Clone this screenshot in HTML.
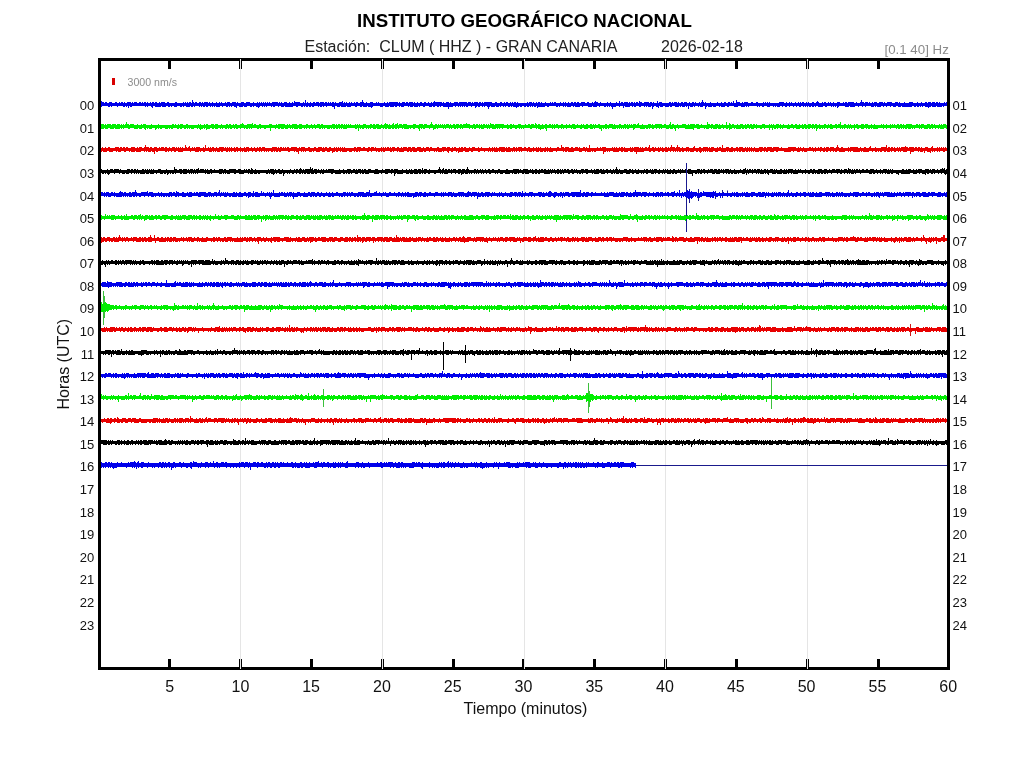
<!DOCTYPE html>
<html><head><meta charset="utf-8"><title>Helicorder</title><style>html,body{margin:0;padding:0;background:#fff;width:1024px;height:768px;overflow:hidden}svg{display:block}</style></head><body>
<svg width="1024" height="768" viewBox="0 0 1024 768">
<rect width="1024" height="768" fill="#fff"/>
<rect x="240" y="61" width="1" height="606" fill="#e5e5e5"/>
<rect x="382" y="61" width="1" height="606" fill="#e5e5e5"/>
<rect x="524" y="61" width="1" height="606" fill="#e5e5e5"/>
<rect x="665" y="61" width="1" height="606" fill="#e5e5e5"/>
<rect x="807" y="61" width="1" height="606" fill="#e5e5e5"/>
<path d="M100.5 102.0V106.0m1 -5v6m1 -5v4m1 -4v4m1 -3v3m1 -4v4m1 -4v4m1 -3v3m1 -3v4m1 -5v5m1 -5v4m1 -4v5m1 -4v3m1 -3v3m1 -3v3m1 -4v4m1 -4v4m1 -3v4m1 -4v3m1 -4v4m1 -3v3m1 -4v4m1 -4v4m1 -3v4m1 -5v5m1 -4v3m1 -3v4m1 -5v4m1 -4v6m1 -6v4m1 -4v5m1 -4v4m1 -5v4m1 -3v3m1 -4v4m1 -4v4m1 -4v4m1 -3v3m1 -3v3m1 -4v4m1 -4v4m1 -3v3m1 -4v4m1 -3v3m1 -4v4m1 -4v5m1 -4v3m1 -4v5m1 -4v3m1 -3v3m1 -4v4m1 -3v4m1 -5v6m1 -6v4m1 -3v3m1 -4v5m1 -5v5m1 -4v4m1 -4v4m1 -5v5m1 -4v4m1 -5v4m1 -4v5m1 -5v5m1 -5v5m1 -4v4m1 -4v3m1 -4v4m1 -4v5m1 -4v4m1 -4v3m1 -3v4m1 -4v3m1 -3v3m1 -3v4m1 -5v5m1 -5v5m1 -4v3m1 -3v3m1 -3v3m1 -3v4m1 -4v4m1 -4v3m1 -4v5m1 -4v3m1 -4v4m1 -3v4m1 -5v5m1 -4v4m1 -5v5m1 -5v4m1 -3v4m1 -7v7m1 -5v4m1 -3v4m1 -5v4m1 -4v4m1 -3v3m1 -3v3m1 -4v5m1 -5v4m1 -3v4m1 -5v4m1 -3v4m1 -5v5m1 -5v4m1 -4v5m1 -5v5m1 -4v3m1 -4v4m1 -3v4m1 -4v3m1 -4v5m1 -4v3m1 -3v4m1 -4v3m1 -4v5m1 -4v4m1 -4v4m1 -5v5m1 -4v3m1 -4v4m1 -3v4m1 -4v3m1 -3v3m1 -4v4m1 -3v4m1 -5v5m1 -5v4m1 -4v5m1 -4v3m1 -3v4m1 -5v4m1 -4v4m1 -4v5m1 -5v5m1 -4v5m1 -6v4m1 -3v3m1 -3v4m1 -4v4m1 -5v5m1 -5v5m1 -5v4m1 -3v4m1 -4v4m1 -5v5m1 -5v4m1 -4v4m1 -4v4m1 -3v4m1 -4v4m1 -4v3m1 -4v5m1 -4v3m1 -3v3m1 -3v4m1 -5v5m1 -4v5m1 -6v5m1 -4v3m1 -4v4m1 -3v4m1 -5v4m1 -3v4m1 -5v4m1 -3v4m1 -5v4m1 -3v3m1 -4v4m1 -3v3m1 -3v4m1 -5v4m1 -4v5m1 -5v5m1 -5v4m1 -4v4m1 -4v4m1 -3v4m1 -5v4m1 -3v3m1 -4v5m1 -4v4m1 -4v4m1 -5v4m1 -4v5m1 -5v5m1 -4v4m1 -4v4m1 -5v5m1 -4v4m1 -4v4m1 -5v5m1 -4v3m1 -5v5m1 -4v4m1 -4v5m1 -5v5m1 -5v4m1 -4v4m1 -3v3m1 -3v4m1 -4v4m1 -5v4m1 -3v4m1 -7v6m1 -3v4m1 -5v5m1 -4v3m1 -3v4m1 -5v5m1 -4v3m1 -3v4m1 -5v5m1 -5v4m1 -3v3m1 -4v4m1 -4v4m1 -4v5m1 -4v3m1 -4v5m1 -5v5m1 -5v4m1 -4v5m1 -4v3m1 -4v4m1 -4v5m1 -4v3m1 -4v4m1 -3v3m1 -4v4m1 -3v3m1 -4v5m1 -5v5m1 -4v6m1 -7v4m1 -3v3m1 -3v4m1 -4v4m1 -5v5m1 -5v4m1 -4v5m1 -6v6m1 -4v4m1 -5v5m1 -4v4m1 -5v4m1 -3v4m1 -4v4m1 -5v5m1 -4v4m1 -5v4m1 -3v3m1 -3v3m1 -4v4m1 -3v4m1 -5v5m1 -5v4m1 -3v3m1 -3v3m1 -4v5m1 -5v5m1 -7v6m1 -4v5m1 -4v4m1 -4v4m1 -5v5m1 -4v3m1 -3v4m1 -4v4m1 -5v5m1 -5v6m1 -6v5m1 -4v3m1 -3v3m1 -3v3m1 -4v4m1 -3v3m1 -4v4m1 -3v3m1 -3v4m1 -4v4m1 -4v4m1 -4v3m1 -4v4m1 -3v4m1 -4v4m1 -5v5m1 -4v4m1 -5v4m1 -4v5m1 -5v5m1 -5v5m1 -5v5m1 -5v4m1 -4v5m1 -5v5m1 -5v4m1 -3v3m1 -4v5m1 -4v3m1 -3v4m1 -5v5m1 -5v5m1 -5v4m1 -3v3m1 -4v4m1 -4v4m1 -3v4m1 -5v4m1 -4v5m1 -5v5m1 -5v5m1 -4v3m1 -4v5m1 -4v4m1 -4v4m1 -5v5m1 -4v3m1 -3v4m1 -5v4m1 -4v4m1 -3v3m1 -3v4m1 -5v5m1 -5v4m1 -3v3m1 -3v3m1 -4v4m1 -3v4m1 -4v4m1 -5v5m1 -4v3m1 -4v5m1 -6v6m1 -5v4m1 -4v4m1 -4v5m1 -5v5m1 -5v4m1 -4v5m1 -5v4m1 -3v3m1 -4v5m1 -4v4m1 -4v4m1 -5v5m1 -5v5m1 -5v7m1 -6v4m1 -5v5m1 -4v4m1 -4v4m1 -4v3m1 -4v4m1 -4v5m1 -5v4m1 -4v4m1 -3v4m1 -5v4m1 -4v5m1 -5v4m1 -4v5m1 -5v4m1 -4v5m1 -5v4m1 -4v5m1 -4v4m1 -5v4m1 -4v4m1 -4v4m1 -3v4m1 -5v4m1 -3v3m1 -4v4m1 -4v6m1 -6v5m1 -5v4m1 -3v4m1 -5v5m1 -5v4m1 -3v3m1 -4v5m1 -4v3m1 -4v5m1 -5v4m1 -4v4m1 -4v5m1 -5v7m1 -7v5m1 -5v4m1 -4v5m1 -4v4m1 -4v4m1 -4v4m1 -5v4m1 -4v5m1 -4v4m1 -4v4m1 -4v3m1 -4v5m1 -5v4m1 -3v3m1 -3v4m1 -5v4m1 -3v4m1 -5v4m1 -4v4m1 -3v4m1 -4v4m1 -5v4m1 -3v4m1 -5v4m1 -3v4m1 -5v5m1 -5v5m1 -4v5m1 -6v5m1 -4v4m1 -4v3m1 -3v4m1 -4v4m1 -4v3m1 -3v3m1 -3v4m1 -4v4m1 -4v3m1 -4v5m1 -4v4m1 -5v4m1 -4v5m1 -5v4m1 -3v4m1 -5v4m1 -3v4m1 -4v4m1 -5v4m1 -3v5m1 -6v5m1 -5v5m1 -4v4m1 -5v5m1 -4v4m1 -4v4m1 -4v4m1 -5v4m1 -3v3m1 -3v4m1 -4v4m1 -4v3m1 -4v4m1 -3v3m1 -4v4m1 -3v3m1 -4v4m1 -4v4m1 -3v4m1 -4v4m1 -4v3m1 -3v4m1 -5v4m1 -3v3m1 -3v3m1 -4v5m1 -4v3m1 -4v5m1 -4v3m1 -3v4m1 -5v5m1 -4v4m1 -4v4m1 -5v4m1 -4v4m1 -3v4m1 -5v4m1 -4v5m1 -4v4m1 -5v5m1 -5v5m1 -4v4m1 -4v3m1 -4v4m1 -4v5m1 -5v4m1 -4v4m1 -3v3m1 -3v3m1 -4v4m1 -4v5m1 -4v4m1 -4v4m1 -4v4m1 -5v4m1 -3v4m1 -5v5m1 -6v6m1 -5v5m1 -5v4m1 -3v3m1 -3v4m1 -5v4m1 -3v3m1 -3v3m1 -3v3m1 -3v4m1 -4v4m1 -4v3m1 -4v5m1 -4v3m1 -3v4m1 -5v4m1 -3v4m1 -4v6m1 -6v4m1 -4v4m1 -4v4m1 -5v4m1 -3v3m1 -3v3m1 -5v6m1 -4v3m1 -4v4m1 -4v4m1 -3v5m1 -6v4m1 -4v5m1 -5v5m1 -5v5m1 -4v4m1 -5v5m1 -4v3m1 -4v4m1 -4v5m1 -4v3m1 -4v5m1 -4v4m1 -5v4m1 -4v4m1 -3v3m1 -5v6m1 -5v5m1 -5v4m1 -3v3m1 -3v3m1 -4v5m1 -5v4m1 -4v5m1 -5v4m1 -4v5m1 -4v4m1 -5v5m1 -5v4m1 -3v6m1 -7v5m1 -4v3m1 -3v3m1 -3v4m1 -6v6m1 -4v5m1 -6v4m1 -4v5m1 -5v5m1 -4v4m1 -4v3m1 -3v3m1 -3v4m1 -4v4m1 -4v4m1 -4v4m1 -5v4m1 -4v5m1 -4v4m1 -5v4m1 -3v3m1 -4v4m1 -4v5m1 -5v5m1 -4v4m1 -5v5m1 -4v3m1 -3v4m1 -5v4m1 -4v5m1 -4v4m1 -5v5m1 -5v4m1 -4v5m1 -4v3m1 -3v6m1 -7v4m1 -3v4m1 -4v4m1 -5v5m1 -5v4m1 -3v4m1 -5v4m1 -3v3m1 -3v3m1 -3v4m1 -5v4m1 -3v4m1 -5v5m1 -7v7m1 -5v4m1 -3v3m1 -4v7m1 -6v4m1 -4v3m1 -3v4m1 -4v4m1 -5v5m1 -4v4m1 -4v3m1 -3v4m1 -4v4m1 -4v4m1 -4v3m1 -4v4m1 -3v3m1 -3v4m1 -4v3m1 -4v5m1 -4v4m1 -4v4m1 -5v5m1 -5v4m1 -3v3m1 -3v4m1 -5v5m1 -5v4m1 -3v3m1 -4v4m1 -3v3m1 -5v5m1 -3v4m1 -4v4m1 -7v7m1 -5v5m1 -5v4m1 -4v4m1 -3v3m1 -3v4m1 -5v5m1 -4v4m1 -5v5m1 -5v4m1 -4v5m1 -5v4m1 -3v4m1 -4v3m1 -3v3m1 -4v4m1 -4v4m1 -3v3m1 -3v3m1 -3v3m1 -4v4m1 -4v5m1 -4v3m1 -3v4m1 -4v3m1 -3v3m1 -3v4m1 -5v5m1 -4v3m1 -4v4m1 -3v3m1 -4v5m1 -4v4m1 -5v5m1 -4v3m1 -3v3m1 -3v3m1 -3v4m1 -4v3m1 -3v4m1 -4v3m1 -3v4m1 -4v4m1 -5v5m1 -5v4m1 -4v4m1 -4v5m1 -5v4m1 -3v3m1 -3v4m1 -5v5m1 -4v3m1 -3v3m1 -4v5m1 -4v3m1 -4v4m1 -3v3m1 -3v4m1 -4v3m1 -4v4m1 -3v4m1 -4v3m1 -4v4m1 -3v4m1 -5v5m1 -4v3m1 -4v4m1 -4v5m1 -4v3m1 -3v4m1 -5v4m1 -3v4m1 -5v4m1 -3v4m1 -4v4m1 -4v3m1 -4v5m1 -5v5m1 -4v3m1 -3v4m1 -5v4m1 -5v5m1 -4v5m1 -4v4m1 -4v4m1 -4v4m1 -5v5m1 -4v3m1 -4v4m1 -4v5m1 -4v4m1 -4v3m1 -4v4m1 -3v3m1 -4v4m1 -3v4m1 -4v3m1 -4v5m1 -4v3m1 -3v4m1 -4v3m1 -4v6m1 -6v5m1 -5v4m1 -3v3m1 -3v3m1 -3v3m1 -4v4m1 -3v3m1 -4v5m1 -5v5m1 -4v4m1 -5v5m1 -5v4m1 -4v5m1 -5v5m1 -5v5m1 -5v5m1 -4v4m1 -4v3m1 -4v4m1 -3v3m1 -3v4m1 -4v3m1 -4v4m1 -6v6m1 -4v5m1 -5v4m1 -3v3m1 -4v5m1 -5v4m1 -4v4m1 -3v3m1 -4v4m1 -3v3m1 -3v4m1 -5v5m1 -4v4m1 -5v4m1 -4v5m1 -5v4m1 -3v4m1 -4v4m1 -5v5m1 -5v5m1 -5v4m1 -4v4m1 -3v4m1 -5v4m1 -3v3m1 -3v4m1 -5v4m1 -4v4m1 -4v4m1 -4v5m1 -5v4m1 -3v3m1 -3v4m1 -4v4m1 -5v5m1 -5v4m1 -4v4m1 -3v4m1 -5v5m1 -4v4m1 -4v3m1 -3v4m1 -4v4m1 -5v5m1 -4v4m1 -4v4m1 -4v4m1 -4v4m1 -5v5m1 -5v5m1 -5v5m1 -5v4m1 -3v3m1 -3v4m1 -4v4m1 -4v3m1 -4v5m1 -4v4m1 -4v3m1 -3v4m1 -5v4m1 -3v4m1 -4v3m1 -3v3m1 -4v5m1 -5v5m1 -4v4m1 -5v6m1 -6v5m1 -5v5m1 -4v3m1 -4v5m1 -5v5m1 -5v5m1 -4v4m1 -5v4m1 -4v5m1 -4v4m1 -5v5m1 -4v4m1 -4v4m1 -4v3m1 -3v4m1 -5v4m1 -3v3m1 -4v4m1 -3v4" stroke="#0000ea" stroke-width="1" fill="none"/>
<path d="M100.5 125.0V128.0m1 -4v5m1 -5v5m1 -5v5m1 -4v3m1 -4v5m1 -4v4m1 -5v5m1 -5v4m1 -4v4m1 -4v5m1 -4v4m1 -5v5m1 -5v5m1 -5v4m1 -4v5m1 -4v4m1 -5v5m1 -5v5m1 -5v5m1 -4v3m1 -4v5m1 -4v3m1 -4v5m1 -4v3m1 -4v4m1 -6v6m1 -4v4m1 -4v5m1 -4v4m1 -5v4m1 -4v4m1 -4v4m1 -4v4m1 -3v4m1 -4v4m1 -4v4m1 -5v5m1 -4v3m1 -3v4m1 -4v4m1 -5v5m1 -4v3m1 -4v4m1 -4v5m1 -5v6m1 -5v3m1 -3v4m1 -4v3m1 -3v4m1 -4v4m1 -5v5m1 -4v3m1 -3v3m1 -3v3m1 -3v5m1 -5v4m1 -4v3m1 -4v5m1 -4v3m1 -3v4m1 -4v4m1 -4v3m1 -3v3m1 -3v3m1 -3v4m1 -4v4m1 -4v4m1 -4v3m1 -3v4m1 -4v3m1 -3v4m1 -5v5m1 -5v4m1 -3v3m1 -4v4m1 -3v3m1 -3v4m1 -5v5m1 -4v3m1 -4v5m1 -5v5m1 -5v4m1 -3v3m1 -3v4m1 -4v4m1 -5v4m1 -4v5m1 -4v3m1 -3v4m1 -4v3m1 -3v4m1 -4v4m1 -4v4m1 -4v3m1 -3v3m1 -3v3m1 -3v4m1 -5v4m1 -3v4m1 -5v6m1 -5v4m1 -4v4m1 -4v3m1 -4v5m1 -4v3m1 -4v6m1 -6v5m1 -4v4m1 -4v4m1 -4v3m1 -4v4m1 -4v5m1 -5v5m1 -4v3m1 -4v5m1 -5v5m1 -5v5m1 -4v3m1 -3v3m1 -3v4m1 -5v4m1 -3v4m1 -4v3m1 -3v3m1 -3v4m1 -5v5m1 -5v4m1 -3v4m1 -5v4m1 -4v5m1 -4v4m1 -4v3m1 -4v4m1 -3v4m1 -5v4m1 -4v5m1 -4v4m1 -4v3m1 -3v3m1 -4v5m1 -5v4m1 -5v5m1 -4v4m1 -3v4m1 -4v3m1 -3v4m1 -5v5m1 -5v4m1 -4v5m1 -5v4m1 -4v5m1 -6v5m1 -3v3m1 -4v4m1 -4v4m1 -3v3m1 -3v4m1 -4v4m1 -5v4m1 -4v5m1 -4v3m1 -3v3m1 -3v3m1 -3v4m1 -4v4m1 -4v3m1 -3v3m1 -3v3m1 -4v4m1 -4v7m1 -7v4m1 -3v3m1 -3v3m1 -3v3m1 -3v4m1 -5v4m1 -3v3m1 -4v5m1 -5v5m1 -5v4m1 -4v5m1 -5v5m1 -5v5m1 -5v4m1 -3v4m1 -4v4m1 -5v5m1 -4v3m1 -4v4m1 -3v4m1 -4v3m1 -4v5m1 -5v4m1 -4v5m1 -5v5m1 -5v5m1 -4v4m1 -4v3m1 -4v5m1 -5v5m1 -5v5m1 -4v3m1 -3v3m1 -3v4m1 -4v3m1 -4v5m1 -5v4m1 -3v3m1 -3v4m1 -4v3m1 -4v4m1 -3v4m1 -4v3m1 -4v4m1 -3v4m1 -4v3m1 -4v4m1 -4v4m1 -4v5m1 -4v4m1 -5v4m1 -4v5m1 -4v3m1 -3v4m1 -4v3m1 -3v3m1 -3v4m1 -4v4m1 -4v4m1 -4v3m1 -3v4m1 -5v4m1 -4v5m1 -5v5m1 -4v3m1 -4v5m1 -4v4m1 -5v4m1 -4v5m1 -4v3m1 -4v5m1 -5v4m1 -3v4m1 -5v5m1 -4v4m1 -5v5m1 -4v3m1 -4v4m1 -3v3m1 -4v4m1 -3v3m1 -3v3m1 -3v3m1 -3v3m1 -4v5m1 -4v4m1 -5v4m1 -3v6m1 -7v4m1 -3v4m1 -4v3m1 -3v4m1 -5v5m1 -5v4m1 -4v4m1 -3v4m1 -4v3m1 -3v4m1 -4v3m1 -4v5m1 -5v4m1 -3v3m1 -4v5m1 -5v5m1 -4v4m1 -5v4m1 -4v5m1 -5v5m1 -4v4m1 -4v4m1 -5v4m1 -3v3m1 -3v4m1 -5v4m1 -5v6m1 -5v5m1 -5v4m1 -3v4m1 -5v5m1 -4v4m1 -4v3m1 -4v5m1 -6v6m1 -4v3m1 -4v5m1 -5v5m1 -6v5m1 -3v4m1 -5v4m1 -4v4m1 -4v4m1 -3v4m1 -5v4m1 -4v5m1 -5v5m1 -5v5m1 -4v4m1 -4v4m1 -4v3m1 -3v4m1 -4v3m1 -3v3m1 -4v5m1 -5v5m1 -5v4m1 -3v3m1 -3v3m1 -3v4m1 -5v7m1 -7v4m1 -4v5m1 -5v4m1 -3v4m1 -5v5m1 -5v4m1 -4v4m1 -3v3m1 -3v3m1 -3v4m1 -5v4m1 -6v6m1 -4v4m1 -3v5m1 -5v4m1 -5v5m1 -5v4m1 -3v4m1 -5v4m1 -3v3m1 -4v4m1 -3v3m1 -4v4m1 -3v4m1 -5v4m1 -3v4m1 -5v4m1 -4v4m1 -4v4m1 -3v4m1 -5v4m1 -3v4m1 -4v3m1 -4v4m1 -4v5m1 -4v4m1 -5v4m1 -4v5m1 -5v4m1 -3v3m1 -4v5m1 -5v4m1 -3v4m1 -5v4m1 -4v4m1 -4v4m1 -5v5m1 -4v4m1 -4v4m1 -4v5m1 -4v3m1 -3v3m1 -3v4m1 -5v4m1 -4v5m1 -4v4m1 -5v4m1 -4v4m1 -3v3m1 -4v5m1 -4v3m1 -4v5m1 -4v4m1 -5v5m1 -5v4m1 -3v3m1 -4v4m1 -3v4m1 -5v4m1 -3v4m1 -6v5m1 -4v4m1 -4v5m1 -5v5m1 -4v4m1 -5v5m1 -5v4m1 -4v5m1 -5v4m1 -4v5m1 -5v4m1 -4v4m1 -4v5m1 -5v4m1 -3v3m1 -3v3m1 -3v3m1 -4v5m1 -4v4m1 -4v3m1 -4v5m1 -5v5m1 -4v3m1 -4v4m1 -3v3m1 -3v4m1 -4v4m1 -4v3m1 -4v4m1 -4v5m1 -5v4m1 -3v4m1 -4v3m1 -3v4m1 -4v3m1 -4v4m1 -3v3m1 -3v3m1 -4v4m1 -4v4m1 -3v4m1 -5v5m1 -5v4m1 -4v4m1 -3v3m1 -5v5m1 -4v5m1 -4v3m1 -4v5m1 -5v5m1 -4v5m1 -5v4m1 -5v5m1 -4v4m1 -4v3m1 -4v5m1 -5v7m1 -6v3m1 -3v3m1 -4v4m1 -4v4m1 -3v3m1 -4v5m1 -4v3m1 -4v5m1 -4v3m1 -4v4m1 -4v4m1 -3v4m1 -4v3m1 -3v3m1 -4v5m1 -5v4m1 -3v4m1 -4v3m1 -3v3m1 -4v5m1 -4v3m1 -3v3m1 -4v4m1 -3v3m1 -3v4m1 -5v4m1 -4v5m1 -5v5m1 -4v4m1 -4v3m1 -4v4m1 -3v3m1 -3v3m1 -3v4m1 -5v5m1 -4v3m1 -4v4m1 -3v4m1 -4v4m1 -5v5m1 -5v5m1 -4v3m1 -3v3m1 -4v5m1 -5v5m1 -4v4m1 -5v4m1 -3v4m1 -5v4m1 -3v3m1 -3v3m1 -4v4m1 -4v5m1 -4v4m1 -4v6m1 -6v3m1 -3v4m1 -4v3m1 -4v5m1 -5v5m1 -4v3m1 -3v4m1 -5v4m1 -4v4m1 -4v4m1 -4v5m1 -4v4m1 -5v5m1 -4v4m1 -4v3m1 -3v4m1 -4v3m1 -4v5m1 -5v4m1 -3v4m1 -4v3m1 -3v4m1 -5v4m1 -4v5m1 -4v3m1 -4v5m1 -4v4m1 -5v4m1 -3v3m1 -4v4m1 -3v3m1 -4v6m1 -6v5m1 -5v4m1 -3v3m1 -4v4m1 -5v5m1 -3v3m1 -3v4m1 -4v4m1 -5v5m1 -4v4m1 -4v4m1 -4v3m1 -3v4m1 -4v4m1 -5v4m1 -4v5m1 -5v4m1 -3v3m1 -4v5m1 -4v4m1 -4v3m1 -4v4m1 -4v5m1 -5v4m1 -4v4m1 -4v5m1 -5v4m1 -4v5m1 -4v3m1 -3v3m1 -4v4m1 -4v4m1 -3v4m1 -4v4m1 -4v4m1 -5v4m1 -6v7m1 -4v4m1 -5v5m1 -5v4m1 -3v4m1 -4v6m1 -6v3m1 -4v4m1 -3v4m1 -4v3m1 -3v3m1 -3v3m1 -4v4m1 -4v4m1 -4v4m1 -4v5m1 -4v4m1 -4v4m1 -5v5m1 -4v4m1 -5v5m1 -5v5m1 -5v5m1 -5v6m1 -6v4m1 -3v3m1 -4v4m1 -4v5m1 -5v5m1 -4v4m1 -4v3m1 -4v4m1 -3v3m1 -3v3m1 -3v4m1 -4v3m1 -3v4m1 -7v7m1 -5v5m1 -5v4m1 -3v3m1 -4v5m1 -5v4m1 -3v4m1 -4v4m1 -5v5m1 -5v5m1 -5v4m1 -3v4m1 -5v5m1 -4v4m1 -4v3m1 -4v4m1 -3v4m1 -4v3m1 -3v3m1 -6v7m1 -4v4m1 -4v3m1 -5v7m1 -6v5m1 -4v4m1 -5v4m1 -4v4m1 -3v4m1 -4v3m1 -3v4m1 -5v5m1 -4v4m1 -4v4m1 -5v5m1 -5v4m1 -4v5m1 -4v4m1 -4v3m1 -4v5m1 -4v4m1 -5v4m1 -4v4m1 -3v4m1 -5v4m1 -4v5m1 -4v4m1 -5v5m1 -5v4m1 -3v3m1 -4v5m1 -4v3m1 -3v3m1 -3v3m1 -3v4m1 -4v4m1 -5v4m1 -4v4m1 -4v5m1 -4v3m1 -3v3m1 -3v3m1 -3v3m1 -4v6m1 -5v3m1 -4v4m1 -3v5m1 -6v4m1 -3v4m1 -4v4m1 -5v4m1 -4v5m1 -5v4m1 -3v3m1 -4v5m1 -4v3m1 -3v4m1 -5v4m1 -3v3m1 -3v3m1 -3v3m1 -3v4m1 -5v5m1 -4v4m1 -4v3m1 -4v4m1 -4v4m1 -3v4m1 -4v3m1 -4v4m1 -4v5m1 -4v4m1 -4v4m1 -5v5m1 -4v3m1 -3v3m1 -4v5m1 -4v4m1 -5v4m1 -4v5m1 -4v4m1 -4v3m1 -4v5m1 -5v5m1 -5v4m1 -3v3m1 -4v5m1 -5v4m1 -3v4m1 -5v4m1 -4v7m1 -6v4m1 -4v3m1 -4v5m1 -4v4m1 -4v3m1 -3v4m1 -4v3m1 -4v5m1 -5v4m1 -3v3m1 -3v4m1 -5v4m1 -3v3m1 -4v5m1 -5v5m1 -4v4m1 -4v3m1 -3v3m1 -4v4m1 -4v5m1 -4v3m1 -4v4m1 -4v4m1 -6v7m1 -4v3m1 -3v4m1 -4v3m1 -4v5m1 -5v4m1 -3v3m1 -3v4m1 -5v4m1 -3v4m1 -5v4m1 -3v4m1 -4v3m1 -3v3m1 -4v6m1 -5v3m1 -4v4m1 -4v5m1 -4v4m1 -4v3m1 -3v3m1 -4v5m1 -5v5m1 -5v5m1 -4v3m1 -4v4m1 -4v5m1 -5v4m1 -3v4m1 -4v4m1 -4v3m1 -4v5m1 -4v3m1 -3v4m1 -5v5m1 -4v4m1 -4v4m1 -4v4m1 -4v3m1 -3v3m1 -3v3m1 -4v4m1 -3v3m1 -4v5m1 -4v3m1 -3v3m1 -4v5m1 -4v3m1 -3v3m1 -3v3m1 -4v5m1 -4v3m1 -4v4m1 -3v3m1 -4v4m1 -3v3m1 -3v4m1 -5v4m1 -4v5m1 -4v4m1 -5v4m1 -4v5m1 -4v3m1 -4v5m1 -4v3m1 -3v4m1 -5v5m1 -5v4m1 -4v5m1 -5v5m1 -5v5m1 -5v4m1 -3v4m1 -4v3m1 -3v4m1 -4v3m1 -4v4m1 -4v4m1 -3v3m1 -4v5m1 -4v3m1 -4v5m1 -5v4m1 -4v4m1 -3v4m1 -4v4m1 -4v4m1 -5v5m1 -5v4m1 -4v5m1 -4v4m1 -5v4m1 -4v5m1 -4v3m1 -4v4m1 -3v4m1 -4v3m1 -3v3m1 -3v4m1 -5v4m1 -3v4m1 -5v5m1 -4v4m1 -5v5m1 -5v4m1 -4v4m1 -3v4m1 -4v4" stroke="#00ee00" stroke-width="1" fill="none"/>
<path d="M100.5 147.0V151.0m1 -3v4m1 -5v4m1 -3v4m1 -4v4m1 -5v5m1 -4v4m1 -4v3m1 -4v4m1 -4v5m1 -4v4m1 -4v4m1 -4v4m1 -4v3m1 -3v3m1 -4v4m1 -4v5m1 -5v4m1 -4v5m1 -4v4m1 -5v5m1 -5v4m1 -3v3m1 -4v4m1 -4v5m1 -4v4m1 -5v4m1 -4v4m1 -3v3m1 -3v4m1 -4v3m1 -4v5m1 -5v5m1 -5v5m1 -5v5m1 -4v3m1 -3v4m1 -5v5m1 -4v4m1 -5v5m1 -5v5m1 -5v4m1 -3v3m1 -3v3m1 -4v5m1 -7v6m1 -4v5m1 -5v4m1 -4v5m1 -4v4m1 -5v5m1 -5v4m1 -3v4m1 -4v4m1 -5v7m1 -7v4m1 -4v5m1 -4v4m1 -4v3m1 -4v4m1 -3v3m1 -4v4m1 -4v4m1 -4v4m1 -3v3m1 -4v5m1 -5v5m1 -4v3m1 -3v4m1 -5v4m1 -3v3m1 -3v4m1 -5v4m1 -4v4m1 -4v5m1 -4v4m1 -5v4m1 -3v3m1 -4v5m1 -4v4m1 -5v5m1 -4v4m1 -5v5m1 -4v3m1 -3v3m1 -6v6m1 -4v4m1 -3v3m1 -4v4m1 -5v5m1 -3v4m1 -4v3m1 -4v4m1 -3v3m1 -4v4m1 -3v4m1 -5v5m1 -5v5m1 -5v5m1 -5v4m1 -3v4m1 -4v3m1 -3v3m1 -4v5m1 -4v4m1 -7v6m1 -3v3m1 -3v3m1 -4v4m1 -3v4m1 -5v5m1 -4v4m1 -5v4m1 -4v5m1 -4v3m1 -3v4m1 -5v4m1 -3v4m1 -4v4m1 -5v5m1 -5v4m1 -4v5m1 -5v5m1 -5v4m1 -3v3m1 -4v4m1 -3v4m1 -5v5m1 -4v3m1 -4v5m1 -4v3m1 -4v5m1 -4v3m1 -3v3m1 -4v5m1 -4v4m1 -5v4m1 -4v5m1 -4v3m1 -3v3m1 -4v5m1 -4v3m1 -3v4m1 -4v3m1 -4v5m1 -4v4m1 -5v5m1 -5v4m1 -4v5m1 -4v3m1 -3v3m1 -4v4m1 -3v4m1 -4v3m1 -4v4m1 -3v4m1 -4v4m1 -5v4m1 -3v3m1 -4v5m1 -5v4m1 -3v4m1 -5v4m1 -4v4m1 -4v5m1 -4v3m1 -3v4m1 -4v3m1 -3v4m1 -4v3m1 -3v3m1 -3v4m1 -5v5m1 -5v4m1 -4v5m1 -5v4m1 -4v5m1 -4v4m1 -5v4m1 -3v4m1 -5v5m1 -5v4m1 -3v3m1 -4v4m1 -3v3m1 -4v4m1 -3v3m1 -4v4m1 -4v5m1 -4v4m1 -4v3m1 -4v4m1 -4v4m1 -4v4m1 -4v5m1 -5v4m1 -4v5m1 -4v4m1 -4v6m1 -7v4m1 -3v3m1 -4v5m1 -5v4m1 -4v5m1 -5v4m1 -3v4m1 -4v3m1 -3v3m1 -4v4m1 -4v5m1 -4v4m1 -4v4m1 -4v3m1 -3v4m1 -5v4m1 -4v4m1 -3v4m1 -4v4m1 -5v5m1 -5v5m1 -5v4m1 -4v4m1 -3v4m1 -5v5m1 -4v4m1 -5v4m1 -4v4m1 -3v4m1 -4v4m1 -5v5m1 -5v4m1 -3v3m1 -3v5m1 -5v4m1 -5v5m1 -4v3m1 -4v5m1 -4v4m1 -5v4m1 -3v3m1 -4v5m1 -4v3m1 -4v5m1 -4v4m1 -5v5m1 -4v4m1 -4v4m1 -4v3m1 -3v3m1 -3v4m1 -4v4m1 -4v4m1 -4v3m1 -3v3m1 -4v5m1 -5v4m1 -3v4m1 -5v5m1 -5v4m1 -4v5m1 -5v4m1 -3v3m1 -3v3m1 -4v4m1 -4v4m1 -3v3m1 -3v3m1 -3v4m1 -5v5m1 -5v4m1 -3v3m1 -4v5m1 -5v4m1 -4v4m1 -3v3m1 -4v4m1 -3v4m1 -4v3m1 -3v4m1 -4v4m1 -4v3m1 -4v5m1 -4v3m1 -4v5m1 -4v4m1 -5v4m1 -3v3m1 -4v4m1 -4v4m1 -3v3m1 -4v5m1 -4v4m1 -5v4m1 -4v5m1 -5v4m1 -3v3m1 -3v3m1 -4v5m1 -5v4m1 -3v4m1 -4v4m1 -5v5m1 -4v4m1 -5v5m1 -5v4m1 -4v4m1 -4v4m1 -3v4m1 -5v5m1 -5v4m1 -4v5m1 -4v4m1 -5v4m1 -4v5m1 -5v5m1 -4v4m1 -4v4m1 -5v4m1 -4v4m1 -4v5m1 -5v5m1 -4v4m1 -4v4m1 -5v4m1 -3v4m1 -4v4m1 -5v4m1 -4v4m1 -4v4m1 -3v4m1 -5v4m1 -4v4m1 -3v3m1 -3v3m1 -3v4m1 -4v3m1 -3v4m1 -5v4m1 -4v5m1 -4v4m1 -4v4m1 -4v4m1 -5v4m1 -4v5m1 -5v4m1 -4v4m1 -3v3m1 -4v5m1 -5v6m1 -6v4m1 -3v3m1 -3v4m1 -5v5m1 -4v3m1 -4v4m1 -4v4m1 -3v4m1 -4v3m1 -3v5m1 -6v5m1 -4v4m1 -5v5m1 -5v5m1 -4v3m1 -4v4m1 -4v5m1 -4v4m1 -4v4m1 -4v4m1 -5v4m1 -3v3m1 -3v4m1 -5v5m1 -5v4m1 -4v4m1 -3v3m1 -3v3m1 -3v3m1 -4v5m1 -4v4m1 -4v3m1 -4v4m1 -3v3m1 -3v3m1 -3v4m1 -4v3m1 -3v3m1 -3v3m1 -3v4m1 -5v4m1 -3v4m1 -4v3m1 -4v5m1 -4v3m1 -4v5m1 -4v4m1 -5v5m1 -4v4m1 -4v3m1 -4v5m1 -5v4m1 -4v5m1 -5v5m1 -5v5m1 -5v5m1 -4v3m1 -4v5m1 -4v4m1 -5v5m1 -5v5m1 -4v4m1 -4v3m1 -3v4m1 -5v4m1 -4v5m1 -4v3m1 -4v5m1 -4v3m1 -4v4m1 -4v5m1 -5v4m1 -4v5m1 -4v3m1 -3v3m1 -4v4m1 -4v4m1 -3v3m1 -3v4m1 -5v4m1 -4v5m1 -4v4m1 -4v4m1 -4v3m1 -4v5m1 -4v3m1 -3v3m1 -4v5m1 -4v4m1 -5v5m1 -4v3m1 -4v5m1 -4v4m1 -4v4m1 -4v3m1 -3v4m1 -5v5m1 -4v3m1 -4v5m1 -4v3m1 -3v4m1 -5v5m1 -4v4m1 -4v4m1 -4v3m1 -3v3m1 -3v3m1 -3v4m1 -5v4m1 -4v4m1 -3v3m1 -3v3m1 -6v6m1 -4v4m1 -4v5m1 -4v3m1 -4v5m1 -5v5m1 -5v4m1 -4v5m1 -4v4m1 -4v4m1 -5v5m1 -5v5m1 -4v4m1 -4v3m1 -4v4m1 -4v4m1 -4v4m1 -3v3m1 -4v5m1 -4v4m1 -4v4m1 -4v3m1 -4v4m1 -4v4m1 -3v4m1 -5v4m1 -3v4m1 -4v4m1 -7v7m1 -4v4m1 -4v3m1 -3v4m1 -4v3m1 -3v4m1 -4v4m1 -4v3m1 -4v4m1 -3v3m1 -3v3m1 -4v4m1 -3v3m1 -4v4m1 -4v7m1 -7v5m1 -5v5m1 -4v3m1 -3v4m1 -4v3m1 -3v4m1 -4v3m1 -3v3m1 -4v4m1 -3v4m1 -5v5m1 -4v4m1 -5v5m1 -4v4m1 -4v4m1 -5v4m1 -3v3m1 -4v5m1 -5v5m1 -4v3m1 -4v5m1 -4v4m1 -4v4m1 -4v4m1 -4v3m1 -3v3m1 -4v5m1 -4v4m1 -5v5m1 -4v3m1 -4v5m1 -5v5m1 -5v7m1 -7v5m1 -5v5m1 -4v4m1 -5v5m1 -4v4m1 -5v5m1 -4v4m1 -4v3m1 -4v4m1 -4v4m1 -3v3m1 -4v4m1 -6v7m1 -4v4m1 -4v3m1 -4v4m1 -4v5m1 -4v4m1 -5v4m1 -3v3m1 -3v3m1 -4v5m1 -4v4m1 -5v4m1 -3v3m1 -4v5m1 -4v4m1 -4v3m1 -4v5m1 -5v5m1 -4v4m1 -5v4m1 -3v3m1 -4v5m1 -7v6m1 -4v4m1 -4v5m1 -5v4m1 -3v4m1 -5v4m1 -6v7m1 -5v4m1 -4v5m1 -4v4m1 -4v3m1 -4v5m1 -4v4m1 -4v3m1 -3v3m1 -4v5m1 -5v4m1 -4v5m1 -4v3m1 -3v4m1 -4v4m1 -4v4m1 -5v5m1 -6v5m1 -3v3m1 -3v4m1 -4v4m1 -4v3m1 -4v5m1 -5v6m1 -5v4m1 -4v3m1 -4v5m1 -5v4m1 -4v5m1 -5v4m1 -4v5m1 -4v3m1 -4v5m1 -4v4m1 -5v5m1 -5v5m1 -5v4m1 -3v3m1 -3v4m1 -4v4m1 -5v5m1 -4v3m1 -4v4m1 -4v4m1 -3v4m1 -7v7m1 -4v4m1 -4v4m1 -4v4m1 -5v4m1 -4v5m1 -5v4m1 -3v4m1 -4v4m1 -5v5m1 -5v5m1 -4v3m1 -3v4m1 -4v3m1 -4v4m1 -4v5m1 -4v3m1 -4v5m1 -5v5m1 -5v4m1 -4v5m1 -4v4m1 -4v4m1 -5v4m1 -3v4m1 -5v5m1 -4v3m1 -4v5m1 -4v3m1 -4v5m1 -4v3m1 -3v4m1 -5v4m1 -3v4m1 -4v4m1 -4v4m1 -4v4m1 -5v4m1 -4v5m1 -5v5m1 -5v4m1 -3v3m1 -4v5m1 -5v4m1 -3v4m1 -5v5m1 -5v4m1 -4v4m1 -4v5m1 -5v5m1 -4v4m1 -5v5m1 -5v4m1 -4v4m1 -4v5m1 -5v5m1 -5v4m1 -3v3m1 -3v3m1 -4v4m1 -3v3m1 -3v3m1 -3v4m1 -4v4m1 -4v4m1 -4v4m1 -5v5m1 -5v5m1 -5v5m1 -5v4m1 -4v4m1 -4v5m1 -5v4m1 -4v4m1 -3v3m1 -3v4m1 -5v5m1 -4v4m1 -5v4m1 -3v3m1 -3v4m1 -5v4m1 -3v4m1 -4v4m1 -4v4m1 -4v3m1 -3v3m1 -4v4m1 -4v4m1 -3v3m1 -4v4m1 -3v4m1 -4v3m1 -4v5m1 -4v3m1 -3v3m1 -4v4m1 -3v3m1 -4v5m1 -5v4m1 -3v3m1 -3v4m1 -5v5m1 -4v3m1 -4v5m1 -5v5m1 -5v4m1 -3v3m1 -4v5m1 -5v4m1 -4v4m1 -4v5m1 -4v3m1 -3v4m1 -5v5m1 -7v6m1 -4v4m1 -3v4m1 -4v4m1 -5v5m1 -5v5m1 -4v4m1 -4v4m1 -4v3m1 -3v3m1 -3v3m1 -4v5m1 -4v3m1 -4v5m1 -5v4m1 -4v4m1 -4v5m1 -5v5m1 -5v5m1 -5v5m1 -5v5m1 -4v4m1 -4v4m1 -5v4m1 -3v4m1 -4v3m1 -3v4m1 -5v5m1 -5v5m1 -4v4m1 -4v4m1 -4v4m1 -5v4m1 -5v5m1 -3v3m1 -3v4m1 -4v3m1 -3v3m1 -4v5m1 -4v4m1 -4v3m1 -3v4m1 -4v3m1 -3v4m1 -5v5m1 -5v4m1 -4v4m1 -4v5m1 -5v5m1 -7v6m1 -3v4m1 -5v5m1 -5v5m1 -4v3m1 -4v5m1 -5v4m1 -3v3m1 -4v5m1 -4v4m1 -4v3m1 -4v4m1 -3v4m1 -5v4m1 -3v4m1 -5v4m1 -4v4m1 -4v5m1 -5v5m1 -6v6m1 -5v5m1 -5v4m1 -3v3m1 -4v4m1 -4v7m1 -7v5m1 -5v5m1 -5v5m1 -4v3m1 -4v4m1 -4v4m1 -3v3m1 -4v5m1 -5v4m1 -3v4m1 -5v5m1 -4v4m1 -4v3m1 -3v5m1 -6v4m1 -4v4m1 -4v5m1 -4v4m1 -4v4m1 -4v5m1 -6v4m1 -5v6m1 -4v3m1 -3v4m1 -4v3m1 -3v3m1 -4v5m1 -4v3m1 -4v5m1 -4v3m1 -4v4m1 -3v3m1 -4v5m1 -4v4m1 -5v4m1 -3v3m1 -4v4" stroke="#e80000" stroke-width="1" fill="none"/>
<path d="M100.5 169.0V173.0m1 -4v4m1 -3v4m1 -4v4m1 -4v3m1 -3v4m1 -4v3m1 -4v5m1 -4v5m1 -5v4m1 -5v4m1 -4v4m1 -4v4m1 -3v3m1 -4v5m1 -5v4m1 -4v4m1 -4v4m1 -4v4m1 -3v4m1 -5v4m1 -3v3m1 -3v4m1 -4v4m1 -4v4m1 -4v3m1 -3v4m1 -5v5m1 -5v5m1 -5v4m1 -3v3m1 -4v5m1 -5v4m1 -3v3m1 -4v5m1 -5v4m1 -3v4m1 -5v4m1 -3v4m1 -4v3m1 -3v4m1 -4v4m1 -5v5m1 -5v5m1 -4v4m1 -5v4m1 -3v4m1 -5v5m1 -4v4m1 -5v4m1 -3v4m1 -5v5m1 -4v4m1 -5v5m1 -4v3m1 -3v3m1 -3v4m1 -4v3m1 -4v4m1 -4v4m1 -4v5m1 -4v4m1 -4v4m1 -4v3m1 -3v4m1 -4v4m1 -5v4m1 -3v5m1 -5v4m1 -4v3m1 -3v4m1 -4v3m1 -3v4m1 -4v4m1 -7v6m1 -4v5m1 -5v4m1 -3v3m1 -3v3m1 -4v4m1 -4v5m1 -5v5m1 -4v3m1 -4v5m1 -5v5m1 -5v5m1 -5v5m1 -4v3m1 -4v4m1 -3v4m1 -5v4m1 -4v5m1 -5v4m1 -3v4m1 -5v4m1 -3v4m1 -5v4m1 -4v5m1 -6v5m1 -3v3m1 -4v4m1 -4v4m1 -4v4m1 -4v4m1 -3v3m1 -4v5m1 -4v3m1 -4v5m1 -4v4m1 -4v4m1 -5v4m1 -4v5m1 -4v3m1 -3v3m1 -4v4m1 -3v3m1 -3v3m1 -3v3m1 -3v3m1 -4v5m1 -5v5m1 -5v5m1 -5v4m1 -3v4m1 -5v4m1 -4v5m1 -4v3m1 -3v4m1 -4v4m1 -5v5m1 -5v4m1 -4v4m1 -4v4m1 -4v4m1 -4v5m1 -5v5m1 -4v3m1 -3v3m1 -4v4m1 -4v5m1 -5v5m1 -4v4m1 -4v4m1 -4v4m1 -5v4m1 -3v3m1 -4v4m1 -3v3m1 -4v5m1 -5v4m1 -3v4m1 -6v6m1 -5v5m1 -4v3m1 -3v4m1 -5v5m1 -4v4m1 -4v3m1 -3v4m1 -4v4m1 -4v3m1 -3v3m1 -3v3m1 -3v3m1 -3v3m1 -3v3m1 -3v4m1 -4v4m1 -5v4m1 -3v4m1 -5v4m1 -4v5m1 -5v5m1 -5v6m1 -5v4m1 -5v4m1 -3v4m1 -4v3m1 -4v4m1 -4v5m1 -4v4m1 -4v4m1 -5v4m1 -3v6m1 -6v4m1 -4v3m1 -3v3m1 -3v4m1 -4v3m1 -3v4m1 -5v4m1 -3v3m1 -3v4m1 -4v4m1 -5v4m1 -3v3m1 -4v5m1 -5v4m1 -3v3m1 -4v5m1 -6v6m1 -5v4m1 -3v4m1 -5v4m1 -3v4m1 -5v5m1 -5v4m1 -4v5m1 -5v5m1 -5v5m1 -7v6m1 -4v5m1 -6v6m1 -4v4m1 -5v4m1 -4v5m1 -5v5m1 -4v3m1 -4v4m1 -3v3m1 -3v4m1 -5v4m1 -3v4m1 -5v5m1 -4v3m1 -3v3m1 -4v4m1 -3v3m1 -4v4m1 -4v4m1 -4v4m1 -4v5m1 -5v5m1 -5v4m1 -3v3m1 -3v4m1 -4v4m1 -4v4m1 -4v4m1 -5v5m1 -4v4m1 -4v3m1 -3v3m1 -4v5m1 -4v4m1 -4v3m1 -3v4m1 -5v4m1 -4v5m1 -5v5m1 -5v4m1 -3v4m1 -4v3m1 -4v4m1 -4v4m1 -3v4m1 -5v5m1 -4v4m1 -5v4m1 -4v4m1 -4v5m1 -4v3m1 -4v5m1 -4v4m1 -5v4m1 -4v5m1 -4v4m1 -4v4m1 -5v5m1 -5v4m1 -4v4m1 -3v3m1 -3v3m1 -3v3m1 -3v4m1 -5v5m1 -5v5m1 -5v5m1 -4v4m1 -4v3m1 -3v3m1 -3v4m1 -5v4m1 -3v3m1 -3v3m1 -4v5m1 -5v5m1 -5v5m1 -5v4m1 -4v4m1 -3v3m1 -4v5m1 -5v4m1 -3v3m1 -4v7m1 -7v5m1 -5v4m1 -4v5m1 -4v4m1 -4v4m1 -4v4m1 -4v4m1 -5v5m1 -4v3m1 -3v3m1 -3v3m1 -4v5m1 -4v4m1 -4v4m1 -5v4m1 -3v4m1 -5v5m1 -4v4m1 -4v3m1 -4v5m1 -5v5m1 -5v5m1 -4v4m1 -5v4m1 -4v5m1 -5v5m1 -4v3m1 -5v6m1 -4v3m1 -4v5m1 -5v5m1 -5v4m1 -3v3m1 -3v4m1 -5v5m1 -4v3m1 -3v3m1 -3v3m1 -3v3m1 -3v4m1 -4v4m1 -4v3m1 -3v3m1 -4v4m1 -6v6m1 -4v5m1 -4v3m1 -4v5m1 -6v5m1 -3v4m1 -5v5m1 -5v5m1 -4v4m1 -5v4m1 -4v4m1 -3v3m1 -4v5m1 -4v3m1 -4v4m1 -4v4m1 -4v5m1 -4v3m1 -3v3m1 -4v5m1 -5v5m1 -5v4m1 -3v5m1 -6v5m1 -5v5m1 -5v4m1 -3v4m1 -5v5m1 -7v7m1 -5v4m1 -3v4m1 -4v3m1 -3v4m1 -4v3m1 -3v3m1 -4v5m1 -5v4m1 -3v4m1 -5v4m1 -3v4m1 -4v3m1 -4v4m1 -3v4m1 -5v4m1 -3v4m1 -4v3m1 -4v4m1 -3v4m1 -4v3m1 -4v4m1 -4v5m1 -4v4m1 -4v3m1 -4v4m1 -4v4m1 -3v3m1 -3v4m1 -4v3m1 -3v4m1 -5v4m1 -4v4m1 -3v4m1 -4v4m1 -4v4m1 -4v3m1 -3v3m1 -3v4m1 -5v5m1 -5v5m1 -4v4m1 -4v4m1 -4v3m1 -3v3m1 -3v4m1 -5v4m1 -4v5m1 -5v5m1 -5v5m1 -5v4m1 -4v5m1 -4v3m1 -4v4m1 -3v3m1 -3v4m1 -5v5m1 -5v4m1 -4v5m1 -5v5m1 -5v5m1 -4v4m1 -4v3m1 -4v4m1 -3v3m1 -4v5m1 -4v4m1 -4v3m1 -4v5m1 -5v5m1 -4v3m1 -3v4m1 -5v5m1 -4v3m1 -4v4m1 -4v4m1 -3v3m1 -4v5m1 -5v5m1 -4v4m1 -4v4m1 -5v5m1 -4v4m1 -5v4m1 -3v4m1 -5v4m1 -3v3m1 -4v4m1 -3v4m1 -4v3m1 -4v5m1 -5v5m1 -4v3m1 -4v5m1 -4v4m1 -5v4m1 -3v4m1 -5v4m1 -4v4m1 -3v3m1 -4v4m1 -4v5m1 -4v4m1 -4v3m1 -4v4m1 -4v5m1 -4v4m1 -5v4m1 -3v3m1 -4v4m1 -3v4m1 -4v3m1 -3v4m1 -4v4m1 -5v4m1 -4v5m1 -5v4m1 -3v3m1 -4v4m1 -4v5m1 -5v5m1 -4v3m1 -3v3m1 -3v3m1 -4v4m1 -3v4m1 -4v3m1 -4v5m1 -4v4m1 -5v5m1 -5v5m1 -5v5m1 -4v3m1 -4v4m1 -4v5m1 -4v4m1 -5v5m1 -4v4m1 -4v3m1 -4v4m1 -4v5m1 -4v3m1 -3v3m1 -4v4m1 -3v4m1 -4v4m1 -5v4m1 -3v4m1 -5v4m1 -6v7m1 -5v5m1 -4v4m1 -5v4m1 -3v4m1 -4v4m1 -4v4m1 -4v3m1 -4v4m1 -4v4m1 -4v5m1 -4v4m1 -4v4m1 -5v5m1 -5v4m1 -3v3m1 -4v5m1 -4v4m1 -4v3m1 -4v4m1 -3v4m1 -4v4m1 -5v5m1 -4v3m1 -3v3m1 -3v4m1 -4v3m1 -3v4m1 -5v4m1 -3v3m1 -4v5m1 -5v5m1 -4v3m1 -3v3m1 -4v4m1 -3v4m1 -5v5m1 -4v4m1 -5v4m1 -4v5m1 -5v4m1 -3v3m1 -3v4m1 -5v5m1 -4v3m1 -3v3m1 -3v4m1 -5v4m1 -3v4m1 -5v4m1 -3v3m1 -4v5m1 -4v4m1 -4v4m1 -5v5m1 -4v3m1 -3v4m1 -5v5m1 -5v4m1 -3v4m1 -4v4m1 -4v3m1 -4v4m1 -3v3m1 -4v5m1 -4v3m1 -4v4m1 -3v3m1 -3v3m1 -4v4m1 -3v3m1 -3v3m1 -4v5m1 -5v5m1 -5v5m1 -4v4m1 -4v6m1 -6v3m1 -3v3m1 -3v4m1 -4v4m1 -5v4m1 -4v5m1 -5v4m1 -3v4m1 -5v5m1 -4v3m1 -4v4m1 -4v5m1 -4v3m1 -3v3m1 -3v4m1 -5v4m1 -3v3m1 -4v4m1 -4v4m1 -4v5m1 -4v4m1 -5v5m1 -5v4m1 -4v5m1 -4v4m1 -5v5m1 -5v5m1 -4v3m1 -4v4m1 -3v3m1 -4v5m1 -4v3m1 -4v4m1 -4v5m1 -5v4m1 -4v5m1 -4v4m1 -5v4m1 -3v4m1 -4v4m1 -4v3m1 -4v5m1 -4v4m1 -4v4m1 -4v3m1 -3v4m1 -4v3m1 -4v4m1 -3v3m1 -3v4m1 -5v5m1 -5v5m1 -6v5m1 -3v5m1 -6v4m1 -3v4m1 -5v4m1 -4v4m1 -3v3m1 -4v5m1 -4v3m1 -4v4m1 -4v4m1 -3v4m1 -5v4m1 -4v5m1 -5v4m1 -3v4m1 -5v5m1 -4v4m1 -4v4m1 -5v4m1 -4v5m1 -4v3m1 -4v5m1 -4v5m1 -5v3m1 -4v4m1 -4v4m1 -4v5m1 -4v4m1 -5v5m1 -4v4m1 -5v4m1 -3v4m1 -4v4m1 -4v4m1 -5v5m1 -5v5m1 -4v3m1 -3v4m1 -5v5m1 -4v4m1 -5v5m1 -4v3m1 -4v5m1 -5v4m1 -4v4m1 -4v5m1 -5v4m1 -3v4m1 -4v4m1 -5v5m1 -4v4m1 -4v4m1 -5v4m1 -3v3m1 -4v4m1 -3v3m1 -3v4m1 -4v3m1 -3v3m1 -4v5m1 -4v3m1 -3v3m1 -3v4m1 -4v4m1 -5v4m1 -4v4m1 -3v4m1 -5v5m1 -5v4m1 -3v4m1 -4v3m1 -3v4m1 -5v5m1 -5v5m1 -5v4m1 -4v5m1 -4v4m1 -4v3m1 -4v5m1 -5v5m1 -5v4m1 -3v4m1 -4v3m1 -4v4m1 -3v3m1 -3v4m1 -5v4m1 -4v4m1 -4v4m1 -3v3m1 -4v4m1 -4v5m1 -5v4m1 -4v4m1 -3v4m1 -5v5m1 -4v3m1 -3v3m1 -4v5m1 -5v4m1 -4v4m1 -3v4m1 -6v5m1 -4v5m1 -5v4m1 -3v4m1 -5v5m1 -4v4m1 -5v4m1 -3v4m1 -5v4m1 -4v4m1 -3v3m1 -4v4m1 -3v4m1 -4v3m1 -4v4m1 -4v4m1 -3v3m1 -3v3m1 -4v4m1 -4v4m1 -3v3m1 -3v4m1 -5v5m1 -5v5m1 -5v4m1 -4v5m1 -4v4m1 -4v3m1 -4v4m1 -3v4m1 -4v3m1 -3v3m1 -4v5m1 -4v3m1 -3v4m1 -5v4m1 -4v4m1 -4v5m1 -5v4m1 -3v4m1 -5v5m1 -4v4m1 -5v4m1 -3v4m1 -5v5m1 -4v3m1 -3v3m1 -3v3m1 -3v4m1 -4v4m1 -4v5m1 -5v3m1 -3v3m1 -3v4m1 -5v5m1 -5v5m1 -4v4m1 -4v4m1 -5v5m1 -4v4m1 -5v5m1 -5v5m1 -5v4m1 -3v3m1 -3v3m1 -4v5m1 -4v4m1 -4v4m1 -5v5m1 -4v3m1 -4v4m1 -4v5m1 -5v4m1 -4v4m1 -3v4m1 -4v4m1 -4v4m1 -5v6m1 -6v4m1 -4v5m1 -5v5m1 -4v3m1 -4v4m1 -3v4m1 -5v5m1 -5v4m1 -4v5m1 -4v3m1 -3v3m1 -4v4m1 -3v4m1 -4v3m1 -4v4m1 -4v5m1 -6v5m1 -4v4m1 -5v6m1 -4v5m1 -6v5m1 -4v3" stroke="#000000" stroke-width="1" fill="none"/>
<rect x="686" y="163.0" width="1" height="69.0" fill="#1a1a90"/>
<rect x="689" y="189.0" width="1" height="14.0" fill="#1a1a90"/>
<rect x="691" y="191.0" width="1" height="8.0" fill="#1a1a90"/>
<rect x="698" y="189.0" width="1" height="12.0" fill="#1a1a90"/>
<rect x="715" y="191.0" width="1" height="8.0" fill="#1a1a90"/>
<rect x="722" y="190.0" width="1" height="8.0" fill="#1a1a90"/>
<rect x="727" y="190.5" width="1" height="6.5" fill="#1a1a90"/>
<path d="M100.5 193.0V197.0m1 -5v4m1 -4v4m1 -3v3m1 -4v5m1 -4v3m1 -4v5m1 -5v4m1 -4v5m1 -4v4m1 -4v4m1 -5v4m1 -4v4m1 -3v3m1 -4v5m1 -4v3m1 -3v4m1 -4v4m1 -4v4m1 -5v5m1 -6v6m1 -5v5m1 -5v4m1 -3v4m1 -5v4m1 -4v5m1 -4v3m1 -3v4m1 -4v3m1 -4v5m1 -5v5m1 -4v4m1 -5v4m1 -4v5m1 -5v5m1 -7v6m1 -4v5m1 -4v3m1 -3v3m1 -3v4m1 -4v4m1 -5v4m1 -4v4m1 -4v4m1 -4v5m1 -5v4m1 -4v4m1 -5v5m1 -3v4m1 -5v4m1 -4v4m1 -4v5m1 -5v5m1 -4v4m1 -4v3m1 -3v4m1 -4v3m1 -3v3m1 -4v4m1 -3v4m1 -4v3m1 -4v5m1 -4v3m1 -3v4m1 -4v4m1 -4v3m1 -3v4m1 -4v3m1 -3v4m1 -5v5m1 -5v4m1 -4v5m1 -4v3m1 -4v4m1 -4v4m1 -3v4m1 -6v6m1 -5v4m1 -4v5m1 -4v3m1 -3v3m1 -3v3m1 -4v5m1 -5v5m1 -4v4m1 -4v4m1 -4v3m1 -4v4m1 -3v4m1 -5v5m1 -5v5m1 -5v5m1 -4v3m1 -3v3m1 -4v4m1 -3v3m1 -4v4m1 -4v4m1 -3v4m1 -5v5m1 -5v5m1 -5v4m1 -4v4m1 -4v4m1 -4v5m1 -5v5m1 -4v4m1 -4v4m1 -5v4m1 -4v5m1 -5v4m1 -3v4m1 -4v3m1 -3v4m1 -5v4m1 -4v4m1 -4v5m1 -4v3m1 -4v4m1 -6v6m1 -3v4m1 -5v4m1 -3v3m1 -4v4m1 -3v4m1 -5v5m1 -4v4m1 -5v4m1 -3v3m1 -3v4m1 -4v4m1 -4v3m1 -3v4m1 -5v5m1 -5v5m1 -4v4m1 -5v5m1 -4v3m1 -3v4m1 -5v5m1 -5v5m1 -4v4m1 -4v4m1 -4v3m1 -4v4m1 -4v4m1 -3v4m1 -4v3m1 -4v6m1 -6v5m1 -5v5m1 -4v3m1 -3v4m1 -6v6m1 -4v3m1 -4v5m1 -5v5m1 -5v5m1 -4v4m1 -4v4m1 -4v3m1 -5v5m1 -3v3m1 -4v4m1 -3v3m1 -3v4m1 -4v3m1 -4v4m1 -3v3m1 -4v5m1 -4v6m1 -7v5m1 -4v3m1 -6v6m1 -3v4m1 -4v4m1 -4v4m1 -4v4m1 -4v4m1 -5v5m1 -4v3m1 -4v4m1 -4v4m1 -3v3m1 -4v5m1 -4v4m1 -4v4m1 -5v4m1 -3v4m1 -5v4m1 -4v5m1 -5v4m1 -3v4m1 -5v7m1 -6v4m1 -4v4m1 -4v4m1 -5v5m1 -5v4m1 -4v4m1 -3v4m1 -4v3m1 -3v3m1 -3v4m1 -5v5m1 -4v4m1 -4v4m1 -4v4m1 -5v4m1 -4v4m1 -3v4m1 -5v5m1 -5v4m1 -4v5m1 -5v4m1 -3v4m1 -4v4m1 -5v4m1 -4v4m1 -3v4m1 -4v4m1 -5v4m1 -3v3m1 -3v4m1 -4v4m1 -4v3m1 -4v4m1 -3v3m1 -3v4m1 -5v5m1 -4v4m1 -4v3m1 -4v5m1 -4v4m1 -4v3m1 -3v3m1 -4v4m1 -4v4m1 -3v3m1 -3v4m1 -4v3m1 -3v4m1 -4v4m1 -5v4m1 -4v5m1 -5v4m1 -3v3m1 -4v5m1 -4v3m1 -4v4m1 -3v4m1 -5v4m1 -4v4m1 -3v3m1 -3v4m1 -4v4m1 -4v3m1 -3v4m1 -5v5m1 -5v4m1 -4v5m1 -5v4m1 -4v5m1 -5v5m1 -4v4m1 -4v4m1 -5v5m1 -5v4m1 -4v5m1 -7v6m1 -3v4m1 -4v4m1 -4v3m1 -3v3m1 -4v4m1 -4v4m1 -5v5m1 -3v3m1 -3v3m1 -4v4m1 -3v3m1 -3v4m1 -4v3m1 -4v4m1 -3v3m1 -4v4m1 -3v4m1 -4v4m1 -4v4m1 -5v4m1 -4v4m1 -3v3m1 -3v3m1 -3v3m1 -4v4m1 -3v3m1 -3v4m1 -4v3m1 -4v5m1 -5v4m1 -3v3m1 -3v4m1 -5v4m1 -3v4m1 -4v3m1 -4v5m1 -4v3m1 -4v5m1 -5v5m1 -4v4m1 -4v4m1 -4v4m1 -4v3m1 -3v5m1 -5v4m1 -5v5m1 -5v5m1 -5v4m1 -3v4m1 -5v4m1 -4v5m1 -5v4m1 -3v3m1 -3v4m1 -5v5m1 -5v5m1 -4v3m1 -3v4m1 -4v3m1 -4v4m1 -4v4m1 -3v3m1 -3v3m1 -3v3m1 -3v4m1 -5v4m1 -4v4m1 -4v4m1 -3v3m1 -3v3m1 -3v3m1 -4v5m1 -4v3m1 -4v5m1 -4v3m1 -4v4m1 -3v3m1 -3v3m1 -4v5m1 -5v4m1 -4v4m1 -4v5m1 -4v4m1 -5v4m1 -3v4m1 -4v4m1 -4v4m1 -4v3m1 -4v4m1 -4v5m1 -5v4m1 -4v5m1 -5v4m1 -4v5m1 -4v3m1 -3v4m1 -4v4m1 -5v5m1 -6v6m1 -5v4m1 -4v4m1 -3v4m1 -5v4m1 -4v4m1 -4v5m1 -5v4m1 -4v4m1 -3v6m1 -7v5m1 -4v4m1 -4v4m1 -5v4m1 -4v5m1 -4v4m1 -4v3m1 -4v5m1 -5v4m1 -4v5m1 -5v5m1 -5v4m1 -3v3m1 -3v4m1 -5v4m1 -3v3m1 -4v4m1 -3v3m1 -3v3m1 -3v4m1 -4v3m1 -4v5m1 -4v3m1 -4v4m1 -3v4m1 -4v4m1 -4v3m1 -4v4m1 -3v3m1 -3v4m1 -4v3m1 -3v4m1 -5v5m1 -5v5m1 -5v4m1 -3v3m1 -4v4m1 -4v5m1 -5v4m1 -3v4m1 -5v4m1 -4v5m1 -5v4m1 -3v4m1 -6v6m1 -4v3m1 -3v4m1 -5v4m1 -3v3m1 -3v3m1 -3v4m1 -5v4m1 -4v4m1 -4v5m1 -5v4m1 -3v3m1 -3v4m1 -4v3m1 -3v3m1 -3v3m1 -4v4m1 -4v5m1 -5v5m1 -5v4m1 -3v4m1 -5v5m1 -4v4m1 -4v3m1 -4v4m1 -3v3m1 -4v5m1 -6v6m1 -6v6m1 -5v4m1 -3v3m1 -3v4m1 -5v6m1 -6v5m1 -5v4m1 -3v3m1 -3v4m1 -4v3m1 -4v5m1 -5v4m1 -3v5m1 -6v4m1 -3v4m1 -5v4m1 -4v4m1 -4v4m1 -4v5m1 -4v4m1 -4v3m1 -4v4m1 -4v5m1 -5v5m1 -5v5m1 -5v4m1 -4v5m1 -5v5m1 -5v5m1 -5v5m1 -7v7m1 -4v3m1 -3v4m1 -5v5m1 -5v4m1 -3v4m1 -5v5m1 -5v5m1 -5v4m1 -3v3m1 -3v3m1 -4v5m1 -5v4m1 -3v3m1 -3v3m1 -4v4m1 -3v3m1 -3v3m1 -3v3m1 -3v3m1 -3v3m1 -4v4m1 -3v3m1 -3v3m1 -4v5m1 -4v4m1 -4v4m1 -5v5m1 -4v4m1 -5v4m1 -4v4m1 -4v4m1 -4v4m1 -4v5m1 -4v4m1 -4v4m1 -5v5m1 -4v4m1 -4v4m1 -5v4m1 -3v4m1 -5v5m1 -5v5m1 -5v5m1 -5v4m1 -3v3m1 -4v5m1 -5v4m1 -3v4m1 -4v4m1 -5v5m1 -4v4m1 -4v3m1 -4v5m1 -5v5m1 -7v6m1 -4v5m1 -5v5m1 -5v4m1 -4v4m1 -4v4m1 -3v4m1 -5v4m1 -4v4m1 -4v5m1 -5v5m1 -5v4m1 -3v3m1 -3v4m1 -5v4m1 -3v3m1 -3v3m1 -3v3m1 -4v5m1 -4v3m1 -3v4m1 -5v5m1 -5v4m1 -4v5m1 -4v3m1 -4v5m1 -5v4m1 -4v5m1 -4v3m1 -3v3m1 -4v4m1 -3v3m1 -4v4m1 -4v5m1 -4v3m1 -3v3m1 -4v4m1 -4v5m1 -5v5m1 -6v5m1 -3v3m1 -3v4m1 -5v4m1 -3v3m1 -6v7m1 -4v3m1 -3v5m1 -6v4m1 -3v4m1 -5v4m1 -4v5m1 -5v5m1 -7v8m1 -7v8m1 -9v8m1 -6v6m1 -7v8m1 -7v6m1 -6v5m1 -5v4m1 -4v5m1 -5v4m1 -3v5m1 -5v4m1 -4v5m1 -6v5m1 -5v5m1 -4v3m1 -5v5m1 -4v4m1 -4v4m1 -4v5m1 -5v5m1 -5v5m1 -5v5m1 -5v6m1 -6v5m1 -5v6m1 -7v7m1 -6v4m1 -4v4m1 -3v4m1 -4v4m1 -4v3m1 -4v4m1 -3v5m1 -5v3m1 -3v4m1 -5v4m1 -3v3m1 -3v3m1 -3v3m1 -3v4m1 -4v3m1 -3v3m1 -3v4m1 -4v4m1 -5v4m1 -3v3m1 -4v5m1 -4v3m1 -4v5m1 -5v5m1 -4v4m1 -4v3m1 -3v4m1 -4v3m1 -4v5m1 -4v3m1 -4v4m1 -3v4m1 -5v5m1 -5v5m1 -4v4m1 -4v4m1 -4v3m1 -4v5m1 -5v5m1 -5v4m1 -4v4m1 -3v3m1 -3v4m1 -4v4m1 -5v4m1 -4v5m1 -5v5m1 -4v4m1 -5v5m1 -5v5m1 -5v4m1 -3v5m1 -6v4m1 -3v3m1 -4v5m1 -4v3m1 -3v3m1 -3v4m1 -5v5m1 -4v4m1 -5v4m1 -3v3m1 -4v5m1 -4v3m1 -4v5m1 -5v4m1 -4v5m1 -4v3m1 -3v4m1 -5v4m1 -3v4m1 -4v3m1 -3v4m1 -5v5m1 -7v6m1 -3v4m1 -4v3m1 -4v4m1 -3v4m1 -4v4m1 -4v3m1 -3v4m1 -5v5m1 -5v4m1 -3v3m1 -3v3m1 -4v5m1 -4v3m1 -3v3m1 -4v4m1 -4v5m1 -5v5m1 -4v3m1 -3v3m1 -4v4m1 -3v4m1 -5v5m1 -4v4m1 -5v5m1 -5v5m1 -4v3m1 -3v4m1 -5v5m1 -4v4m1 -4v4m1 -5v5m1 -5v5m1 -5v5m1 -4v3m1 -3v3m1 -3v3m1 -4v4m1 -4v5m1 -5v4m1 -4v5m1 -5v4m1 -3v4m1 -4v3m1 -4v5m1 -4v4m1 -4v4m1 -4v3m1 -4v5m1 -5v4m1 -3v4m1 -5v4m1 -3v4m1 -5v4m1 -4v5m1 -4v3m1 -3v4m1 -4v4m1 -4v4m1 -4v3m1 -3v4m1 -4v4m1 -5v4m1 -3v3m1 -3v3m1 -4v5m1 -5v4m1 -4v5m1 -5v5m1 -5v5m1 -5v4m1 -3v3m1 -3v4m1 -4v3m1 -4v4m1 -4v4m1 -3v3m1 -3v3m1 -4v5m1 -4v3m1 -4v4m1 -4v4m1 -3v3m1 -3v4m1 -4v4m1 -4v3m1 -4v5m1 -4v3m1 -4v5m1 -5v4m1 -4v5m1 -4v5m1 -6v4m1 -3v3m1 -4v4m1 -3v4m1 -5v4m1 -4v4m1 -4v4m1 -4v5m1 -5v5m1 -5v5m1 -4v4m1 -5v5m1 -4v4m1 -4v4m1 -5v5m1 -4v3m1 -3v4m1 -5v4m1 -3v3m1 -4v4m1 -4v4m1 -3v4m1 -4v3m1 -4v4m1 -3v4m1 -5v4m1 -4v4m1 -4v4m1 -4v5m1 -5v4m1 -4v4m1 -3v3m1 -4v6m1 -6v4m1 -3v4m1 -4v3m1 -4v5m1 -5v4m1 -4v4m1 -4v5m1 -4v4m1 -4v3m1 -4v4m1 -4v5m1 -5v5m1 -5v5m1 -4v4m1 -4v4m1 -5v5m1 -5v4m1 -3v3m1 -4v4m1 -4v5m1 -5v4m1 -4v4m1 -3v3m1 -3v3m1 -3v4m1 -5v5m1 -5v5m1 -5v5m1 -4v3m1 -3v4m1 -4v3m1 -4v4m1 -3v4m1 -5v5m1 -5v4" stroke="#0000ea" stroke-width="1" fill="none"/>
<path d="M100.5 216.0V219.0m1 -4v5m1 -4v3m1 -3v3m1 -3v4m1 -6v5m1 -3v3m1 -4v4m1 -3v3m1 -4v4m1 -3v3m1 -4v5m1 -5v5m1 -5v5m1 -5v4m1 -3v4m1 -4v3m1 -3v3m1 -4v4m1 -3v3m1 -3v3m1 -4v5m1 -4v4m1 -4v3m1 -4v5m1 -4v4m1 -6v6m1 -4v4m1 -4v4m1 -4v3m1 -3v3m1 -4v4m1 -4v4m1 -3v4m1 -5v5m1 -5v4m1 -4v4m1 -3v4m1 -5v4m1 -4v5m1 -6v5m1 -3v4m1 -5v4m1 -3v3m1 -3v5m1 -6v5m1 -5v5m1 -5v4m1 -3v3m1 -4v5m1 -4v4m1 -5v5m1 -5v5m1 -4v4m1 -4v3m1 -4v4m1 -4v5m1 -4v3m1 -4v4m1 -4v4m1 -3v4m1 -4v4m1 -5v4m1 -4v4m1 -4v5m1 -5v5m1 -5v4m1 -4v4m1 -3v3m1 -3v3m1 -3v4m1 -5v5m1 -5v5m1 -4v3m1 -3v3m1 -3v4m1 -5v4m1 -3v4m1 -5v5m1 -4v4m1 -5v5m1 -4v4m1 -5v4m1 -4v4m1 -4v5m1 -5v4m1 -3v4m1 -4v4m1 -5v5m1 -5v5m1 -5v4m1 -4v4m1 -3v4m1 -5v4m1 -4v5m1 -4v3m1 -4v5m1 -4v3m1 -3v3m1 -4v5m1 -5v5m1 -4v3m1 -3v4m1 -5v4m1 -3v4m1 -5v4m1 -3v4m1 -5v5m1 -4v3m1 -3v4m1 -5v6m1 -5v3m1 -3v3m1 -3v4m1 -4v3m1 -5v5m1 -3v3m1 -3v3m1 -4v5m1 -4v4m1 -4v4m1 -5v4m1 -3v3m1 -3v3m1 -4v4m1 -4v5m1 -5v5m1 -5v4m1 -3v3m1 -3v3m1 -3v3m1 -4v4m1 -4v4m1 -4v4m1 -3v4m1 -4v4m1 -4v4m1 -5v5m1 -5v4m1 -3v4m1 -5v4m1 -3v3m1 -3v3m1 -3v3m1 -3v3m1 -4v5m1 -5v5m1 -4v4m1 -5v5m1 -5v5m1 -4v4m1 -5v5m1 -4v4m1 -5v4m1 -4v5m1 -5v5m1 -4v4m1 -5v4m1 -4v5m1 -5v4m1 -3v3m1 -3v6m1 -6v3m1 -4v5m1 -4v3m1 -4v6m1 -6v5m1 -5v4m1 -3v4m1 -5v4m1 -3v4m1 -4v4m1 -4v4m1 -5v5m1 -5v4m1 -3v4m1 -5v4m1 -3v4m1 -5v4m1 -4v5m1 -5v4m1 -4v4m1 -4v5m1 -5v4m1 -3v3m1 -4v5m1 -5v4m1 -3v4m1 -5v5m1 -4v3m1 -3v4m1 -5v5m1 -5v4m1 -4v4m1 -3v3m1 -3v3m1 -4v5m1 -5v5m1 -4v3m1 -3v4m1 -5v5m1 -4v4m1 -5v4m1 -4v4m1 -3v4m1 -4v4m1 -5v5m1 -5v4m1 -4v5m1 -5v5m1 -4v4m1 -5v4m1 -3v3m1 -4v5m1 -4v4m1 -5v5m1 -4v3m1 -4v5m1 -4v4m1 -5v5m1 -5v5m1 -5v4m1 -3v4m1 -4v3m1 -4v4m1 -3v4m1 -5v5m1 -4v4m1 -5v4m1 -4v5m1 -5v4m1 -3v4m1 -5v5m1 -4v4m1 -4v3m1 -4v4m1 -3v3m1 -4v4m1 -4v4m1 -3v3m1 -4v4m1 -3v4m1 -5v5m1 -5v4m1 -3v4m1 -5v4m1 -3v4m1 -5v5m1 -5v5m1 -4v3m1 -4v4m1 -3v3m1 -4v5m1 -5v5m1 -4v3m1 -4v5m1 -4v4m1 -4v3m1 -3v3m1 -3v3m1 -3v4m1 -4v3m1 -4v5m1 -5v5m1 -7v7m1 -5v4m1 -3v4m1 -5v5m1 -5v5m1 -5v4m1 -3v3m1 -3v3m1 -4v7m1 -7v4m1 -3v4m1 -5v5m1 -5v5m1 -5v5m1 -5v4m1 -3v4m1 -5v4m1 -4v5m1 -5v4m1 -4v4m1 -4v5m1 -4v3m1 -4v5m1 -5v5m1 -4v3m1 -3v3m1 -4v5m1 -4v4m1 -4v3m1 -3v4m1 -4v3m1 -3v4m1 -4v3m1 -4v4m1 -3v4m1 -5v4m1 -3v3m1 -4v5m1 -4v4m1 -5v4m1 -4v4m1 -4v4m1 -3v3m1 -4v7m1 -7v5m1 -5v4m1 -3v3m1 -3v3m1 -4v4m1 -4v4m1 -4v5m1 -4v5m1 -6v4m1 -4v5m1 -4v4m1 -4v3m1 -3v3m1 -3v3m1 -4v4m1 -3v4m1 -4v4m1 -4v4m1 -4v3m1 -4v5m1 -5v5m1 -4v4m1 -4v4m1 -4v3m1 -3v4m1 -5v5m1 -5v4m1 -3v4m1 -5v5m1 -4v4m1 -5v4m1 -3v4m1 -4v4m1 -5v5m1 -4v4m1 -4v4m1 -5v5m1 -5v4m1 -4v5m1 -4v4m1 -5v4m1 -4v5m1 -4v3m1 -4v5m1 -5v4m1 -4v4m1 -3v3m1 -3v4m1 -4v4m1 -5v4m1 -3v4m1 -4v3m1 -3v4m1 -5v4m1 -3v4m1 -4v3m1 -4v5m1 -5v5m1 -4v4m1 -4v4m1 -4v4m1 -5v5m1 -5v5m1 -5v5m1 -5v5m1 -4v4m1 -4v3m1 -3v4m1 -5v4m1 -4v4m1 -3v4m1 -4v4m1 -4v3m1 -4v4m1 -4v5m1 -5v4m1 -4v4m1 -3v4m1 -5v5m1 -5v5m1 -5v5m1 -4v3m1 -3v3m1 -3v4m1 -4v3m1 -3v4m1 -5v5m1 -4v4m1 -5v4m1 -4v5m1 -5v4m1 -3v3m1 -4v5m1 -5v4m1 -3v3m1 -4v4m1 -4v4m1 -4v4m1 -3v3m1 -4v4m1 -4v4m1 -3v3m1 -5v6m1 -4v3m1 -4v5m1 -5v5m1 -4v4m1 -5v5m1 -5v5m1 -5v4m1 -3v4m1 -4v4m1 -5v5m1 -4v3m1 -3v4m1 -5v4m1 -4v5m1 -4v3m1 -3v3m1 -4v4m1 -4v5m1 -4v3m1 -3v5m1 -5v3m1 -4v5m1 -5v5m1 -4v4m1 -4v4m1 -5v4m1 -4v4m1 -3v4m1 -5v4m1 -3v4m1 -4v4m1 -5v5m1 -4v3m1 -3v3m1 -4v5m1 -4v4m1 -5v4m1 -3v3m1 -4v4m1 -3v4m1 -5v4m1 -3v3m1 -3v4m1 -5v5m1 -5v5m1 -5v7m1 -7v5m1 -5v5m1 -4v4m1 -5v5m1 -4v3m1 -3v4m1 -5v4m1 -4v5m1 -5v4m1 -4v5m1 -5v5m1 -5v4m1 -4v5m1 -5v5m1 -5v4m1 -3v4m1 -6v5m1 -3v3m1 -4v4m1 -4v4m1 -4v5m1 -5v5m1 -4v3m1 -3v3m1 -3v4m1 -5v5m1 -5v4m1 -3v4m1 -4v4m1 -5v4m1 -4v5m1 -5v5m1 -5v4m1 -4v5m1 -4v3m1 -3v4m1 -5v4m1 -4v5m1 -4v3m1 -4v5m1 -5v4m1 -3v4m1 -4v3m1 -3v4m1 -4v3m1 -4v4m1 -4v4m1 -3v4m1 -4v3m1 -4v5m1 -4v4m1 -4v4m1 -5v4m1 -4v4m1 -4v4m1 -3v4m1 -5v4m1 -3v4m1 -4v4m1 -4v4m1 -4v3m1 -3v4m1 -4v4m1 -6v6m1 -5v4m1 -4v5m1 -5v5m1 -5v4m1 -4v4m1 -4v4m1 -4v4m1 -3v4m1 -4v4m1 -6v5m1 -3v3m1 -3v4m1 -4v4m1 -5v4m1 -4v4m1 -5v6m1 -5v7m1 -6v3m1 -3v4m1 -4v4m1 -4v4m1 -5v5m1 -4v3m1 -3v4m1 -5v5m1 -5v4m1 -3v3m1 -4v4m1 -4v5m1 -4v3m1 -4v4m1 -3v3m1 -3v4m1 -5v4m1 -4v5m1 -4v4m1 -5v4m1 -3v3m1 -4v5m1 -4v3m1 -3v3m1 -4v4m1 -3v3m1 -4v4m1 -3v3m1 -3v3m1 -4v5m1 -4v3m1 -3v3m1 -3v4m1 -5v5m1 -5v4m1 -3v3m1 -3v3m1 -4v4m1 -4v5m1 -4v3m1 -4v5m1 -4v4m1 -5v5m1 -4v4m1 -4v4m1 -4v4m1 -5v5m1 -5v6m1 -5v3m1 -4v4m1 -3v3m1 -4v5m1 -5v5m1 -4v3m1 -4v4m1 -4v4m1 -3v3m1 -3v4m1 -7v6m1 -4v5m1 -5v5m1 -4v4m1 -4v4m1 -5v4m1 -3v4m1 -5v4m1 -4v5m1 -4v3m1 -3v3m1 -4v5m1 -4v4m1 -4v3m1 -4v4m1 -4v5m1 -5v4m1 -4v5m1 -5v4m1 -3v3m1 -4v4m1 -4v4m1 -4v4m1 -3v4m1 -4v3m1 -3v3m1 -4v5m1 -4v4m1 -4v4m1 -4v4m1 -4v4m1 -4v4m1 -4v4m1 -5v5m1 -5v4m1 -3v4m1 -5v4m1 -4v4m1 -4v4m1 -3v3m1 -4v5m1 -5v4m1 -3v4m1 -5v4m1 -3v4m1 -5v4m1 -4v4m1 -3v3m1 -3v3m1 -4v4m1 -3v4m1 -5v4m1 -3v3m1 -3v4m1 -5v4m1 -4v5m1 -5v4m1 -3v4m1 -5v5m1 -5v5m1 -5v4m1 -3v4m1 -4v3m1 -4v5m1 -5v4m1 -3v4m1 -4v4m1 -5v4m1 -4v4m1 -3v4m1 -4v4m1 -4v4m1 -5v4m1 -3v3m1 -4v5m1 -5v5m1 -4v4m1 -4v4m1 -6v5m1 -4v5m1 -4v4m1 -5v5m1 -5v4m1 -3v3m1 -3v4m1 -4v3m1 -4v5m1 -4v4m1 -5v4m1 -4v5m1 -5v4m1 -4v4m1 -3v3m1 -4v4m1 -3v4m1 -4v4m1 -5v4m1 -4v5m1 -5v5m1 -4v3m1 -4v5m1 -4v4m1 -4v3m1 -3v3m1 -4v4m1 -3v4m1 -5v4m1 -3v4m1 -4v3m1 -4v5m1 -5v4m1 -3v3m1 -3v3m1 -3v3m1 -4v4m1 -3v3m1 -3v3m1 -4v5m1 -4v3m1 -4v6m1 -5v3m1 -3v3m1 -4v4m1 -4v5m1 -4v4m1 -4v3m1 -4v4m1 -3v3m1 -4v4m1 -4v5m1 -4v3m1 -3v4m1 -4v4m1 -4v4m1 -4v3m1 -3v4m1 -5v5m1 -4v4m1 -4v3m1 -3v4m1 -4v4m1 -4v3m1 -3v3m1 -3v3m1 -3v3m1 -3v4m1 -5v5m1 -5v4m1 -4v5m1 -5v5m1 -5v5m1 -4v3m1 -3v3m1 -4v5m1 -4v3m1 -4v4m1 -3v4m1 -5v4m1 -3v3m1 -3v4m1 -4v3m1 -3v3m1 -3v4m1 -4v3m1 -3v4m1 -4v3m1 -4v4m1 -3v3m1 -3v4m1 -5v4m1 -4v5m1 -4v3m1 -3v4m1 -7v6m1 -4v5m1 -5v5m1 -4v4m1 -5v4m1 -3v3m1 -3v3m1 -4v5m1 -5v5m1 -5v5m1 -5v4m1 -3v4m1 -5v5m1 -4v3m1 -3v4m1 -4v3m1 -3v3m1 -4v4m1 -4v5m1 -4v3m1 -4v4m1 -3v3m1 -3v3m1 -4v6m1 -5v4m1 -5v5m1 -4v3m1 -3v3m1 -4v6m1 -6v4m1 -3v3m1 -4v4m1 -3v3m1 -4v5m1 -4v4m1 -4v3m1 -3v4m1 -4v3m1 -4v4m1 -4v6m1 -6v5m1 -5v5m1 -5v4m1 -4v4m1 -3v4m1 -4v3m1 -3v3m1 -4v5m1 -4v4m1 -4v3m1 -4v4m1 -4v5m1 -4v4m1 -4v4m1 -4v3m1 -3v4m1 -4v5m1 -5v4m1 -6v5m1 -4v5m1 -4v3m1 -4v4m1 -3v4m1 -5v4m1 -3v4m1 -5v5m1 -4v3m1 -3v3m1 -4v5m1 -5v5m1 -5v5m1 -5v5m1 -5v4m1 -3v3m1 -3v4m1 -5v5m1 -4v4m1 -5v5m1 -5v4" stroke="#00ee00" stroke-width="1" fill="none"/>
<path d="M100.5 238.0V242.0m1 -5v6m1 -5v4m1 -5v5m1 -5v4m1 -3v4m1 -4v4m1 -5v4m1 -4v4m1 -4v5m1 -4v3m1 -3v4m1 -4v4m1 -5v4m1 -4v5m1 -4v4m1 -5v5m1 -4v4m1 -5v5m1 -7v6m1 -4v4m1 -3v3m1 -4v5m1 -4v3m1 -4v4m1 -3v4m1 -5v4m1 -4v4m1 -3v4m1 -4v3m1 -3v3m1 -4v4m1 -3v3m1 -4v5m1 -5v4m1 -4v4m1 -4v5m1 -4v4m1 -4v4m1 -5v5m1 -5v5m1 -4v3m1 -4v5m1 -4v4m1 -5v4m1 -4v5m1 -4v4m1 -4v3m1 -4v5m1 -5v5m1 -7v7m1 -5v5m1 -4v3m1 -3v3m1 -6v6m1 -3v5m1 -5v3m1 -4v4m1 -4v4m1 -3v4m1 -4v4m1 -5v5m1 -5v5m1 -4v4m1 -4v4m1 -5v5m1 -4v3m1 -4v5m1 -5v4m1 -3v4m1 -5v5m1 -5v5m1 -4v3m1 -4v5m1 -5v4m1 -4v5m1 -4v4m1 -4v4m1 -4v3m1 -3v4m1 -4v3m1 -4v4m1 -3v3m1 -4v5m1 -4v3m1 -3v3m1 -4v4m1 -3v4m1 -5v4m1 -4v5m1 -5v4m1 -4v5m1 -4v4m1 -4v4m1 -5v4m1 -3v3m1 -3v3m1 -4v5m1 -5v4m1 -3v4m1 -4v3m1 -3v4m1 -5v5m1 -4v4m1 -4v4m1 -4v4m1 -5v5m1 -5v4m1 -3v3m1 -3v3m1 -3v3m1 -3v4m1 -4v3m1 -4v5m1 -5v5m1 -4v3m1 -4v4m1 -3v4m1 -5v4m1 -4v4m1 -3v4m1 -4v3m1 -3v4m1 -4v4m1 -5v4m1 -4v5m1 -4v4m1 -5v5m1 -5v4m1 -4v4m1 -4v5m1 -5v4m1 -3v4m1 -4v3m1 -3v4m1 -4v4m1 -4v4m1 -5v5m1 -4v4m1 -4v4m1 -5v5m1 -4v4m1 -5v5m1 -4v3m1 -4v4m1 -4v4m1 -3v4m1 -5v5m1 -4v3m1 -4v5m1 -5v4m1 -4v4m1 -3v4m1 -4v3m1 -4v4m1 -3v4m1 -4v3m1 -4v5m1 -5v7m1 -7v4m1 -4v4m1 -3v4m1 -4v3m1 -4v4m1 -3v4m1 -4v4m1 -5v4m1 -3v3m1 -3v4m1 -4v3m1 -3v4m1 -5v6m1 -5v3m1 -4v4m1 -4v5m1 -5v5m1 -5v4m1 -4v5m1 -5v5m1 -5v5m1 -4v3m1 -3v3m1 -3v4m1 -4v3m1 -4v4m1 -4v4m1 -4v5m1 -5v5m1 -5v5m1 -4v4m1 -5v5m1 -4v3m1 -3v4m1 -4v3m1 -3v3m1 -3v4m1 -5v4m1 -3v4m1 -5v5m1 -5v5m1 -4v4m1 -4v4m1 -5v4m1 -4v4m1 -4v5m1 -4v4m1 -4v4m1 -5v4m1 -3v4m1 -5v4m1 -4v6m1 -6v5m1 -5v5m1 -5v4m1 -3v3m1 -4v5m1 -4v4m1 -4v3m1 -4v4m1 -4v4m1 -3v3m1 -4v4m1 -4v5m1 -5v5m1 -5v5m1 -5v5m1 -4v3m1 -3v4m1 -4v4m1 -5v4m1 -4v5m1 -5v4m1 -4v5m1 -4v4m1 -5v5m1 -5v4m1 -4v4m1 -3v3m1 -3v4m1 -4v4m1 -5v5m1 -5v4m1 -4v4m1 -3v3m1 -3v4m1 -5v5m1 -5v5m1 -5v5m1 -4v3m1 -4v5m1 -5v4m1 -3v4m1 -5v5m1 -4v3m1 -4v4m1 -4v5m1 -4v3m1 -6v7m1 -5v5m1 -5v4m1 -4v5m1 -4v3m1 -4v6m1 -6v5m1 -5v4m1 -3v4m1 -5v5m1 -5v4m1 -4v4m1 -4v5m1 -5v4m1 -3v3m1 -4v4m1 -4v6m1 -6v4m1 -3v4m1 -4v3m1 -4v4m1 -4v5m1 -5v4m1 -4v4m1 -4v5m1 -5v4m1 -3v4m1 -5v5m1 -5v4m1 -4v5m1 -5v5m1 -4v4m1 -5v5m1 -5v4m1 -4v4m1 -3v4m1 -4v4m1 -5v5m1 -4v4m1 -7v7m1 -5v5m1 -5v5m1 -4v4m1 -5v4m1 -3v4m1 -5v4m1 -4v5m1 -5v5m1 -4v4m1 -5v5m1 -4v4m1 -4v4m1 -5v5m1 -5v5m1 -4v3m1 -4v4m1 -3v4m1 -4v4m1 -4v4m1 -5v5m1 -4v3m1 -4v5m1 -5v4m1 -4v4m1 -3v4m1 -5v4m1 -3v3m1 -3v4m1 -4v3m1 -3v4m1 -5v5m1 -4v4m1 -5v4m1 -4v4m1 -3v3m1 -3v3m1 -4v5m1 -5v5m1 -4v4m1 -5v5m1 -5v4m1 -3v4m1 -4v3m1 -4v4m1 -3v4m1 -5v5m1 -4v4m1 -4v3m1 -4v5m1 -4v4m1 -4v4m1 -4v4m1 -5v5m1 -4v3m1 -3v4m1 -4v3m1 -4v4m1 -4v4m1 -3v4m1 -5v4m1 -3v3m1 -3v4m1 -5v4m1 -4v5m1 -4v4m1 -5v5m1 -6v6m1 -5v6m1 -5v4m1 -4v4m1 -5v5m1 -5v5m1 -5v4m1 -4v4m1 -3v3m1 -3v3m1 -3v4m1 -5v4m1 -3v4m1 -5v5m1 -5v4m1 -4v4m1 -4v4m1 -4v5m1 -5v4m1 -4v5m1 -5v4m1 -3v4m1 -4v4m1 -5v5m1 -4v5m1 -5v3m1 -4v4m1 -3v3m1 -3v4m1 -4v3m1 -4v4m1 -3v3m1 -4v4m1 -3v3m1 -3v4m1 -5v4m1 -3v4m1 -5v4m1 -4v4m1 -4v4m1 -3v4m1 -4v3m1 -4v5m1 -5v5m1 -5v4m1 -3v3m1 -4v4m1 -4v5m1 -5v4m1 -4v4m1 -4v5m1 -5v5m1 -4v4m1 -4v4m1 -5v4m1 -3v3m1 -4v4m1 -3v5m1 -5v3m1 -3v4m1 -5v5m1 -5v4m1 -4v4m1 -4v4m1 -3v3m1 -4v5m1 -5v5m1 -5v5m1 -4v3m1 -3v3m1 -4v5m1 -5v4m1 -5v5m1 -3v4m1 -4v3m1 -4v5m1 -4v4m1 -5v5m1 -5v5m1 -5v5m1 -5v5m1 -4v3m1 -4v4m1 -4v4m1 -3v3m1 -3v4m1 -4v4m1 -5v4m1 -4v4m1 -3v4m1 -4v4m1 -4v3m1 -4v4m1 -3v4m1 -4v3m1 -4v4m1 -3v3m1 -4v4m1 -4v5m1 -5v4m1 -3v3m1 -4v4m1 -3v3m1 -3v4m1 -5v4m1 -4v5m1 -4v4m1 -4v4m1 -4v3m1 -4v5m1 -5v4m1 -3v4m1 -5v4m1 -3v3m1 -4v5m1 -4v4m1 -4v3m1 -3v3m1 -4v4m1 -4v5m1 -5v5m1 -5v4m1 -3v4m1 -5v5m1 -4v4m1 -5v5m1 -5v4m1 -4v4m1 -4v4m1 -3v4m1 -4v3m1 -3v3m1 -4v5m1 -4v4m1 -4v4m1 -5v5m1 -5v4m1 -4v4m1 -3v4m1 -5v4m1 -4v5m1 -4v3m1 -3v3m1 -4v4m1 -4v5m1 -4v3m1 -4v4m1 -4v4m1 -4v5m1 -4v3m1 -4v4m1 -3v3m1 -3v4m1 -4v4m1 -4v4m1 -4v3m1 -3v4m1 -4v4m1 -4v3m1 -3v4m1 -5v4m1 -4v4m1 -4v4m1 -4v5m1 -5v4m1 -3v4m1 -4v4m1 -4v3m1 -4v5m1 -4v3m1 -3v3m1 -3v4m1 -4v4m1 -4v3m1 -3v3m1 -4v4m1 -3v3m1 -3v3m1 -4v4m1 -3v3m1 -4v4m1 -4v5m1 -5v4m1 -4v5m1 -4v3m1 -3v4m1 -5v4m1 -4v5m1 -4v4m1 -4v4m1 -4v3m1 -4v4m1 -3v3m1 -4v5m1 -5v5m1 -5v5m1 -5v4m1 -4v4m1 -4v5m1 -4v4m1 -5v4m1 -3v3m1 -4v4m1 -3v3m1 -4v4m1 -4v4m1 -4v4m1 -3v3m1 -3v3m1 -5v6m1 -5v5m1 -4v3m1 -4v5m1 -5v4m1 -3v4m1 -4v3m1 -4v4m1 -4v4m1 -4v4m1 -4v4m1 -4v5m1 -4v4m1 -4v4m1 -5v4m1 -3v3m1 -3v4m1 -4v4m1 -5v5m1 -5v5m1 -4v4m1 -4v4m1 -5v5m1 -5v4m1 -4v4m1 -4v7m1 -7v4m1 -4v5m1 -4v3m1 -4v5m1 -5v4m1 -3v4m1 -4v4m1 -5v4m1 -3v4m1 -5v5m1 -4v4m1 -4v4m1 -4v4m1 -4v3m1 -4v5m1 -4v3m1 -4v4m1 -4v5m1 -4v3m1 -4v5m1 -4v3m1 -4v4m1 -4v4m1 -3v4m1 -5v4m1 -3v3m1 -3v3m1 -4v5m1 -5v5m1 -4v3m1 -3v4m1 -4v4m1 -5v5m1 -4v4m1 -5v5m1 -4v4m1 -5v5m1 -5v4m1 -4v5m1 -4v4m1 -5v5m1 -5v5m1 -5v4m1 -4v6m1 -5v3m1 -4v4m1 -3v3m1 -3v3m1 -4v4m1 -4v4m1 -3v3m1 -3v4m1 -5v5m1 -4v4m1 -5v4m1 -3v3m1 -4v4m1 -3v4m1 -5v5m1 -4v4m1 -5v4m1 -4v5m1 -4v4m1 -4v3m1 -4v5m1 -4v4m1 -4v3m1 -3v4m1 -5v4m1 -3v3m1 -3v4m1 -5v5m1 -5v5m1 -5v4m1 -3v3m1 -3v4m1 -4v3m1 -4v5m1 -5v4m1 -4v5m1 -5v4m1 -3v3m1 -3v3m1 -3v4m1 -5v5m1 -4v4m1 -5v4m1 -3v4m1 -4v4m1 -5v4m1 -4v7m1 -6v3m1 -4v4m1 -3v4m1 -4v3m1 -4v5m1 -5v5m1 -5v5m1 -4v3m1 -4v4m1 -4v4m1 -3v3m1 -3v4m1 -4v3m1 -4v4m1 -3v3m1 -3v3m1 -4v5m1 -5v4m1 -3v3m1 -4v5m1 -4v4m1 -4v3m1 -3v4m1 -5v4m1 -4v4m1 -3v4m1 -4v3m1 -3v4m1 -4v3m1 -3v4m1 -5v4m1 -4v4m1 -3v4m1 -5v4m1 -4v5m1 -5v5m1 -4v3m1 -3v3m1 -3v3m1 -4v4m1 -3v3m1 -3v3m1 -3v3m1 -4v4m1 -3v4m1 -4v3m1 -3v4m1 -4v4m1 -4v3m1 -4v5m1 -5v4m1 -4v4m1 -4v4m1 -4v4m1 -3v4m1 -5v4m1 -3v3m1 -4v5m1 -5v5m1 -4v3m1 -3v3m1 -4v4m1 -4v4m1 -4v4m1 -5v5m1 -4v4m1 -4v5m1 -4v4m1 -5v5m1 -5v4m1 -3v3m1 -4v4m1 -4v4m1 -3v3m1 -3v3m1 -3v4m1 -5v5m1 -4v4m1 -5v5m1 -4v3m1 -4v4m1 -4v4m1 -3v3m1 -4v4m1 -4v5m1 -5v4m1 -4v4m1 -3v4m1 -5v4m1 -3v3m1 -4v5m1 -4v4m1 -5v5m1 -4v3m1 -3v3m1 -4v5m1 -4v4m1 -4v4m1 -4v4m1 -4v3m1 -3v3m1 -3v3m1 -4v5m1 -4v3m1 -3v4m1 -4v5m1 -6v5m1 -5v4m1 -3v4m1 -4v3m1 -4v6m1 -5v3m1 -4v5m1 -4v3m1 -3v4m1 -5v4m1 -4v4m1 -4v5m1 -4v4m1 -5v5m1 -5v5m1 -5v5m1 -4v3m1 -3v4m1 -5v4m1 -3v4m1 -4v3m1 -4v4m1 -4v4m1 -3v3m1 -3v3m1 -3v3m1 -4v5m1 -4v3m1 -6v6m1 -4v4m1 -3v4m1 -4v6m1 -6v3m1 -3v4m1 -5v5m1 -4v5m1 -6v5m1 -4v3m1 -4v5m1 -4v3m1 -4v4m1 -4v7m1 -6v3m1 -3v4m1 -4v4m1 -4v4m1 -5v4m1 -4v4m1 -6v7m1 -7v7m1 -4v3m1 -3v3m1 -3v4" stroke="#e80000" stroke-width="1" fill="none"/>
<path d="M100.5 260.0V264.0m1 -3v4m1 -5v5m1 -4v3m1 -3v4m1 -4v6m1 -7v4m1 -3v4m1 -5v4m1 -3v4m1 -4v3m1 -4v4m1 -4v4m1 -3v3m1 -3v3m1 -4v5m1 -5v5m1 -4v3m1 -4v5m1 -4v3m1 -4v4m1 -3v4m1 -5v4m1 -4v4m1 -3v4m1 -5v4m1 -4v5m1 -5v4m1 -4v4m1 -4v4m1 -4v5m1 -5v4m1 -3v4m1 -5v4m1 -3v4m1 -5v4m1 -3v4m1 -4v3m1 -3v3m1 -3v4m1 -5v5m1 -4v3m1 -4v4m1 -4v5m1 -4v4m1 -4v3m1 -3v3m1 -3v3m1 -3v3m1 -3v4m1 -4v3m1 -4v4m1 -4v5m1 -4v3m1 -4v5m1 -4v3m1 -4v5m1 -5v5m1 -5v5m1 -4v4m1 -4v4m1 -5v5m1 -5v5m1 -4v4m1 -5v4m1 -4v5m1 -5v5m1 -5v4m1 -3v3m1 -4v5m1 -5v4m1 -4v4m1 -4v5m1 -4v3m1 -4v4m1 -3v3m1 -3v4m1 -5v5m1 -4v3m1 -4v4m1 -3v3m1 -4v4m1 -3v5m1 -6v5m1 -4v3m1 -4v4m1 -3v3m1 -4v4m1 -3v4m1 -4v4m1 -4v3m1 -4v7m1 -7v4m1 -4v5m1 -5v4m1 -4v5m1 -5v4m1 -3v3m1 -4v4m1 -4v5m1 -5v4m1 -4v4m1 -4v5m1 -5v5m1 -4v4m1 -5v5m1 -5v5m1 -5v5m1 -5v5m1 -5v5m1 -4v4m1 -4v3m1 -5v5m1 -3v4m1 -5v4m1 -3v4m1 -4v4m1 -4v4m1 -4v3m1 -3v3m1 -3v4m1 -5v5m1 -4v3m1 -4v4m1 -3v4m1 -7v6m1 -4v4m1 -4v4m1 -3v4m1 -4v3m1 -3v3m1 -4v5m1 -5v4m1 -4v5m1 -4v3m1 -3v4m1 -5v5m1 -5v4m1 -4v5m1 -4v4m1 -5v5m1 -4v3m1 -3v4m1 -5v5m1 -4v3m1 -4v4m1 -3v4m1 -5v5m1 -4v4m1 -4v3m1 -3v3m1 -4v5m1 -5v5m1 -5v4m1 -3v3m1 -4v4m1 -3v3m1 -4v5m1 -4v4m1 -4v4m1 -5v4m1 -3v3m1 -4v5m1 -4v3m1 -4v4m1 -4v4m1 -3v4m1 -5v4m1 -3v3m1 -3v3m1 -3v4m1 -5v4m1 -3v3m1 -3v4m1 -5v4m1 -3v3m1 -4v5m1 -4v4m1 -4v3m1 -4v5m1 -4v4m1 -5v5m1 -5v4m1 -4v4m1 -3v6m1 -6v3m1 -3v4m1 -5v5m1 -5v4m1 -3v3m1 -4v4m1 -3v3m1 -3v4m1 -5v4m1 -4v4m1 -4v4m1 -4v4m1 -3v3m1 -4v4m1 -4v5m1 -4v3m1 -4v5m1 -4v4m1 -4v4m1 -4v3m1 -3v3m1 -4v4m1 -3v3m1 -4v4m1 -4v4m1 -4v4m1 -4v4m1 -5v6m1 -4v3m1 -4v5m1 -4v3m1 -3v3m1 -3v3m1 -4v5m1 -5v4m1 -3v4m1 -5v4m1 -4v4m1 -3v3m1 -4v4m1 -3v3m1 -3v4m1 -5v4m1 -4v5m1 -4v3m1 -3v3m1 -3v3m1 -3v4m1 -4v4m1 -5v5m1 -5v5m1 -4v3m1 -4v4m1 -4v4m1 -3v4m1 -4v3m1 -4v5m1 -5v4m1 -3v3m1 -3v4m1 -4v3m1 -3v4m1 -4v3m1 -4v4m1 -3v4m1 -4v4m1 -5v5m1 -4v4m1 -4v4m1 -5v5m1 -4v3m1 -4v5m1 -4v4m1 -6v7m1 -6v4m1 -4v4m1 -3v3m1 -4v4m1 -3v3m1 -3v4m1 -4v3m1 -4v5m1 -4v3m1 -4v4m1 -4v4m1 -4v5m1 -5v5m1 -5v4m1 -3v3m1 -3v3m1 -3v4m1 -7v6m1 -3v4m1 -5v5m1 -4v3m1 -4v4m1 -3v4m1 -5v4m1 -4v4m1 -4v5m1 -4v4m1 -5v5m1 -4v4m1 -5v4m1 -3v4m1 -4v4m1 -4v3m1 -4v5m1 -5v4m1 -4v5m1 -5v5m1 -5v4m1 -3v4m1 -5v4m1 -4v4m1 -3v4m1 -5v5m1 -5v5m1 -5v5m1 -4v4m1 -4v3m1 -3v3m1 -3v3m1 -4v5m1 -4v4m1 -4v3m1 -4v5m1 -4v4m1 -4v4m1 -4v3m1 -3v3m1 -3v4m1 -5v4m1 -3v4m1 -4v3m1 -3v3m1 -3v3m1 -3v4m1 -4v4m1 -5v4m1 -3v3m1 -3v4m1 -5v5m1 -4v3m1 -4v5m1 -4v3m1 -3v3m1 -4v4m1 -3v4m1 -4v3m1 -3v4m1 -5v6m1 -6v5m1 -4v3m1 -4v6m1 -6v4m1 -4v4m1 -4v5m1 -4v3m1 -3v4m1 -5v4m1 -4v5m1 -4v3m1 -3v3m1 -4v5m1 -4v4m1 -4v3m1 -3v3m1 -4v5m1 -4v3m1 -4v4m1 -4v4m1 -4v4m1 -3v4m1 -4v4m1 -5v4m1 -3v3m1 -3v3m1 -3v4m1 -5v5m1 -4v3m1 -4v5m1 -5v4m1 -4v5m1 -5v5m1 -5v5m1 -5v4m1 -3v4m1 -5v5m1 -4v4m1 -4v3m1 -3v4m1 -5v4m1 -4v4m1 -4v4m1 -4v4m1 -3v5m1 -5v4m1 -4v3m1 -5v6m1 -4v3m1 -3v3m1 -4v5m1 -4v3m1 -3v4m1 -5v5m1 -4v3m1 -4v5m1 -4v4m1 -4v4m1 -5v5m1 -4v3m1 -3v5m1 -6v4m1 -3v4m1 -5v4m1 -3v3m1 -3v4m1 -4v3m1 -3v4m1 -5v4m1 -4v4m1 -3v6m1 -6v3m1 -3v3m1 -4v5m1 -7v6m1 -4v4m1 -3v4m1 -4v4m1 -4v3m1 -4v4m1 -4v4m1 -3v3m1 -3v4m1 -5v5m1 -4v4m1 -5v5m1 -4v3m1 -3v3m1 -3v3m1 -3v3m1 -4v5m1 -4v4m1 -5v4m1 -3v3m1 -3v4m1 -4v4m1 -4v3m1 -3v3m1 -4v5m1 -5v5m1 -4v3m1 -3v3m1 -4v5m1 -5v4m1 -4v5m1 -5v5m1 -5v4m1 -4v5m1 -5v5m1 -4v4m1 -4v4m1 -4v3m1 -4v4m1 -4v4m1 -4v4m1 -4v5m1 -5v4m1 -4v4m1 -3v4m1 -5v5m1 -4v3m1 -3v3m1 -3v4m1 -5v4m1 -4v5m1 -5v4m1 -3v4m1 -4v4m1 -4v4m1 -4v3m1 -3v3m1 -4v4m1 -4v5m1 -4v3m1 -3v3m1 -3v3m1 -4v5m1 -5v5m1 -4v3m1 -3v4m1 -5v5m1 -4v3m1 -3v3m1 -3v3m1 -3v3m1 -3v3m1 -4v6m1 -6v5m1 -4v3m1 -3v3m1 -4v5m1 -4v3m1 -4v5m1 -4v4m1 -5v5m1 -5v5m1 -5v5m1 -5v4m1 -3v4m1 -4v4m1 -4v4m1 -4v4m1 -5v5m1 -5v4m1 -3v4m1 -5v4m1 -4v4m1 -4v4m1 -4v5m1 -5v4m1 -4v4m1 -3v4m1 -4v4m1 -5v5m1 -5v5m1 -4v3m1 -4v4m1 -4v4m1 -3v3m1 -4v4m1 -4v4m1 -4v4m1 -3v4m1 -5v4m1 -4v6m1 -6v4m1 -3v4m1 -4v3m1 -4v5m1 -4v4m1 -4v3m1 -4v5m1 -4v3m1 -3v3m1 -4v4m1 -3v3m1 -4v5m1 -5v5m1 -5v4m1 -3v3m1 -4v4m1 -3v3m1 -3v4m1 -4v4m1 -5v4m1 -3v3m1 -3v3m1 -4v4m1 -4v4m1 -4v5m1 -4v4m1 -4v4m1 -4v4m1 -5v5m1 -4v4m1 -5v5m1 -4v4m1 -5v4m1 -4v5m1 -4v4m1 -5v7m1 -6v4m1 -5v5m1 -4v4m1 -6v6m1 -4v4m1 -5v5m1 -4v4m1 -4v3m1 -3v4m1 -5v5m1 -4v3m1 -3v4m1 -4v4m1 -4v4m1 -4v4m1 -5v5m1 -5v5m1 -4v4m1 -4v4m1 -5v5m1 -4v4m1 -5v5m1 -5v4m1 -4v4m1 -3v4m1 -4v4m1 -4v4m1 -4v3m1 -3v4m1 -5v4m1 -3v3m1 -3v4m1 -5v5m1 -4v4m1 -5v4m1 -4v5m1 -5v5m1 -5v5m1 -5v4m1 -3v3m1 -3v3m1 -3v3m1 -4v5m1 -4v4m1 -5v5m1 -5v5m1 -5v6m1 -5v3m1 -4v4m1 -3v3m1 -3v4m1 -4v4m1 -4v4m1 -4v4m1 -5v4m1 -3v3m1 -4v5m1 -5v4m1 -3v4m1 -5v4m1 -5v5m1 -3v4m1 -5v4m1 -3v3m1 -4v4m1 -3v4m1 -5v4m1 -4v5m1 -4v3m1 -4v5m1 -5v4m1 -4v5m1 -4v3m1 -3v3m1 -3v4m1 -5v5m1 -4v3m1 -4v5m1 -5v5m1 -4v4m1 -4v5m1 -6v5m1 -4v4m1 -5v5m1 -4v3m1 -4v4m1 -4v4m1 -3v3m1 -3v3m1 -3v4m1 -4v4m1 -4v3m1 -4v5m1 -5v4m1 -3v3m1 -4v5m1 -4v3m1 -3v3m1 -3v4m1 -4v3m1 -4v4m1 -4v4m1 -4v5m1 -4v4m1 -5v5m1 -4v3m1 -3v4m1 -4v4m1 -5v5m1 -5v4m1 -4v5m1 -4v4m1 -4v4m1 -5v5m1 -4v3m1 -3v3m1 -3v3m1 -4v5m1 -5v5m1 -5v4m1 -4v4m1 -3v3m1 -4v5m1 -4v3m1 -3v3m1 -3v4m1 -5v5m1 -4v3m1 -4v5m1 -5v4m1 -4v4m1 -4v5m1 -5v4m1 -3v4m1 -4v4m1 -4v4m1 -5v5m1 -4v3m1 -3v4m1 -4v4m1 -4v4m1 -5v5m1 -4v3m1 -3v3m1 -3v3m1 -4v4m1 -3v4m1 -4v4m1 -4v4m1 -5v5m1 -5v5m1 -5v5m1 -4v3m1 -3v4m1 -4v4m1 -5v5m1 -4v3m1 -4v4m1 -3v3m1 -3v3m1 -4v5m1 -5v5m1 -5v4m1 -3v3m1 -6v6m1 -4v4m1 -3v3m1 -3v3m1 -4v4m1 -4v5m1 -5v4m1 -3v4m1 -5v7m1 -7v4m1 -4v4m1 -4v4m1 -4v5m1 -5v4m1 -3v4m1 -4v3m1 -4v4m1 -4v5m1 -4v3m1 -4v4m1 -4v5m1 -5v4m1 -3v4m1 -5v5m1 -5v4m1 -5v6m1 -5v5m1 -4v4m1 -5v4m1 -3v4m1 -5v4m1 -4v5m1 -4v3m1 -3v4m1 -5v4m1 -4v5m1 -6v6m1 -5v5m1 -5v5m1 -4v4m1 -5v5m1 -5v5m1 -5v5m1 -4v4m1 -5v5m1 -5v5m1 -5v4m1 -3v4m1 -4v3m1 -3v4m1 -4v3m1 -3v3m1 -3v3m1 -3v4m1 -4v3m1 -4v5m1 -4v4m1 -5v4m1 -3v3m1 -4v5m1 -5v4m1 -3v3m1 -4v4m1 -3v4m1 -6v5m1 -3v3m1 -4v4m1 -4v4m1 -4v4m1 -3v3m1 -4v5m1 -5v5m1 -5v4m1 -4v4m1 -3v3m1 -4v4m1 -3v4m1 -4v3m1 -4v5m1 -5v4m1 -3v3m1 -3v4m1 -4v4m1 -5v4m1 -4v5m1 -4v3m1 -3v4m1 -5v7m1 -7v4m1 -4v5m1 -5v5m1 -5v4m1 -3v3m1 -3v4m1 -5v4m1 -3v4m1 -4v5m1 -7v6m1 -5v5m1 -5v4m1 -3v4m1 -4v4m1 -4v3m1 -3v4m1 -4v4m1 -5v4m1 -4v4m1 -4v4m1 -4v4m1 -4v5m1 -5v5m1 -4v4m1 -4v3m1 -3v3m1 -3v4m1 -4v3m1 -4v5m1 -4v3m1 -3v3m1 -3v4m1 -4v4m1 -4v5m1 -5v3m1 -4v5m1 -4v3m1 -3v3" stroke="#000000" stroke-width="1" fill="none"/>
<path d="M100.5 282.0V286.0m1 -3v3m1 -4v5m1 -5v5m1 -5v5m1 -5v5m1 -4v4m1 -6v6m1 -5v6m1 -6v5m1 -5v5m1 -5v5m1 -4v3m1 -3v4m1 -4v3m1 -3v4m1 -5v4m1 -4v5m1 -5v4m1 -4v5m1 -5v5m1 -5v5m1 -4v4m1 -4v3m1 -3v4m1 -5v5m1 -5v4m1 -3v3m1 -4v5m1 -5v5m1 -4v4m1 -5v5m1 -4v4m1 -5v5m1 -5v4m1 -3v4m1 -5v4m1 -4v5m1 -4v3m1 -3v3m1 -3v3m1 -4v5m1 -4v4m1 -5v4m1 -3v3m1 -4v4m1 -4v5m1 -4v3m1 -4v4m1 -4v4m1 -3v3m1 -3v4m1 -5v4m1 -4v4m1 -4v4m1 -3v3m1 -3v4m1 -5v4m1 -3v3m1 -3v3m1 -3v4m1 -5v5m1 -4v3m1 -3v3m1 -3v3m1 -3v4m1 -7v7m1 -4v4m1 -4v4m1 -4v4m1 -4v3m1 -3v4m1 -4v4m1 -4v4m1 -5v5m1 -6v6m1 -4v3m1 -4v4m1 -3v3m1 -4v4m1 -4v4m1 -3v4m1 -4v4m1 -5v5m1 -4v4m1 -5v5m1 -5v5m1 -5v5m1 -4v3m1 -4v5m1 -4v4m1 -5v5m1 -4v3m1 -4v5m1 -4v3m1 -3v3m1 -3v3m1 -3v4m1 -4v4m1 -5v5m1 -4v4m1 -4v4m1 -5v5m1 -4v3m1 -3v4m1 -5v4m1 -4v4m1 -3v4m1 -5v4m1 -3v3m1 -4v5m1 -5v4m1 -3v4m1 -5v5m1 -5v5m1 -4v3m1 -4v5m1 -5v5m1 -5v5m1 -4v4m1 -5v4m1 -3v4m1 -5v6m1 -5v3m1 -4v4m1 -4v5m1 -4v3m1 -4v4m1 -3v3m1 -3v4m1 -5v5m1 -5v5m1 -4v3m1 -3v4m1 -4v3m1 -3v3m1 -4v4m1 -3v4m1 -5v4m1 -3v4m1 -4v3m1 -3v4m1 -5v4m1 -4v4m1 -4v5m1 -4v4m1 -5v5m1 -4v4m1 -4v3m1 -3v4m1 -4v4m1 -4v3m1 -4v5m1 -5v5m1 -5v5m1 -5v5m1 -4v3m1 -3v4m1 -5v4m1 -4v4m1 -3v4m1 -5v5m1 -5v4m1 -3v3m1 -4v5m1 -5v5m1 -5v5m1 -4v3m1 -3v4m1 -5v5m1 -4v4m1 -4v4m1 -5v4m1 -3v3m1 -4v4m1 -3v3m1 -4v4m1 -3v4m1 -5v4m1 -3v4m1 -5v4m1 -4v5m1 -4v4m1 -5v5m1 -4v4m1 -5v5m1 -5v5m1 -4v3m1 -4v5m1 -4v4m1 -5v4m1 -4v4m1 -3v3m1 -3v4m1 -5v4m1 -4v5m1 -4v3m1 -3v4m1 -4v3m1 -4v5m1 -5v4m1 -3v4m1 -5v5m1 -5v5m1 -5v5m1 -5v5m1 -4v3m1 -4v5m1 -4v4m1 -5v4m1 -5v6m1 -5v4m1 -3v3m1 -3v3m1 -3v4m1 -5v4m1 -4v4m1 -3v4m1 -4v3m1 -4v4m1 -4v4m1 -4v4m1 -4v5m1 -4v4m1 -5v5m1 -5v5m1 -4v3m1 -3v3m1 -3v4m1 -4v3m1 -4v5m1 -4v3m1 -4v5m1 -7v6m1 -3v3m1 -3v4m1 -4v4m1 -4v4m1 -4v3m1 -4v4m1 -3v3m1 -3v4m1 -4v3m1 -3v3m1 -3v3m1 -3v4m1 -5v4m1 -4v4m1 -4v5m1 -5v4m1 -4v5m1 -4v3m1 -3v3m1 -3v4m1 -4v3m1 -3v3m1 -4v4m1 -3v4m1 -5v4m1 -3v3m1 -4v4m1 -3v3m1 -4v4m1 -4v6m1 -6v5m1 -5v4m1 -4v4m1 -3v4m1 -5v5m1 -5v5m1 -4v3m1 -3v3m1 -3v3m1 -3v4m1 -5v4m1 -3v3m1 -3v3m1 -4v4m1 -3v3m1 -4v4m1 -3v3m1 -4v5m1 -5v5m1 -4v4m1 -4v3m1 -4v4m1 -4v4m1 -4v7m1 -7v5m1 -5v5m1 -5v4m1 -4v4m1 -4v5m1 -5v4m1 -3v4m1 -4v3m1 -3v4m1 -4v4m1 -4v3m1 -3v3m1 -3v4m1 -4v4m1 -5v4m1 -3v4m1 -5v5m1 -5v4m1 -4v4m1 -3v4m1 -5v5m1 -4v4m1 -4v3m1 -3v4m1 -4v4m1 -5v4m1 -4v4m1 -4v4m1 -3v3m1 -4v5m1 -4v3m1 -3v3m1 -4v5m1 -4v3m1 -3v3m1 -3v4m1 -5v5m1 -5v4m1 -4v5m1 -4v4m1 -4v4m1 -4v3m1 -3v3m1 -4v5m1 -4v3m1 -4v4m1 -3v3m1 -3v4m1 -4v3m1 -3v4m1 -5v5m1 -5v4m1 -3v4m1 -5v5m1 -5v5m1 -5v5m1 -5v5m1 -5v4m1 -4v4m1 -3v3m1 -4v6m1 -5v5m1 -6v7m1 -6v4m1 -4v3m1 -4v5m1 -5v4m1 -3v4m1 -4v3m1 -3v4m1 -5v5m1 -4v3m1 -4v4m1 -3v4m1 -4v4m1 -4v3m1 -4v5m1 -5v5m1 -5v5m1 -5v4m1 -3v4m1 -5v5m1 -4v3m1 -4v4m1 -4v4m1 -4v5m1 -5v4m1 -4v4m1 -4v5m1 -5v4m1 -4v5m1 -5v4m1 -4v5m1 -5v4m1 -4v4m1 -3v4m1 -4v4m1 -4v3m1 -5v6m1 -4v3m1 -4v5m1 -4v3m1 -4v5m1 -4v3m1 -3v3m1 -4v4m1 -3v3m1 -3v4m1 -5v5m1 -4v3m1 -4v4m1 -4v5m1 -4v3m1 -3v3m1 -3v4m1 -4v3m1 -3v4m1 -4v4m1 -5v4m1 -3v3m1 -4v4m1 -4v4m1 -3v4m1 -4v5m1 -5v3m1 -3v4m1 -5v4m1 -4v5m1 -4v3m1 -4v4m1 -4v5m1 -5v5m1 -5v5m1 -5v4m1 -4v4m1 -3v3m1 -4v5m1 -4v4m1 -4v4m1 -5v5m1 -4v4m1 -4v3m1 -4v5m1 -4v4m1 -4v3m1 -4v5m1 -4v4m1 -5v5m1 -4v3m1 -4v5m1 -4v5m1 -5v4m1 -7v7m1 -5v5m1 -5v4m1 -4v4m1 -3v4m1 -5v4m1 -4v5m1 -4v3m1 -4v4m1 -4v5m1 -4v3m1 -4v5m1 -5v5m1 -5v4m1 -3v4m1 -5v4m1 -3v3m1 -4v4m1 -3v4m1 -4v4m1 -5v5m1 -4v4m1 -5v5m1 -5v4m1 -3v4m1 -4v3m1 -4v5m1 -4v3m1 -3v3m1 -4v5m1 -4v4m1 -4v4m1 -4v3m1 -3v3m1 -4v5m1 -4v4m1 -5v4m1 -3v4m1 -6v5m1 -4v5m1 -5v5m1 -4v4m1 -4v3m1 -3v3m1 -3v4m1 -5v4m1 -3v3m1 -3v3m1 -4v4m1 -4v5m1 -4v4m1 -4v3m1 -4v5m1 -5v4m1 -4v4m1 -4v4m1 -4v4m1 -3v3m1 -3v3m1 -3v4m1 -5v4m1 -3v4m1 -5v4m1 -3v3m1 -4v5m1 -4v3m1 -4v5m1 -4v3m1 -3v4m1 -7v6m1 -4v4m1 -3v4m1 -4v4m1 -5v5m1 -4v3m1 -4v4m1 -3v6m1 -6v4m1 -5v4m1 -4v5m1 -5v5m1 -5v5m1 -5v5m1 -4v4m1 -7v6m1 -3v3m1 -3v3m1 -4v4m1 -3v3m1 -3v3m1 -3v4m1 -4v3m1 -4v5m1 -4v4m1 -4v3m1 -4v4m1 -3v4m1 -5v4m1 -3v3m1 -3v3m1 -4v5m1 -5v4m1 -4v4m1 -3v3m1 -4v5m1 -5v4m1 -4v4m1 -3v3m1 -3v3m1 -4v4m1 -4v4m1 -3v3m1 -4v5m1 -5v4m1 -4v5m1 -4v4m1 -4v6m1 -6v4m1 -5v4m1 -3v4m1 -5v5m1 -5v5m1 -4v4m1 -4v3m1 -4v4m1 -3v4m1 -4v3m1 -3v4m1 -5v7m1 -6v4m1 -4v3m1 -4v5m1 -4v3m1 -3v3m1 -3v3m1 -3v3m1 -4v4m1 -4v5m1 -5v5m1 -5v4m1 -4v4m1 -4v4m1 -4v4m1 -3v3m1 -3v4m1 -4v3m1 -4v5m1 -5v5m1 -4v4m1 -4v3m1 -4v5m1 -4v4m1 -4v4m1 -5v4m1 -3v4m1 -4v3m1 -4v4m1 -4v4m1 -4v4m1 -3v3m1 -4v5m1 -5v4m1 -4v5m1 -5v4m1 -3v3m1 -3v3m1 -3v4m1 -4v4m1 -5v5m1 -4v3m1 -3v4m1 -4v4m1 -5v4m1 -4v4m1 -4v5m1 -5v5m1 -7v7m1 -5v4m1 -3v4m1 -4v4m1 -5v4m1 -3v4m1 -5v5m1 -4v4m1 -4v4m1 -5v5m1 -5v5m1 -4v3m1 -3v3m1 -3v3m1 -3v3m1 -4v5m1 -4v3m1 -4v5m1 -5v5m1 -4v3m1 -3v3m1 -3v3m1 -4v4m1 -3v4m1 -4v4m1 -5v4m1 -4v4m1 -3v4m1 -4v4m1 -5v4m1 -3v4m1 -5v4m1 -3v3m1 -4v4m1 -3v4m1 -5v5m1 -5v5m1 -5v4m1 -3v3m1 -4v4m1 -3v3m1 -3v4m1 -5v5m1 -5v5m1 -4v4m1 -4v3m1 -4v5m1 -5v4m1 -4v5m1 -4v4m1 -5v4m1 -4v5m1 -5v7m1 -7v4m1 -4v4m1 -4v5m1 -5v4m1 -4v4m1 -4v5m1 -5v4m1 -4v4m1 -3v4m1 -4v3m1 -4v5m1 -5v4m1 -4v5m1 -5v5m1 -5v4m1 -3v3m1 -4v4m1 -4v5m1 -5v5m1 -5v4m1 -4v4m1 -4v4m1 -4v5m1 -4v4m1 -5v5m1 -6v5m1 -4v4m1 -3v4m1 -5v5m1 -5v5m1 -4v3m1 -3v3m1 -3v4m1 -5v5m1 -4v3m1 -3v3m1 -3v3m1 -4v4m1 -3v3m1 -4v4m1 -3v4m1 -4v4m1 -5v5m1 -4v4m1 -5v5m1 -4v4m1 -4v4m1 -4v4m1 -4v4m1 -4v3m1 -4v4m1 -3v5m1 -6v5m1 -4v4m1 -7v7m1 -4v3m1 -4v4m1 -4v5m1 -5v4m1 -4v5m1 -5v4m1 -4v4m1 -4v4m1 -4v5m1 -5v4m1 -3v4m1 -4v3m1 -4v5m1 -4v3m1 -4v5m1 -5v4m1 -4v4m1 -4v5m1 -4v3m1 -3v4m1 -5v5m1 -5v4m1 -4v6m1 -5v4m1 -4v3m1 -4v5m1 -5v4m1 -3v3m1 -4v5m1 -4v4m1 -4v4m1 -5v4m1 -3v3m1 -3v3m1 -3v3m1 -3v4m1 -5v5m1 -5v4m1 -3v3m1 -3v5m1 -5v4m1 -5v5m1 -5v5m1 -5v5m1 -4v5m1 -5v4m1 -5v5m1 -4v3m1 -3v4m1 -5v4m1 -3v4m1 -4v3m1 -4v4m1 -4v5m1 -5v4m1 -4v5m1 -4v4m1 -4v3m1 -4v5m1 -5v5m1 -5v4m1 -4v5m1 -5v4m1 -3v4m1 -5v4m1 -4v4m1 -4v5m1 -5v4m1 -4v4m1 -3v3m1 -4v4m1 -4v4m1 -4v5m1 -5v5m1 -4v4m1 -4v3m1 -4v4m1 -4v4m1 -4v5m1 -4v4m1 -4v4m1 -5v5m1 -5v4m1 -3v4m1 -4v3m1 -4v4m1 -3v4m1 -5v5m1 -5v4m1 -4v5m1 -5v5m1 -4v4m1 -5v4m1 -3v4m1 -5v4m1 -4v4m1 -6v6m1 -3v3m1 -4v5m1 -4v3m1 -5v5m1 -3v4m1 -4v4m1 -5v5m1 -4v3m1 -4v5m1 -4v3m1 -3v4m1 -4v3m1 -3v3m1 -3v3m1 -4v5m1 -4v3m1 -4v4m1 -4v4m1 -4v5m1 -4v3m1 -4v4m1 -4v4m1 -3v3m1 -3v4m1 -4v4m1 -5v4m1 -4v5" stroke="#0000ea" stroke-width="1" fill="none"/>
<rect x="103" y="291.0" width="1" height="34.0" fill="#3cc03c"/>
<rect x="104" y="296.0" width="1" height="22.0" fill="#3cc03c"/>
<path d="M100.5 303.0V312.0m1 -10v10m1 -8v8m1 -9v9m1 -9v8m1 -9v10m1 -9v8m1 -7v8m1 -8v7m1 -7v6m1 -5v5m1 -5v5m1 -5v4m1 -4v5m1 -4v3m1 -4v4m1 -4v5m1 -4v3m1 -3v3m1 -4v4m1 -3v3m1 -3v4m1 -4v3m1 -3v4m1 -4v3m1 -4v5m1 -5v4m1 -3v3m1 -3v3m1 -3v4m1 -4v3m1 -3v4m1 -5v4m1 -3v3m1 -4v4m1 -4v5m1 -5v4m1 -3v3m1 -3v3m1 -3v4m1 -5v5m1 -5v4m1 -4v4m1 -4v4m1 -3v4m1 -5v4m1 -3v3m1 -4v4m1 -3v4m1 -4v3m1 -4v4m1 -4v5m1 -4v3m1 -3v3m1 -4v4m1 -3v3m1 -4v4m1 -3v4m1 -4v3m1 -3v3m1 -3v4m1 -5v5m1 -4v3m1 -4v4m1 -4v5m1 -5v4m1 -4v5m1 -5v5m1 -4v3m1 -3v3m1 -3v4m1 -4v3m1 -3v4m1 -4v5m1 -8v7m1 -5v5m1 -5v4m1 -3v4m1 -5v5m1 -4v3m1 -3v3m1 -3v3m1 -4v4m1 -4v4m1 -3v3m1 -4v4m1 -3v3m1 -4v5m1 -4v3m1 -4v5m1 -5v4m1 -4v4m1 -3v3m1 -3v4m1 -5v4m1 -3v4m1 -4v4m1 -7v7m1 -4v3m1 -4v4m1 -4v5m1 -4v3m1 -4v5m1 -4v3m1 -3v4m1 -4v3m1 -3v3m1 -4v4m1 -3v4m1 -5v4m1 -3v4m1 -4v4m1 -5v4m1 -6v7m1 -5v4m1 -3v4m1 -4v4m1 -4v4m1 -5v5m1 -4v3m1 -3v3m1 -3v3m1 -4v4m1 -3v4m1 -4v4m1 -4v3m1 -3v4m1 -4v3m1 -3v3m1 -4v4m1 -4v4m1 -3v4m1 -5v5m1 -4v3m1 -4v4m1 -4v5m1 -5v5m1 -5v4m1 -3v3m1 -3v4m1 -5v4m1 -4v4m1 -3v3m1 -4v4m1 -4v7m1 -6v4m1 -5v5m1 -5v5m1 -5v4m1 -3v4m1 -4v4m1 -5v5m1 -4v4m1 -4v4m1 -4v4m1 -5v5m1 -4v4m1 -4v4m1 -5v5m1 -5v5m1 -5v5m1 -5v4m1 -3v4m1 -4v4m1 -5v4m1 -3v3m1 -4v5m1 -4v4m1 -4v4m1 -5v4m1 -3v6m1 -7v5m1 -5v5m1 -4v3m1 -4v4m1 -3v4m1 -4v3m1 -4v4m1 -3v4m1 -6v5m1 -4v4m1 -4v5m1 -5v4m1 -3v3m1 -3v3m1 -3v3m1 -3v3m1 -3v4m1 -4v3m1 -4v5m1 -4v3m1 -3v4m1 -4v4m1 -5v5m1 -4v4m1 -4v4m1 -4v4m1 -5v4m1 -3v4m1 -4v3m1 -4v5m1 -4v4m1 -4v3m1 -4v5m1 -4v3m1 -3v4m1 -4v4m1 -5v4m1 -3v3m1 -3v3m1 -4v4m1 -4v4m1 -3v3m1 -4v5m1 -4v4m1 -4v6m1 -7v5m1 -5v4m1 -3v4m1 -4v4m1 -5v4m1 -3v4m1 -4v3m1 -4v5m1 -5v4m1 -3v4m1 -4v4m1 -5v5m1 -4v3m1 -4v4m1 -4v4m1 -4v5m1 -4v3m1 -3v4m1 -4v3m1 -3v3m1 -3v3m1 -4v4m1 -3v4m1 -5v4m1 -4v4m1 -3v4m1 -4v4m1 -4v4m1 -5v6m1 -5v3m1 -4v5m1 -5v4m1 -4v4m1 -4v4m1 -4v5m1 -4v4m1 -5v4m1 -3v3m1 -3v3m1 -3v4m1 -5v5m1 -5v4m1 -3v3m1 -3v3m1 -3v3m1 -4v4m1 -4v4m1 -4v4m1 -4v5m1 -5v5m1 -4v3m1 -3v4m1 -5v5m1 -4v3m1 -3v3m1 -4v4m1 -4v5m1 -4v4m1 -5v5m1 -5v4m1 -3v3m1 -3v3m1 -4v4m1 -3v3m1 -4v4m1 -3v4m1 -5v4m1 -3v3m1 -4v5m1 -6v6m1 -5v4m1 -4v4m1 -3v4m1 -5v4m1 -3v3m1 -5v7m1 -6v4m1 -4v5m1 -5v5m1 -5v5m1 -5v5m1 -4v3m1 -3v4m1 -5v5m1 -5v5m1 -4v3m1 -4v4m1 -4v4m1 -3v4m1 -4v4m1 -5v4m1 -4v4m1 -3v3m1 -4v4m1 -3v3m1 -3v6m1 -6v3m1 -4v5m1 -5v5m1 -5v4m1 -4v5m1 -5v5m1 -5v5m1 -4v4m1 -5v5m1 -5v5m1 -4v4m1 -5v4m1 -4v4m1 -3v3m1 -4v4m1 -4v5m1 -5v4m1 -4v5m1 -4v4m1 -5v4m1 -4v5m1 -5v5m1 -4v4m1 -5v4m1 -3v3m1 -4v5m1 -4v3m1 -3v4m1 -5v4m1 -4v4m1 -4v4m1 -4v4m1 -5v5m1 -4v5m1 -4v4m1 -5v5m1 -5v4m1 -4v5m1 -5v4m1 -4v4m1 -4v5m1 -4v3m1 -3v4m1 -4v4m1 -5v5m1 -4v4m1 -4v3m1 -4v4m1 -3v3m1 -4v4m1 -4v4m1 -4v5m1 -5v4m1 -3v3m1 -4v4m1 -4v4m1 -3v3m1 -3v3m1 -3v3m1 -3v4m1 -4v3m1 -4v5m1 -4v4m1 -4v4m1 -5v4m1 -3v3m1 -3v4m1 -5v5m1 -4v3m1 -4v4m1 -3v3m1 -3v4m1 -4v4m1 -5v4m1 -3v4m1 -5v5m1 -4v3m1 -4v7m1 -6v3m1 -4v5m1 -4v4m1 -4v3m1 -4v5m1 -4v3m1 -3v4m1 -5v5m1 -5v5m1 -5v5m1 -5v4m1 -4v5m1 -4v4m1 -4v3m1 -3v4m1 -4v4m1 -4v4m1 -5v5m1 -4v3m1 -4v6m1 -5v4m1 -4v4m1 -4v4m1 -5v5m1 -4v3m1 -3v4m1 -5v5m1 -4v3m1 -4v4m1 -4v5m1 -4v4m1 -5v5m1 -5v4m1 -3v4m1 -4v3m1 -3v4m1 -5v5m1 -4v4m1 -4v3m1 -4v4m1 -3v3m1 -3v4m1 -5v5m1 -5v5m1 -5v4m1 -4v4m1 -4v4m1 -4v5m1 -4v4m1 -5v4m1 -3v4m1 -5v5m1 -5v4m1 -4v5m1 -5v4m1 -4v5m1 -5v4m1 -4v5m1 -4v4m1 -4v4m1 -4v4m1 -5v5m1 -5v4m1 -3v4m1 -5v4m1 -4v4m1 -4v4m1 -3v3m1 -4v4m1 -6v6m1 -3v3m1 -4v4m1 -4v5m1 -5v5m1 -5v5m1 -5v4m1 -4v5m1 -5v5m1 -6v5m1 -4v5m1 -4v4m1 -4v3m1 -4v4m1 -4v5m1 -5v5m1 -4v3m1 -3v4m1 -5v5m1 -4v3m1 -3v4m1 -4v3m1 -3v4m1 -5v5m1 -4v3m1 -3v3m1 -4v5m1 -4v4m1 -5v4m1 -4v5m1 -4v4m1 -4v3m1 -4v5m1 -4v4m1 -5v4m1 -4v4m1 -3v4m1 -4v3m1 -4v4m1 -3v4m1 -4v4m1 -5v5m1 -4v3m1 -3v3m1 -3v3m1 -3v3m1 -4v5m1 -5v5m1 -5v4m1 -4v5m1 -5v4m1 -3v3m1 -4v5m1 -5v6m1 -6v4m1 -3v4m1 -4v4m1 -5v4m1 -4v4m1 -4v5m1 -5v4m1 -5v6m1 -5v4m1 -3v4m1 -5v5m1 -5v4m1 -4v5m1 -5v5m1 -5v4m1 -4v4m1 -3v3m1 -3v3m1 -4v5m1 -5v5m1 -5v5m1 -4v4m1 -5v4m1 -4v5m1 -5v5m1 -5v5m1 -4v4m1 -4v3m1 -4v5m1 -5v4m1 -3v4m1 -5v4m1 -3v3m1 -4v4m1 -3v3m1 -3v4m1 -4v4m1 -5v5m1 -5v5m1 -4v3m1 -4v4m1 -3v4m1 -5v4m1 -3v4m1 -4v4m1 -5v4m1 -3v3m1 -4v4m1 -4v4m1 -3v4m1 -5v6m1 -5v4m1 -5v4m1 -4v4m1 -3v3m1 -3v3m1 -4v5m1 -4v4m1 -5v4m1 -4v5m1 -5v5m1 -5v4m1 -3v4m1 -4v4m1 -5v4m1 -4v4m1 -4v5m1 -5v6m1 -6v4m1 -4v5m1 -5v5m1 -4v3m1 -4v4m1 -3v3m1 -3v4m1 -4v3m1 -3v4m1 -4v4m1 -5v5m1 -5v4m1 -3v3m1 -3v3m1 -3v3m1 -4v5m1 -4v4m1 -5v5m1 -6v6m1 -4v4m1 -5v4m1 -3v3m1 -3v4m1 -5v5m1 -4v3m1 -4v4m1 -3v4m1 -5v4m1 -3v3m1 -3v3m1 -4v5m1 -5v4m1 -3v4m1 -4v4m1 -5v4m1 -4v4m1 -3v3m1 -3v3m1 -4v5m1 -5v5m1 -5v4m1 -3v3m1 -4v4m1 -4v5m1 -5v5m1 -4v3m1 -4v5m1 -4v4m1 -5v4m1 -4v5m1 -5v4m1 -4v4m1 -3v3m1 -4v5m1 -5v4m1 -4v4m1 -3v4m1 -5v5m1 -5v4m1 -4v5m1 -5v4m1 -6v7m1 -4v3m1 -4v5m1 -4v3m1 -3v3m1 -4v5m1 -5v5m1 -4v3m1 -4v5m1 -4v3m1 -3v4m1 -5v5m1 -5v4m1 -3v3m1 -4v5m1 -4v4m1 -4v3m1 -4v4m1 -3v4m1 -5v4m1 -4v4m1 -4v5m1 -4v3m1 -4v5m1 -5v4m1 -3v3m1 -3v3m1 -3v3m1 -3v4m1 -4v4m1 -5v4m1 -3v3m1 -5v6m1 -4v3m1 -3v4m1 -5v5m1 -5v5m1 -4v3m1 -4v4m1 -4v5m1 -5v4m1 -4v4m1 -4v4m1 -4v4m1 -4v5m1 -4v3m1 -3v3m1 -3v3m1 -3v3m1 -3v4m1 -4v3m1 -4v5m1 -5v5m1 -5v5m1 -4v3m1 -5v5m1 -3v3m1 -3v3m1 -4v4m1 -4v4m1 -3v4m1 -5v5m1 -4v4m1 -4v3m1 -3v4m1 -5v5m1 -4v3m1 -3v4m1 -4v3m1 -3v4m1 -5v5m1 -4v4m1 -4v4m1 -4v3m1 -3v4m1 -4v3m1 -4v6m1 -6v4m1 -3v4m1 -5v4m1 -3v3m1 -3v4m1 -5v5m1 -4v4m1 -5v4m1 -4v5m1 -5v4m1 -4v5m1 -5v4m1 -4v5m1 -4v4m1 -4v3m1 -4v4m1 -3v3m1 -4v5m1 -4v4m1 -4v3m1 -3v3m1 -4v5m1 -5v4m1 -3v3m1 -4v4m1 -3v4m1 -4v4m1 -5v5m1 -5v5m1 -5v5m1 -5v4m1 -3v3m1 -3v4m1 -5v5m1 -4v4m1 -5v4m1 -4v5m1 -4v3m1 -3v3m1 -4v5m1 -4v4m1 -5v4m1 -4v5m1 -4v3m1 -4v5m1 -4v3m1 -4v4m1 -3v4m1 -4v4m1 -5v4m1 -4v4m1 -3v4m1 -5v4m1 -4v5m1 -4v3m1 -3v4m1 -5v4m1 -3v3m1 -4v4m1 -4v5m1 -4v3m1 -3v4m1 -5v4m1 -3v3m1 -4v5m1 -4v3m1 -3v4m1 -4v3m1 -3v4m1 -4v4m1 -4v3m1 -3v3m1 -4v5m1 -5v5m1 -4v4m1 -4v3m1 -3v4m1 -5v4m1 -3v4m1 -5v5m1 -4v3m1 -3v4m1 -4v3m1 -4v5m1 -4v4m1 -5v4m1 -3v4m1 -5v4m1 -3v3m1 -4v5m1 -5v4m1 -3v4m1 -5v4m1 -3v4m1 -5v5m1 -4v3m1 -4v5m1 -5v4m1 -4v4m1 -4v4m1 -4v4m1 -4v5m1 -4v4m1 -5v4m1 -4v4m1 -4v7m1 -6v3m1 -4v5m1 -4v4m1 -5v4m1 -4v4m1 -3v4m1 -4v3m1 -6v7m1 -5v4m1 -4v5m1 -4v3m1 -4v5m1 -4v4m1 -4v3m1 -3v4m1 -4v3m1 -3v4m1 -5v5m1 -6v5m1 -3v4m1 -5v5m1 -4v4m1 -4v3" stroke="#00ee00" stroke-width="1" fill="none"/>
<rect x="910" y="324.0" width="1" height="12.0" fill="#d01818"/>
<path d="M100.5 328.0V331.0m1 -3v3m1 -3v4m1 -4v4m1 -5v5m1 -4v4m1 -5v4m1 -3v4m1 -4v3m1 -3v4m1 -5v5m1 -5v5m1 -5v5m1 -5v4m1 -4v5m1 -4v4m1 -5v4m1 -3v3m1 -3v3m1 -4v4m1 -3v4m1 -5v4m1 -4v4m1 -3v4m1 -4v4m1 -5v4m1 -3v3m1 -3v4m1 -5v5m1 -4v3m1 -4v5m1 -5v5m1 -4v4m1 -4v3m1 -4v5m1 -5v4m1 -3v4m1 -4v3m1 -3v4m1 -5v4m1 -4v5m1 -4v3m1 -4v5m1 -5v5m1 -5v4m1 -4v4m1 -3v4m1 -5v5m1 -5v5m1 -5v4m1 -4v5m1 -5v5m1 -4v4m1 -5v4m1 -3v3m1 -3v3m1 -3v3m1 -3v4m1 -4v4m1 -4v3m1 -4v4m1 -4v5m1 -4v3m1 -3v3m1 -4v5m1 -5v5m1 -5v5m1 -4v4m1 -4v3m1 -4v4m1 -4v4m1 -4v4m1 -3v4m1 -5v4m1 -3v3m1 -3v3m1 -4v5m1 -4v4m1 -4v3m1 -4v5m1 -4v4m1 -4v4m1 -5v4m1 -4v4m1 -3v4m1 -5v5m1 -4v3m1 -3v5m1 -6v5m1 -5v4m1 -4v4m1 -4v4m1 -3v4m1 -5v4m1 -3v4m1 -5v4m1 -3v3m1 -3v3m1 -3v5m1 -5v3m1 -3v3m1 -3v3m1 -4v4m1 -3v4m1 -4v3m1 -3v3m1 -3v3m1 -3v3m1 -3v4m1 -4v3m1 -3v4m1 -5v4m1 -3v3m1 -3v3m1 -3v4m1 -5v5m1 -5v4m1 -4v5m1 -5v5m1 -6v6m1 -4v3m1 -3v4m1 -5v5m1 -4v4m1 -5v4m1 -3v4m1 -5v4m1 -3v4m1 -4v3m1 -4v5m1 -4v3m1 -4v4m1 -3v4m1 -5v4m1 -4v4m1 -4v4m1 -3v4m1 -4v3m1 -3v3m1 -4v5m1 -5v4m1 -3v3m1 -4v4m1 -4v5m1 -4v4m1 -4v5m1 -5v3m1 -4v5m1 -5v5m1 -5v4m1 -4v5m1 -4v4m1 -5v5m1 -5v4m1 -3v3m1 -3v4m1 -5v4m1 -3v4m1 -4v4m1 -4v4m1 -5v5m1 -4v3m1 -4v5m1 -4v3m1 -3v3m1 -3v3m1 -4v5m1 -5v5m1 -5v4m1 -3v3m1 -3v4m1 -4v4m1 -5v5m1 -5v5m1 -4v3m1 -3v3m1 -4v5m1 -5v4m1 -4v5m1 -5v5m1 -5v4m1 -3v3m1 -4v4m1 -3v3m1 -3v4m1 -5v5m1 -4v3m1 -4v5m1 -4v3m1 -6v7m1 -4v4m1 -5v4m1 -4v5m1 -4v4m1 -5v5m1 -4v3m1 -4v5m1 -5v4m1 -3v3m1 -3v3m1 -3v4m1 -4v5m1 -5v4m1 -4v5m1 -6v4m1 -3v3m1 -3v4m1 -5v4m1 -3v3m1 -3v3m1 -4v5m1 -5v4m1 -3v4m1 -5v4m1 -3v4m1 -5v4m1 -4v5m1 -4v4m1 -5v4m1 -3v3m1 -4v5m1 -4v4m1 -5v4m1 -4v5m1 -5v4m1 -4v5m1 -4v4m1 -5v5m1 -5v4m1 -4v5m1 -4v4m1 -4v4m1 -5v5m1 -4v3m1 -3v4m1 -4v4m1 -4v4m1 -5v4m1 -4v4m1 -3v4m1 -5v5m1 -5v4m1 -4v5m1 -4v3m1 -4v5m1 -5v4m1 -3v3m1 -3v3m1 -4v5m1 -4v4m1 -5v5m1 -4v4m1 -4v3m1 -4v5m1 -4v4m1 -4v3m1 -4v5m1 -4v4m1 -4v3m1 -4v5m1 -4v3m1 -3v4m1 -4v4m1 -4v4m1 -4v3m1 -3v3m1 -3v3m1 -3v3m1 -4v4m1 -4v4m1 -4v4m1 -3v4m1 -4v4m1 -4v4m1 -5v4m1 -3v3m1 -4v6m1 -5v3m1 -4v5m1 -5v4m1 -3v3m1 -4v5m1 -5v4m1 -4v4m1 -4v4m1 -3v4m1 -4v3m1 -3v4m1 -4v4m1 -5v4m1 -4v4m1 -3v3m1 -4v5m1 -5v4m1 -3v4m1 -4v3m1 -4v4m1 -4v5m1 -5v5m1 -5v5m1 -5v4m1 -3v4m1 -5v4m1 -3v3m1 -4v5m1 -4v3m1 -3v3m1 -3v3m1 -4v4m1 -4v4m1 -4v4m1 -4v4m1 -3v3m1 -4v5m1 -4v3m1 -3v4m1 -5v5m1 -5v4m1 -3v4m1 -4v4m1 -4v3m1 -3v3m1 -4v4m1 -3v3m1 -3v4m1 -5v4m1 -4v4m1 -3v4m1 -5v5m1 -5v4m1 -3v4m1 -4v4m1 -4v3m1 -4v4m1 -3v4m1 -4v4m1 -4v4m1 -4v4m1 -4v4m1 -5v4m1 -4v4m1 -3v3m1 -3v3m1 -3v4m1 -5v5m1 -4v3m1 -3v3m1 -4v4m1 -3v5m1 -6v5m1 -4v3m1 -3v3m1 -4v5m1 -4v4m1 -4v3m1 -3v4m1 -4v3m1 -4v5m1 -5v5m1 -4v4m1 -4v4m1 -5v5m1 -5v5m1 -5v5m1 -5v4m1 -3v3m1 -3v4m1 -5v5m1 -5v5m1 -4v3m1 -4v4m1 -4v4m1 -4v4m1 -3v4m1 -4v3m1 -4v4m1 -3v3m1 -3v4m1 -4v3m1 -3v4m1 -6v6m1 -5v4m1 -3v4m1 -5v4m1 -3v4m1 -4v4m1 -5v5m1 -5v5m1 -4v4m1 -5v5m1 -4v4m1 -4v3m1 -3v3m1 -4v4m1 -3v3m1 -3v4m1 -4v3m1 -4v5m1 -5v4m1 -3v4m1 -5v5m1 -5v5m1 -5v4m1 -4v4m1 -4v4m1 -4v4m1 -3v4m1 -4v3m1 -4v5m1 -4v3m1 -3v4m1 -5v5m1 -4v3m1 -4v4m1 -3v3m1 -3v4m1 -5v4m1 -4v4m1 -3v3m1 -4v4m1 -3v4m1 -4v3m1 -3v4m1 -4v4m1 -4v4m1 -5v4m1 -3v4m1 -4v3m1 -5v5m1 -4v4m1 -4v7m1 -7v5m1 -4v3m1 -3v3m1 -3v4m1 -5v4m1 -4v5m1 -4v4m1 -4v4m1 -4v4m1 -4v4m1 -4v4m1 -5v5m1 -4v3m1 -3v3m1 -3v4m1 -5v5m1 -4v3m1 -3v3m1 -4v4m1 -4v4m1 -3v3m1 -4v4m1 -3v4m1 -4v3m1 -3v3m1 -5v5m1 -3v3m1 -4v5m1 -5v4m1 -3v3m1 -4v5m1 -5v4m1 -4v5m1 -4v4m1 -5v4m1 -4v4m1 -4v4m1 -4v5m1 -4v3m1 -3v3m1 -4v5m1 -5v5m1 -4v4m1 -5v5m1 -5v5m1 -5v4m1 -3v4m1 -4v3m1 -4v4m1 -4v4m1 -4v4m1 -4v5m1 -4v3m1 -3v3m1 -3v4m1 -5v4m1 -3v3m1 -3v3m1 -4v4m1 -4v4m1 -3v4m1 -4v4m1 -5v4m1 -4v5m1 -5v4m1 -4v4m1 -3v4m1 -4v5m1 -6v4m1 -4v4m1 -3v3m1 -3v3m1 -4v5m1 -5v4m1 -3v3m1 -3v4m1 -4v3m1 -4v5m1 -4v3m1 -3v3m1 -4v4m1 -3v3m1 -3v4m1 -5v4m1 -4v4m1 -4v4m1 -3v4m1 -4v3m1 -3v3m1 -3v4m1 -4v4m1 -5v5m1 -5v4m1 -4v6m1 -5v3m1 -5v6m1 -4v3m1 -4v4m1 -4v4m1 -4v5m1 -5v4m1 -4v4m1 -4v5m1 -5v4m1 -4v4m1 -4v4m1 -3v4m1 -5v5m1 -4v3m1 -4v5m1 -5v4m1 -4v4m1 -4v4m1 -4v5m1 -7v6m1 -4v5m1 -5v5m1 -4v3m1 -4v5m1 -4v3m1 -4v4m1 -3v4m1 -4v4m1 -4v3m1 -4v5m1 -5v4m1 -3v4m1 -5v4m1 -3v4m1 -4v3m1 -4v4m1 -3v4m1 -5v4m1 -3v3m1 -3v3m1 -3v4m1 -5v5m1 -5v4m1 -4v4m1 -4v4m1 -3v3m1 -3v3m1 -3v3m1 -3v4m1 -5v5m1 -5v4m1 -3v4m1 -4v3m1 -4v4m1 -3v4m1 -4v3m1 -3v4m1 -4v3m1 -4v5m1 -4v3m1 -4v5m1 -5v4m1 -4v4m1 -3v3m1 -3v3m1 -4v4m1 -4v4m1 -3v4m1 -5v5m1 -5v4m1 -4v4m1 -3v3m1 -3v3m1 -3v4m1 -4v3m1 -3v3m1 -3v3m1 -3v4m1 -4v3m1 -3v4m1 -4v4m1 -4v3m1 -4v4m1 -4v5m1 -4v4m1 -5v5m1 -5v5m1 -4v3m1 -3v3m1 -4v5m1 -5v5m1 -5v4m1 -3v4m1 -4v3m1 -3v4m1 -5v5m1 -5v5m1 -5v4m1 -3v4m1 -4v4m1 -4v3m1 -4v5m1 -4v4m1 -4v4m1 -4v4m1 -5v4m1 -4v5m1 -5v5m1 -5v5m1 -5v6m1 -6v5m1 -5v5m1 -4v3m1 -4v5m1 -4v4m1 -5v4m1 -4v4m1 -4v5m1 -4v3m1 -3v4m1 -4v4m1 -5v4m1 -4v4m1 -3v4m1 -4v3m1 -4v5m1 -5v4m1 -4v4m1 -3v4m1 -5v5m1 -4v3m1 -4v5m1 -5v4m1 -6v7m1 -6v6m1 -4v3m1 -4v4m1 -3v4m1 -5v4m1 -3v3m1 -4v5m1 -5v4m1 -4v4m1 -4v4m1 -4v5m1 -4v4m1 -5v5m1 -5v5m1 -5v5m1 -5v5m1 -4v3m1 -3v4m1 -4v4m1 -4v4m1 -4v4m1 -4v3m1 -4v5m1 -4v4m1 -4v3m1 -3v4m1 -4v4m1 -5v5m1 -5v5m1 -5v5m1 -5v5m1 -5v5m1 -4v4m1 -4v3m1 -5v5m1 -3v3m1 -3v4m1 -5v4m1 -4v4m1 -4v4m1 -4v5m1 -5v4m1 -3v4m1 -5v4m1 -3v3m1 -4v4m1 -5v5m1 -4v4m1 -4v4m1 -4v5m1 -5v5m1 -4v3m1 -3v3m1 -3v4m1 -5v4m1 -3v4m1 -4v4m1 -4v4m1 -5v4m1 -3v4m1 -5v4m1 -3v4m1 -4v3m1 -3v3m1 -4v4m1 -3v3m1 -3v3m1 -3v4m1 -4v4m1 -5v4m1 -3v4m1 -5v5m1 -5v4m1 -4v4m1 -4v4m1 -3v4m1 -5v4m1 -4v5m1 -5v5m1 -4v3m1 -3v4m1 -5v4m1 -4v5m1 -4v3m1 -4v5m1 -5v5m1 -5v4m1 -4v4m1 -3v3m1 -3v4m1 -4v3m1 -4v5m1 -4v3m1 -3v4m1 -4v4m1 -5v5m1 -5v5m1 -5v4m1 -4v5m1 -4v3m1 -4v5m1 -4v3m1 -4v5m1 -4v4m1 -4v4m1 -5v5m1 -5v4m1 -4v5m1 -4v4m1 -4v4m1 -5v4m1 -3v3m1 -4v4m1 -4v4m1 -3v3m1 -4v4m1 -4v5m1 -4v4m1 -5v5m1 -5v4m1 -4v5m1 -4v3m1 -4v4m1 -4v4m1 -3v3m1 -3v4m1 -5v4m1 -4v5m1 -5v5m1 -4v4m1 -5v4m1 -4v4m1 -3v4m1 -4v4m1 -5v5m1 -4v3m1 -3v4m1 -5v5m1 -4v4m1 -5v4m1 -3v4m1 -5v4m1 -4v5m1 -5v5m1 -5v4m1 -3v4m1 -4v3m1 -4v4m1 -4v4m1 -3v4m1 -4v3m1 -3v4m1 -4v3m1 -3v3m1 -3v3m1 -3v6m1 -7v4m1 -4v5m1 -5v5m1 -4v4m1 -4v4m1 -4v4m1 -4v4m1 -5v4m1 -3v3m1 -4v5m1 -5v5m1 -5v5m1 -4v4m1 -5v5m1 -4v4m1 -5v4m1 -3v3m1 -3v4m1 -4v3m1 -3v3m1 -3v4m1 -5v4m1 -4v4m1 -4v5m1 -5v4m1 -3v4m1 -5v5m1 -5v5m1 -5v5m1 -5v5m1 -4v4m1 -5v5" stroke="#e80000" stroke-width="1" fill="none"/>
<rect x="403" y="349.0" width="1" height="7.0" fill="#000000"/>
<rect x="411" y="350.0" width="1" height="10.0" fill="#000000"/>
<rect x="443" y="342.0" width="1" height="28.0" fill="#000000"/>
<rect x="465" y="345.0" width="1" height="18.0" fill="#000000"/>
<rect x="570" y="348.0" width="1" height="13.0" fill="#000000"/>
<path d="M100.5 351.0V355.0m1 -4v3m1 -3v3m1 -3v4m1 -4v3m1 -4v5m1 -5v4m1 -4v4m1 -4v5m1 -5v5m1 -5v4m1 -3v6m1 -7v4m1 -4v5m1 -4v3m1 -4v4m1 -3v4m1 -5v5m1 -5v5m1 -5v5m1 -4v4m1 -6v5m1 -3v4m1 -4v4m1 -4v4m1 -4v3m1 -4v5m1 -4v3m1 -3v4m1 -5v5m1 -4v4m1 -5v5m1 -5v5m1 -4v4m1 -4v4m1 -4v3m1 -3v3m1 -3v3m1 -3v4m1 -4v4m1 -4v4m1 -5v6m1 -6v5m1 -5v5m1 -5v4m1 -4v4m1 -4v5m1 -4v4m1 -4v4m1 -4v3m1 -3v4m1 -4v3m1 -3v3m1 -3v3m1 -4v5m1 -4v3m1 -4v4m1 -3v4m1 -4v3m1 -3v3m1 -4v7m1 -6v3m1 -4v5m1 -5v4m1 -3v4m1 -4v4m1 -5v5m1 -4v4m1 -5v4m1 -4v5m1 -4v3m1 -3v4m1 -4v3m1 -3v4m1 -4v4m1 -5v4m1 -4v4m1 -3v4m1 -4v4m1 -6v6m1 -5v5m1 -4v4m1 -4v4m1 -4v4m1 -5v5m1 -5v5m1 -4v4m1 -5v5m1 -5v4m1 -4v4m1 -4v4m1 -4v5m1 -5v4m1 -3v4m1 -4v4m1 -4v3m1 -3v3m1 -4v4m1 -4v4m1 -3v4m1 -4v3m1 -3v3m1 -3v3m1 -3v4m1 -4v3m1 -3v3m1 -4v5m1 -4v4m1 -4v3m1 -3v4m1 -5v4m1 -3v4m1 -4v4m1 -4v4m1 -4v3m1 -4v5m1 -4v3m1 -5v6m1 -4v3m1 -3v3m1 -4v4m1 -3v3m1 -3v4m1 -5v4m1 -4v4m1 -3v4m1 -4v4m1 -4v3m1 -3v3m1 -3v4m1 -4v4m1 -4v3m1 -4v5m1 -5v4m1 -6v6m1 -4v4m1 -4v4m1 -4v5m1 -4v3m1 -4v5m1 -4v3m1 -4v4m1 -3v3m1 -4v5m1 -5v4m1 -3v4m1 -4v3m1 -4v4m1 -4v4m1 -4v5m1 -4v3m1 -4v4m1 -4v5m1 -5v4m1 -4v4m1 -3v4m1 -4v3m1 -4v4m1 -4v5m1 -5v4m1 -3v3m1 -3v4m1 -5v5m1 -5v4m1 -3v3m1 -3v4m1 -4v3m1 -3v4m1 -4v3m1 -3v3m1 -3v3m1 -4v5m1 -5v4m1 -4v5m1 -4v3m1 -4v4m1 -4v5m1 -4v3m1 -4v4m1 -3v3m1 -3v4m1 -5v5m1 -5v4m1 -3v3m1 -4v5m1 -4v3m1 -4v4m1 -3v4m1 -4v4m1 -5v5m1 -4v4m1 -4v4m1 -4v4m1 -4v3m1 -4v5m1 -4v4m1 -5v5m1 -5v5m1 -4v4m1 -4v3m1 -4v5m1 -5v4m1 -4v4m1 -4v4m1 -3v4m1 -4v3m1 -3v3m1 -4v4m1 -3v3m1 -4v4m1 -4v4m1 -4v5m1 -5v5m1 -4v3m1 -3v3m1 -4v4m1 -3v4m1 -4v3m1 -4v4m1 -5v5m1 -3v3m1 -4v5m1 -4v3m1 -4v5m1 -4v4m1 -4v4m1 -4v4m1 -4v4m1 -4v4m1 -4v4m1 -4v3m1 -3v3m1 -3v4m1 -5v5m1 -5v4m1 -3v4m1 -5v5m1 -4v3m1 -3v4m1 -5v5m1 -5v5m1 -4v3m1 -4v5m1 -4v4m1 -5v4m1 -4v5m1 -4v4m1 -5v5m1 -4v3m1 -3v4m1 -5v5m1 -5v4m1 -4v4m1 -3v4m1 -5v4m1 -3v4m1 -4v3m1 -4v4m1 -4v5m1 -4v4m1 -5v5m1 -5v5m1 -5v5m1 -4v3m1 -3v3m1 -4v4m1 -3v3m1 -4v4m1 -4v5m1 -5v5m1 -4v3m1 -3v4m1 -4v3m1 -3v4m1 -4v3m1 -3v3m1 -3v4m1 -5v4m1 -4v5m1 -5v5m1 -5v4m1 -3v4m1 -4v3m1 -4v4m1 -4v5m1 -5v5m1 -5v4m1 -3v4m1 -4v3m1 -3v4m1 -5v4m1 -3v3m1 -4v5m1 -5v5m1 -5v4m1 -4v5m1 -4v4m1 -4v4m1 -4v4m1 -4v3m1 -4v5m1 -5v4m1 -4v5m1 -5v5m1 -4v3m1 -4v4m1 -3v4m1 -5v5m1 -5v5m1 -5v4m1 -3v3m1 -3v4m1 -5v4m1 -4v4m1 -4v5m1 -4v3m1 -4v4m1 -4v4m1 -4v5m1 -7v6m1 -3v3m1 -3v3m1 -4v4m1 -3v3m1 -3v3m1 -3v4m1 -5v4m1 -4v6m1 -5v3m1 -3v4m1 -5v4m1 -4v5m1 -4v4m1 -4v3m1 -4v5m1 -5v5m1 -5v5m1 -4v3m1 -3v3m1 -3v3m1 -4v5m1 -4v3m1 -3v4m1 -4v4m1 -4v3m1 -4v4m1 -4v5m1 -5v5m1 -5v5m1 -4v3m1 -4v4m1 -3v4m1 -5v4m1 -3v3m1 -3v3m1 -3v3m1 -3v3m1 -3v3m1 -3v4m1 -5v4m1 -3v4m1 -5v4m1 -4v5m1 -4v4m1 -5v5m1 -4v4m1 -4v4m1 -4v4m1 -5v4m1 -3v4m1 -5v4m1 -4v4m1 -4v5m1 -4v4m1 -4v5m1 -5v3m1 -4v4m1 -4v5m1 -4v4m1 -5v5m1 -5v5m1 -4v3m1 -4v5m1 -4v4m1 -4v3m1 -3v4m1 -5v5m1 -4v4m1 -4v4m1 -5v4m1 -4v5m1 -4v3m1 -4v5m1 -4v4m1 -5v4m1 -4v5m1 -5v5m1 -5v5m1 -4v3m1 -4v5m1 -5v4m1 -3v3m1 -3v3m1 -4v4m1 -3v4m1 -4v4m1 -4v3m1 -3v4m1 -5v5m1 -5v5m1 -4v3m1 -4v5m1 -4v4m1 -4v3m1 -3v4m1 -4v3m1 -3v3m1 -4v4m1 -3v4m1 -5v4m1 -3v4m1 -5v5m1 -5v5m1 -5v4m1 -4v5m1 -4v3m1 -4v4m1 -3v4m1 -4v3m1 -4v5m1 -4v4m1 -4v3m1 -3v3m1 -5v5m1 -4v4m1 -4v4m1 -4v5m1 -4v4m1 -5v4m1 -4v4m1 -3v3m1 -4v4m1 -4v4m1 -4v5m1 -4v4m1 -4v3m1 -4v5m1 -5v5m1 -5v5m1 -5v5m1 -4v3m1 -4v4m1 -3v4m1 -4v4m1 -5v4m1 -3v3m1 -4v4m1 -3v3m1 -4v5m1 -7v7m1 -4v3m1 -3v3m1 -4v4m1 -4v5m1 -5v4m1 -4v4m1 -4v5m1 -5v4m1 -4v5m1 -5v5m1 -4v4m1 -5v5m1 -4v3m1 -3v3m1 -5v6m1 -5v5m1 -5v5m1 -4v4m1 -5v5m1 -5v5m1 -4v3m1 -3v3m1 -4v5m1 -4v4m1 -5v4m1 -3v3m1 -3v4m1 -4v4m1 -4v4m1 -5v5m1 -4v3m1 -4v5m1 -4v3m1 -4v4m1 -3v3m1 -4v5m1 -5v5m1 -5v5m1 -4v4m1 -5v5m1 -4v3m1 -3v4m1 -4v3m1 -4v5m1 -5v4m1 -4v5m1 -4v4m1 -5v5m1 -5v4m1 -3v3m1 -5v5m1 -4v4m1 -3v4m1 -4v3m1 -3v3m1 -3v5m1 -5v3m1 -4v4m1 -3v3m1 -4v4m1 -4v5m1 -5v4m1 -3v3m1 -3v4m1 -4v3m1 -3v4m1 -5v5m1 -4v4m1 -5v4m1 -3v4m1 -5v6m1 -6v5m1 -4v4m1 -4v4m1 -5v4m1 -4v4m1 -3v3m1 -3v3m1 -4v5m1 -4v4m1 -5v5m1 -4v4m1 -5v5m1 -4v3m1 -4v4m1 -3v4m1 -5v4m1 -3v4m1 -5v4m1 -3v4m1 -4v3m1 -3v3m1 -3v3m1 -4v5m1 -5v4m1 -3v3m1 -4v5m1 -4v4m1 -4v4m1 -5v4m1 -4v5m1 -4v3m1 -4v5m1 -5v4m1 -3v4m1 -5v4m1 -4v4m1 -4v4m1 -4v5m1 -4v3m1 -4v5m1 -5v4m1 -4v4m1 -3v4m1 -5v5m1 -4v3m1 -4v5m1 -4v4m1 -5v4m1 -4v4m1 -4v5m1 -5v4m1 -4v4m1 -3v3m1 -3v4m1 -4v4m1 -5v4m1 -3v4m1 -4v3m1 -4v5m1 -5v4m1 -3v4m1 -4v3m1 -3v3m1 -4v5m1 -4v3m1 -4v5m1 -4v3m1 -3v4m1 -4v4m1 -4v3m1 -4v4m1 -4v5m1 -5v4m1 -4v4m1 -4v4m1 -4v4m1 -3v3m1 -4v4m1 -3v3m1 -3v4m1 -4v4m1 -5v5m1 -5v4m1 -3v4m1 -5v4m1 -4v4m1 -4v4m1 -4v4m1 -4v5m1 -4v3m1 -4v5m1 -4v4m1 -5v5m1 -6v6m1 -4v4m1 -5v4m1 -4v5m1 -4v4m1 -5v4m1 -3v3m1 -4v5m1 -5v5m1 -4v4m1 -4v4m1 -5v5m1 -5v5m1 -4v3m1 -3v3m1 -3v4m1 -5v4m1 -4v4m1 -4v4m1 -4v4m1 -4v5m1 -5v4m1 -3v3m1 -3v3m1 -3v4m1 -5v5m1 -4v4m1 -5v4m1 -3v3m1 -4v5m1 -5v6m1 -6v4m1 -3v3m1 -4v5m1 -4v3m1 -3v4m1 -5v5m1 -5v5m1 -5v5m1 -4v4m1 -5v5m1 -5v5m1 -5v4m1 -4v4m1 -3v3m1 -3v3m1 -4v4m1 -4v4m1 -3v3m1 -4v4m1 -5v6m1 -4v4m1 -4v4m1 -4v3m1 -3v3m1 -3v3m1 -3v3m1 -3v4m1 -4v3m1 -4v4m1 -4v4m1 -3v4m1 -4v4m1 -4v3m1 -4v4m1 -4v4m1 -4v5m1 -4v4m1 -5v5m1 -5v5m1 -4v4m1 -5v5m1 -4v3m1 -3v3m1 -4v5m1 -4v3m1 -3v3m1 -4v5m1 -5v4m1 -3v4m1 -4v3m1 -3v4m1 -5v5m1 -5v5m1 -4v4m1 -4v4m1 -4v3m1 -6v7m1 -4v3m1 -4v4m1 -3v4m1 -5v4m1 -5v8m1 -7v4m1 -3v4m1 -5v5m1 -5v5m1 -5v4m1 -4v5m1 -4v4m1 -5v5m1 -5v5m1 -4v3m1 -4v4m1 -4v5m1 -5v4m1 -3v3m1 -3v3m1 -3v3m1 -4v5m1 -4v4m1 -4v4m1 -6v6m1 -5v5m1 -4v4m1 -5v4m1 -3v4m1 -4v3m1 -4v5m1 -4v3m1 -4v5m1 -5v4m1 -4v4m1 -4v5m1 -4v3m1 -3v3m1 -4v5m1 -5v5m1 -4v4m1 -5v4m1 -3v4m1 -5v4m1 -3v4m1 -4v4m1 -5v4m1 -4v4m1 -4v5m1 -5v5m1 -5v5m1 -4v3m1 -3v4m1 -4v4m1 -5v5m1 -5v4m1 -4v4m1 -4v4m1 -4v4m1 -4v4m1 -4v4m1 -3v4m1 -6v5m1 -6v6m1 -3v4m1 -4v4m1 -4v3m1 -3v3m1 -4v5m1 -4v4m1 -4v4m1 -4v4m1 -5v5m1 -5v5m1 -5v5m1 -4v4m1 -6v6m1 -4v4m1 -5v5m1 -5v5m1 -5v4m1 -4v5m1 -4v3m1 -4v4m1 -4v4m1 -4v4m1 -3v4m1 -5v5m1 -5v5m1 -5v4m1 -4v5m1 -5v4m1 -3v3m1 -4v4m1 -4v4m1 -3v4m1 -5v5m1 -4v3m1 -3v4m1 -5v5m1 -5v4m1 -3v3m1 -4v5m1 -4v3m1 -3v4m1 -5v4m1 -4v5m1 -5v4m1 -5v6m1 -4v3m1 -4v4m1 -4v4m1 -4v4m1 -3v4m1 -4v4m1 -5v5m1 -4v3m1 -4v5m1 -4v4m1 -4v3m1 -3v4m1 -4v3m1 -3v3m1 -4v5m1 -4v4m1 -5v4m1 -4v5m1 -5v5m1 -5v4m1 -3v4m1 -5v7m1 -7v4m1 -4v5m1 -4v4m1 -5v5m1 -5v5" stroke="#000000" stroke-width="1" fill="none"/>
<path d="M100.5 373.0V377.0m1 -3v3m1 -3v4m1 -4v3m1 -3v4m1 -5v5m1 -5v4m1 -3v3m1 -4v4m1 -4v4m1 -4v4m1 -3v4m1 -4v3m1 -4v5m1 -4v3m1 -4v5m1 -5v5m1 -4v3m1 -3v4m1 -4v3m1 -3v3m1 -3v4m1 -5v5m1 -4v4m1 -5v6m1 -5v4m1 -5v4m1 -4v5m1 -5v4m1 -3v4m1 -4v3m1 -3v4m1 -4v3m1 -3v4m1 -5v5m1 -4v4m1 -4v4m1 -5v4m1 -4v5m1 -5v4m1 -4v5m1 -5v4m1 -4v5m1 -5v5m1 -5v5m1 -5v4m1 -3v3m1 -4v5m1 -6v6m1 -4v4m1 -4v4m1 -5v5m1 -5v5m1 -5v5m1 -4v4m1 -5v5m1 -5v4m1 -4v5m1 -5v4m1 -3v3m1 -3v4m1 -5v4m1 -3v4m1 -4v3m1 -4v5m1 -5v5m1 -4v4m1 -5v5m1 -5v5m1 -5v5m1 -4v3m1 -3v4m1 -4v4m1 -4v3m1 -3v4m1 -5v4m1 -3v3m1 -4v5m1 -5v5m1 -4v4m1 -5v5m1 -4v3m1 -4v4m1 -3v3m1 -3v3m1 -3v3m1 -3v4m1 -5v5m1 -5v4m1 -3v3m1 -3v3m1 -3v3m1 -3v4m1 -4v3m1 -3v3m1 -3v3m1 -4v5m1 -4v4m1 -5v4m1 -4v4m1 -3v3m1 -3v3m1 -3v4m1 -4v3m1 -4v6m1 -5v3m1 -4v4m1 -3v4m1 -5v5m1 -4v3m1 -4v5m1 -5v4m1 -4v4m1 -4v5m1 -4v4m1 -4v4m1 -5v4m1 -3v4m1 -5v4m1 -4v5m1 -4v4m1 -4v3m1 -4v4m1 -4v5m1 -5v4m1 -3v4m1 -5v5m1 -4v4m1 -4v3m1 -4v4m1 -4v4m1 -4v4m1 -4v5m1 -4v4m1 -5v4m1 -3v4m1 -5v5m1 -5v6m1 -6v4m1 -3v3m1 -4v5m1 -5v5m1 -4v4m1 -6v6m1 -4v4m1 -4v3m1 -4v5m1 -5v4m1 -3v3m1 -4v5m1 -4v3m1 -4v4m1 -3v3m1 -3v3m1 -4v4m1 -5v5m1 -4v5m1 -5v5m1 -5v4m1 -3v3m1 -3v4m1 -5v5m1 -5v4m1 -3v5m1 -5v4m1 -5v5m1 -4v4m1 -5v5m1 -5v5m1 -5v5m1 -4v3m1 -3v3m1 -3v4m1 -4v3m1 -3v3m1 -4v4m1 -3v3m1 -4v4m1 -4v4m1 -3v4m1 -4v3m1 -4v4m1 -3v3m1 -4v4m1 -3v4m1 -5v4m1 -3v3m1 -4v5m1 -4v4m1 -5v4m1 -3v4m1 -4v4m1 -4v3m1 -4v4m1 -4v4m1 -3v3m1 -3v4m1 -4v4m1 -4v3m1 -3v4m1 -6v5m1 -4v4m1 -3v3m1 -4v4m1 -3v4m1 -5v5m1 -4v4m1 -4v4m1 -5v5m1 -4v3m1 -3v4m1 -5v4m1 -4v4m1 -3v3m1 -4v5m1 -4v3m1 -4v4m1 -4v5m1 -5v4m1 -3v4m1 -5v4m1 -4v4m1 -3v3m1 -4v4m1 -3v4m1 -5v4m1 -4v5m1 -5v5m1 -5v5m1 -4v3m1 -3v3m1 -4v5m1 -4v3m1 -3v3m1 -4v4m1 -4v5m1 -4v4m1 -5v5m1 -6v6m1 -5v5m1 -5v5m1 -4v3m1 -4v4m1 -4v4m1 -4v5m1 -5v4m1 -3v3m1 -3v4m1 -5v4m1 -3v4m1 -5v4m1 -4v4m1 -3v4m1 -5v5m1 -4v3m1 -4v4m1 -3v4m1 -5v4m1 -4v4m1 -4v5m1 -5v5m1 -5v4m1 -4v4m1 -4v4m1 -4v5m1 -5v5m1 -4v4m1 -4v4m1 -4v6m1 -6v4m1 -4v3m1 -3v3m1 -3v4m1 -4v3m1 -4v5m1 -4v3m1 -3v3m1 -3v3m1 -4v4m1 -3v3m1 -3v4m1 -5v4m1 -3v4m1 -4v4m1 -5v4m1 -3v4m1 -4v4m1 -4v4m1 -5v5m1 -5v5m1 -5v4m1 -3v3m1 -3v3m1 -3v4m1 -4v3m1 -3v4m1 -4v3m1 -4v4m1 -4v4m1 -4v5m1 -4v3m1 -4v5m1 -4v4m1 -4v4m1 -5v4m1 -4v4m1 -3v3m1 -4v4m1 -3v4m1 -5v4m1 -3v3m1 -3v3m1 -3v3m1 -4v4m1 -3v3m1 -3v4m1 -4v4m1 -4v4m1 -4v4m1 -4v3m1 -4v4m1 -4v4m1 -3v4m1 -4v4m1 -4v4m1 -5v4m1 -3v4m1 -5v4m1 -4v4m1 -3v4m1 -5v4m1 -4v4m1 -4v4m1 -3v4m1 -4v3m1 -4v4m1 -3v3m1 -3v4m1 -4v3m1 -4v5m1 -5v4m1 -4v5m1 -7v6m1 -3v3m1 -4v4m1 -3v3m1 -3v4m1 -5v5m1 -5v4m1 -4v5m1 -4v3m1 -3v4m1 -4v4m1 -5v4m1 -4v4m1 -3v3m1 -3v3m1 -3v3m1 -3v4m1 -5v4m1 -3v3m1 -3v6m1 -6v4m1 -4v3m1 -3v3m1 -3v4m1 -5v5m1 -4v3m1 -3v4m1 -4v4m1 -5v4m1 -3v4m1 -5v4m1 -3v3m1 -4v4m1 -3v4m1 -5v4m1 -4v4m1 -3v4m1 -5v4m1 -5v6m1 -5v5m1 -5v5m1 -5v5m1 -5v4m1 -3v3m1 -4v4m1 -4v5m1 -5v5m1 -5v5m1 -4v3m1 -4v5m1 -4v4m1 -4v3m1 -4v4m1 -3v4m1 -5v4m1 -3v3m1 -3v3m1 -4v4m1 -4v5m1 -5v5m1 -5v5m1 -5v4m1 -3v4m1 -5v4m1 -4v5m1 -4v4m1 -5v4m1 -4v4m1 -4v4m1 -4v5m1 -4v4m1 -4v4m1 -5v4m1 -4v5m1 -4v4m1 -5v4m1 -3v4m1 -4v3m1 -4v4m1 -3v4m1 -5v5m1 -5v5m1 -5v4m1 -3v4m1 -5v5m1 -5v4m1 -3v4m1 -5v4m1 -4v5m1 -5v5m1 -4v3m1 -4v5m1 -5v5m1 -4v4m1 -5v4m1 -3v4m1 -5v4m1 -4v4m1 -3v4m1 -5v4m1 -4v4m1 -3v4m1 -5v5m1 -5v4m1 -4v5m1 -5v4m1 -3v4m1 -4v3m1 -3v4m1 -5v4m1 -3v4m1 -4v3m1 -3v4m1 -5v5m1 -5v4m1 -3v3m1 -3v4m1 -5v4m1 -4v5m1 -5v5m1 -5v5m1 -4v3m1 -3v4m1 -4v4m1 -4v3m1 -4v4m1 -3v3m1 -3v4m1 -5v4m1 -3v3m1 -3v3m1 -4v4m1 -4v5m1 -5v5m1 -5v4m1 -3v3m1 -3v4m1 -5v4m1 -3v4m1 -5v4m1 -3v4m1 -5v5m1 -5v4m1 -4v5m1 -5v5m1 -5v5m1 -4v4m1 -5v5m1 -4v4m1 -4v3m1 -3v4m1 -4v4m1 -4v4m1 -5v5m1 -5v5m1 -4v4m1 -5v4m1 -4v5m1 -4v4m1 -4v3m1 -3v3m1 -4v5m1 -4v4m1 -4v3m1 -4v4m1 -3v3m1 -3v4m1 -5v5m1 -5v5m1 -4v3m1 -4v4m1 -3v4m1 -5v5m1 -4v4m1 -5v4m1 -3v3m1 -4v4m1 -4v5m1 -5v5m1 -4v4m1 -5v5m1 -5v4m1 -3v3m1 -4v4m1 -4v5m1 -4v4m1 -4v4m1 -5v5m1 -4v4m1 -4v4m1 -4v4m1 -4v4m1 -4v3m1 -3v3m1 -3v4m1 -5v4m1 -4v4m1 -3v4m1 -4v4m1 -4v4m1 -7v8m1 -5v4m1 -4v3m1 -3v4m1 -5v5m1 -5v5m1 -4v3m1 -4v4m1 -4v5m1 -5v5m1 -5v4m1 -3v3m1 -4v5m1 -4v4m1 -5v4m1 -5v5m1 -4v5m1 -4v4m1 -4v4m1 -5v5m1 -4v4m1 -4v3m1 -4v5m1 -5v4m1 -4v4m1 -4v4m1 -4v5m1 -5v4m1 -4v4m1 -4v4m1 -3v4m1 -4v4m1 -4v4m1 -5v5m1 -5v5m1 -4v4m1 -7v6m1 -4v4m1 -3v3m1 -4v5m1 -4v4m1 -4v3m1 -4v4m1 -4v5m1 -4v4m1 -4v3m1 -4v4m1 -4v5m1 -5v5m1 -5v4m1 -4v4m1 -4v5m1 -4v4m1 -5v5m1 -5v4m1 -4v4m1 -3v3m1 -4v5m1 -5v5m1 -4v3m1 -4v5m1 -4v4m1 -4v4m1 -5v5m1 -5v4m1 -3v3m1 -3v5m1 -5v4m1 -4v5m1 -6v5m1 -4v3m1 -4v5m1 -5v5m1 -4v4m1 -4v4m1 -4v4m1 -4v4m1 -5v5m1 -4v4m1 -4v4m1 -5v5m1 -4v4m1 -4v4m1 -4v3m1 -3v3m1 -6v7m1 -5v5m1 -5v5m1 -5v5m1 -4v4m1 -4v5m1 -6v5m1 -5v5m1 -5v5m1 -5v5m1 -5v4m1 -4v4m1 -3v3m1 -3v3m1 -4v4m1 -5v6m1 -4v3m1 -4v5m1 -4v3m1 -4v5m1 -4v3m1 -3v3m1 -4v4m1 -4v4m1 -3v3m1 -4v4m1 -4v4m1 -4v5m1 -4v4m1 -4v3m1 -4v4m1 -4v5m1 -4v4m1 -5v5m1 -5v5m1 -5v7m1 -6v4m1 -4v4m1 -4v3m1 -4v4m1 -4v5m1 -5v4m1 -4v4m1 -3v3m1 -3v4m1 -4v3m1 -3v3m1 -3v4m1 -5v4m1 -4v5m1 -4v3m1 -4v4m1 -4v5m1 -5v5m1 -4v4m1 -4v3m1 -4v5m1 -4v3m1 -4v4m1 -3v3m1 -4v4m1 -3v4m1 -5v5m1 -5v5m1 -5v5m1 -5v5m1 -5v4m1 -3v4m1 -5v5m1 -5v5m1 -5v5m1 -5v5m1 -5v4m1 -3v3m1 -3v3m1 -3v4m1 -5v5m1 -4v3m1 -3v3m1 -3v4m1 -5v5m1 -5v4m1 -3v3m1 -4v4m1 -4v6m1 -5v3m1 -4v5m1 -4v4m1 -5v4m1 -3v4m1 -4v3m1 -3v3m1 -3v4m1 -5v5m1 -4v4m1 -5v4m1 -4v4m1 -3v4m1 -5v5m1 -5v5m1 -4v4m1 -4v3m1 -3v3m1 -4v4m1 -4v5m1 -4v3m1 -4v5m1 -5v5m1 -5v5m1 -5v4m1 -3v4m1 -5v4m1 -3v3m1 -3v4m1 -5v5m1 -4v3m1 -3v3m1 -3v3m1 -4v5m1 -5v5m1 -4v3m1 -3v3m1 -3v3m1 -3v3m1 -4v5m1 -5v5m1 -4v3m1 -3v3m1 -4v4m1 -3v3m1 -4v5m1 -5v4m1 -3v4m1 -4v4m1 -4v3m1 -4v5m1 -5v4m1 -4v5m1 -4v4m1 -5v4m1 -3v3m1 -4v4m1 -3v4m1 -5v4m1 -3v3m1 -4v4m1 -4v5m1 -5v4m1 -3v3m1 -3v3m1 -4v5m1 -4v4m1 -4v3m1 -3v3m1 -3v4m1 -5v4m1 -4v4m1 -3v4m1 -5v4m1 -3v3m1 -3v3m1 -3v4m1 -4v6m1 -6v3m1 -4v5m1 -4v3m1 -3v4m1 -4v3m1 -3v4m1 -4v3m1 -4v5m1 -5v4m1 -4v5m1 -4v4m1 -5v5m1 -4v4m1 -5v6m1 -6v4m1 -4v6m1 -6v5m1 -5v5m1 -5v5m1 -4v4m1 -7v6m1 -4v5m1 -4v4m1 -4v4m1 -4v4m1 -4v3m1 -4v5m1 -4v4m1 -5v4m1 -3v4m1 -5v4m1 -3v4m1 -4v3m1 -4v5m1 -4v3m1 -3v4m1 -5v5m1 -4v5m1 -5v4m1 -4v4m1 -5v4m1 -4v4m1 -3v3m1 -4v5m1 -4v4m1 -5v4m1 -4v5m1 -4v4m1 -5v5m1 -5v5m1 -5v4m1 -4v6m1 -6v4m1 -4v5m1 -5v5m1 -5v5m1 -4v4m1 -5v5" stroke="#0000ea" stroke-width="1" fill="none"/>
<rect x="323" y="389.0" width="1" height="18.0" fill="#3cc03c"/>
<rect x="588" y="383.0" width="1" height="30.0" fill="#3cc03c"/>
<rect x="589" y="391.0" width="1" height="16.0" fill="#3cc03c"/>
<rect x="771" y="378.0" width="1" height="31.0" fill="#3cc03c"/>
<path d="M100.5 395.0V400.0m1 -6v5m1 -3v3m1 -4v5m1 -4v3m1 -4v4m1 -3v4m1 -4v4m1 -4v3m1 -3v3m1 -3v4m1 -5v4m1 -3v4m1 -5v4m1 -3v3m1 -3v4m1 -4v3m1 -3v4m1 -5v7m1 -6v3m1 -3v3m1 -3v4m1 -4v4m1 -4v4m1 -4v4m1 -5v4m1 -4v5m1 -4v3m1 -6v7m1 -4v3m1 -4v4m1 -4v4m1 -3v4m1 -5v4m1 -4v5m1 -5v4m1 -3v3m1 -3v3m1 -3v3m1 -4v4m1 -6v6m1 -3v3m1 -3v4m1 -5v5m1 -5v4m1 -4v5m1 -4v3m1 -4v5m1 -5v4m1 -3v4m1 -4v4m1 -6v5m1 -3v3m1 -3v3m1 -4v5m1 -5v4m1 -4v5m1 -5v5m1 -5v5m1 -5v4m1 -3v4m1 -5v5m1 -5v5m1 -4v4m1 -4v4m1 -4v3m1 -3v4m1 -4v4m1 -5v4m1 -4v4m1 -4v5m1 -5v4m1 -4v4m1 -4v4m1 -3v3m1 -4v4m1 -4v4m1 -3v3m1 -3v4m1 -4v3m1 -4v4m1 -4v4m1 -4v4m1 -4v4m1 -4v4m1 -4v5m1 -4v3m1 -4v5m1 -4v3m1 -4v4m1 -3v3m1 -3v3m1 -4v7m1 -6v4m1 -4v4m1 -5v4m1 -3v4m1 -4v3m1 -3v3m1 -4v4m1 -4v4m1 -3v4m1 -4v4m1 -5v5m1 -5v4m1 -3v3m1 -4v4m1 -4v4m1 -4v4m1 -4v4m1 -3v3m1 -4v4m1 -3v3m1 -4v4m1 -3v4m1 -4v4m1 -5v5m1 -5v4m1 -4v5m1 -4v3m1 -3v4m1 -5v4m1 -4v5m1 -4v3m1 -3v4m1 -5v4m1 -4v5m1 -4v4m1 -4v3m1 -3v4m1 -4v3m1 -3v3m1 -3v5m1 -6v5m1 -4v4m1 -5v5m1 -6v5m1 -3v4m1 -4v4m1 -4v4m1 -5v4m1 -3v5m1 -5v4m1 -4v3m1 -4v4m1 -4v5m1 -5v5m1 -5v4m1 -4v5m1 -6v5m1 -4v5m1 -5v5m1 -4v3m1 -3v4m1 -4v4m1 -4v4m1 -5v5m1 -5v4m1 -3v4m1 -5v5m1 -4v3m1 -4v4m1 -3v3m1 -3v3m1 -4v5m1 -4v4m1 -4v3m1 -3v4m1 -5v5m1 -5v4m1 -4v4m1 -3v4m1 -5v5m1 -4v3m1 -4v4m1 -3v3m1 -3v4m1 -5v5m1 -4v4m1 -5v5m1 -4v4m1 -4v4m1 -5v4m1 -3v4m1 -4v3m1 -3v3m1 -4v4m1 -3v3m1 -3v3m1 -3v4m1 -5v5m1 -4v4m1 -5v4m1 -4v4m1 -3v4m1 -6v6m1 -5v4m1 -4v5m1 -5v4m1 -3v3m1 -4v5m1 -6v6m1 -5v6m1 -5v4m1 -4v3m1 -4v4m1 -4v4m1 -3v4m1 -7v7m1 -4v4m1 -4v3m1 -4v5m1 -4v3m1 -4v5m1 -6v6m1 -5v5m1 -4v4m1 -5v4m1 -4v5m1 -4v3m1 -3v4m1 -5v4m1 -4v5m1 -5v4m1 -3v4m1 -4v3m1 -3v3m1 -4v5m1 -5v5m1 -5v4m1 -3v4m1 -5v4m1 -3v5m1 -6v5m1 -5v4m1 -3v3m1 -3v3m1 -3v4m1 -5v4m1 -4v4m1 -3v3m1 -3v4m1 -5v4m1 -4v5m1 -4v3m1 -4v5m1 -4v3m1 -4v4m1 -4v5m1 -5v4m1 -4v5m1 -4v4m1 -4v4m1 -5v5m1 -4v4m1 -5v5m1 -5v5m1 -4v3m1 -4v4m1 -4v5m1 -5v4m1 -4v5m1 -4v4m1 -5v4m1 -3v4m1 -4v3m1 -3v6m1 -6v3m1 -4v4m1 -3v3m1 -4v7m1 -7v4m1 -4v4m1 -4v4m1 -4v4m1 -4v4m1 -3v4m1 -4v3m1 -4v5m1 -4v4m1 -5v4m1 -4v5m1 -6v6m1 -5v4m1 -4v4m1 -3v3m1 -4v4m1 -3v3m1 -3v3m1 -3v3m1 -4v4m1 -4v5m1 -5v4m1 -3v4m1 -4v4m1 -4v3m1 -4v4m1 -4v4m1 -4v5m1 -4v4m1 -5v5m1 -5v4m1 -3v3m1 -3v3m1 -4v5m1 -5v5m1 -5v5m1 -4v4m1 -4v3m1 -4v5m1 -4v4m1 -4v4m1 -4v3m1 -3v4m1 -4v4m1 -5v5m1 -5v5m1 -6v5m1 -3v3m1 -3v3m1 -3v3m1 -4v4m1 -4v4m1 -4v5m1 -4v3m1 -3v4m1 -5v5m1 -5v4m1 -4v4m1 -4v5m1 -4v4m1 -5v4m1 -4v4m1 -3v3m1 -4v5m1 -4v4m1 -4v4m1 -5v5m1 -5v4m1 -4v4m1 -4v4m1 -3v4m1 -5v5m1 -4v4m1 -5v5m1 -4v4m1 -5v5m1 -4v4m1 -5v5m1 -4v3m1 -3v3m1 -3v4m1 -5v4m1 -4v5m1 -5v5m1 -5v5m1 -5v5m1 -5v4m1 -4v5m1 -4v3m1 -4v4m1 -4v4m1 -3v3m1 -4v5m1 -5v5m1 -5v4m1 -3v3m1 -4v4m1 -3v3m1 -4v4m1 -4v5m1 -5v5m1 -4v4m1 -5v4m1 -4v5m1 -5v5m1 -5v5m1 -5v4m1 -3v4m1 -5v4m1 -3v4m1 -5v5m1 -5v5m1 -4v3m1 -4v5m1 -4v4m1 -5v5m1 -4v3m1 -3v4m1 -5v5m1 -5v4m1 -3v3m1 -3v4m1 -4v4m1 -5v5m1 -4v3m1 -3v3m1 -4v5m1 -4v4m1 -4v4m1 -6v5m1 -3v4m1 -5v4m1 -3v4m1 -4v3m1 -4v5m1 -4v3m1 -3v4m1 -4v4m1 -5v4m1 -3v4m1 -5v4m1 -3v4m1 -5v4m1 -3v3m1 -4v5m1 -4v4m1 -5v4m1 -4v4m1 -3v4m1 -4v3m1 -3v3m1 -3v4m1 -5v5m1 -5v5m1 -4v3m1 -3v3m1 -4v5m1 -5v5m1 -5v5m1 -5v5m1 -5v5m1 -4v4m1 -5v5m1 -5v5m1 -5v5m1 -4v4m1 -5v4m1 -4v4m1 -4v5m1 -4v4m1 -4v3m1 -4v5m1 -5v5m1 -5v4m1 -3v4m1 -4v4m1 -5v5m1 -4v4m1 -5v5m1 -5v5m1 -4v3m1 -4v5m1 -4v6m1 -7v5m1 -5v4m1 -4v5m1 -5v4m1 -3v4m1 -4v3m1 -3v4m1 -4v3m1 -4v5m1 -5v5m1 -5v5m1 -4v4m1 -5v5m1 -6v5m1 -4v5m1 -4v3m1 -3v3m1 -4v4m1 -4v4m1 -3v3m1 -3v3m1 -4v4m1 -4v4m1 -4v5m1 -4v4m1 -5v5m1 -5v5m1 -4v4m1 -4v4m1 -5v4m1 -3v3m1 -4v4m1 -6v9m1 -9v8m1 -6v6m1 -6v7m1 -8v8m1 -8v6m1 -6v7m1 -6v5m1 -4v3m1 -3v4m1 -5v5m1 -4v3m1 -3v3m1 -3v3m1 -4v5m1 -4v3m1 -4v4m1 -4v4m1 -3v3m1 -4v5m1 -4v3m1 -4v4m1 -4v5m1 -5v4m1 -4v4m1 -4v4m1 -3v4m1 -4v4m1 -4v3m1 -3v4m1 -5v4m1 -4v4m1 -3v4m1 -4v4m1 -4v3m1 -4v5m1 -5v4m1 -3v3m1 -3v3m1 -3v4m1 -6v5m1 -3v4m1 -4v3m1 -4v4m1 -4v5m1 -5v5m1 -4v3m1 -3v3m1 -3v4m1 -5v7m1 -6v4m1 -4v4m1 -5v4m1 -4v5m1 -4v3m1 -3v4m1 -4v4m1 -5v4m1 -3v4m1 -5v5m1 -5v4m1 -3v3m1 -3v3m1 -3v4m1 -4v3m1 -4v5m1 -4v3m1 -3v3m1 -4v4m1 -4v5m1 -4v4m1 -4v4m1 -5v4m1 -3v3m1 -3v3m1 -3v3m1 -3v4m1 -4v4m1 -4v3m1 -4v4m1 -3v4m1 -4v3m1 -4v5m1 -4v3m1 -4v5m1 -4v3m1 -4v5m1 -5v5m1 -5v5m1 -4v3m1 -4v5m1 -4v4m1 -5v5m1 -5v5m1 -5v5m1 -5v5m1 -5v4m1 -3v4m1 -5v4m1 -4v5m1 -4v3m1 -4v4m1 -3v3m1 -3v3m1 -4v4m1 -3v4m1 -4v4m1 -4v4m1 -5v5m1 -4v3m1 -4v5m1 -4v4m1 -4v4m1 -5v4m1 -3v3m1 -3v3m1 -4v4m1 -4v4m1 -3v4m1 -4v3m1 -4v4m1 -4v5m1 -5v4m1 -4v5m1 -5v4m1 -3v3m1 -3v4m1 -5v4m1 -3v3m1 -3v4m1 -4v4m1 -5v4m1 -3v3m1 -4v4m1 -3v4m1 -7v8m1 -5v4m1 -5v5m1 -5v5m1 -6v6m1 -5v5m1 -4v4m1 -5v4m1 -4v5m1 -4v4m1 -5v5m1 -5v5m1 -5v4m1 -4v4m1 -3v4m1 -4v4m1 -4v3m1 -4v4m1 -3v4m1 -6v6m1 -4v4m1 -5v5m1 -5v5m1 -5v4m1 -3v4m1 -5v4m1 -3v3m1 -4v5m1 -5v4m1 -3v4m1 -5v5m1 -4v3m1 -4v5m1 -4v4m1 -4v3m1 -3v3m1 -4v5m1 -5v5m1 -5v5m1 -5v4m1 -3v4m1 -4v4m1 -5v5m1 -4v3m1 -3v3m1 -3v6m1 -6v3m1 -3v3m1 -4v4m1 -4v4m1 -4v5m1 -4v3m1 -3v3m1 -4v4m1 -4v5m1 -5v5m1 -5v5m1 -4v3m1 -3v3m1 -4v5m1 -5v5m1 -4v4m1 -4v4m1 -4v3m1 -3v4m1 -6v6m1 -4v3m1 -3v3m1 -3v4m1 -5v5m1 -4v4m1 -4v4m1 -5v4m1 -4v4m1 -3v4m1 -5v5m1 -5v4m1 -3v4m1 -4v4m1 -5v5m1 -4v3m1 -4v5m1 -4v4m1 -4v4m1 -4v4m1 -5v4m1 -3v4m1 -4v4m1 -5v5m1 -5v5m1 -4v3m1 -4v5m1 -4v3m1 -4v4m1 -3v4m1 -5v4m1 -3v4m1 -5v4m1 -4v4m1 -3v3m1 -3v4m1 -5v5m1 -5v5m1 -4v3m1 -3v4m1 -5v4m1 -4v4m1 -4v5m1 -4v3m1 -4v5m1 -5v5m1 -5v5m1 -4v3m1 -3v4m1 -5v5m1 -5v5m1 -4v3m1 -4v4m1 -4v5m1 -5v5m1 -4v4m1 -5v4m1 -3v3m1 -4v4m1 -3v3m1 -4v5m1 -5v5m1 -5v4m1 -4v4m1 -3v4m1 -4v3m1 -3v3m1 -6v7m1 -4v3m1 -4v4m1 -4v5m1 -4v4m1 -4v4m1 -4v3m1 -4v4m1 -3v3m1 -4v4m1 -4v5m1 -5v4m1 -4v4m1 -4v5m1 -5v4m1 -3v4m1 -4v3m1 -4v5m1 -5v4m1 -3v4m1 -5v5m1 -4v3m1 -4v5m1 -4v4m1 -5v4m1 -3v3m1 -3v4m1 -5v4m1 -4v5m1 -5v5m1 -4v3m1 -4v4m1 -3v3m1 -4v4m1 -3v4m1 -5v4m1 -3v3m1 -4v5m1 -5v5m1 -5v4m1 -4v4m1 -3v3m1 -4v5m1 -4v3m1 -3v3m1 -4v5m1 -4v3m1 -3v3m1 -3v4m1 -4v4m1 -5v5m1 -5v4m1 -3v3m1 -3v3m1 -3v3m1 -4v4m1 -3v4m1 -4v4m1 -4v4m1 -5v5m1 -4v4m1 -4v4m1 -4v4m1 -4v3m1 -4v4m1 -3v4m1 -4v4m1 -5v4m1 -3v4m1 -5v5m1 -4v4m1 -4v3m1 -3v3m1 -4v4m1 -4v4m1 -3v3m1 -3v3m1 -3v3m1 -4v4m1 -4v5m1 -4v3m1 -4v4m1 -4v4m1 -3v5m1 -6v4m1 -3v4m1 -4v4m1 -5v5m1 -4v5m1 -5v3m1 -3v4m1 -5v4m1 -4v5m1 -4v4m1 -5v4" stroke="#00ee00" stroke-width="1" fill="none"/>
<path d="M100.5 418.0V422.0m1 -3v3m1 -3v4m1 -4v3m1 -4v4m1 -3v3m1 -3v4m1 -5v5m1 -5v5m1 -4v4m1 -5v6m1 -6v5m1 -4v3m1 -3v3m1 -4v5m1 -5v4m1 -3v3m1 -5v6m1 -5v5m1 -4v4m1 -4v3m1 -3v4m1 -5v5m1 -5v4m1 -4v4m1 -4v5m1 -4v4m1 -4v4m1 -5v4m1 -4v4m1 -4v4m1 -3v4m1 -5v4m1 -4v4m1 -4v5m1 -5v5m1 -4v4m1 -4v4m1 -4v4m1 -5v4m1 -4v4m1 -3v4m1 -4v4m1 -4v4m1 -4v4m1 -4v4m1 -4v4m1 -4v3m1 -3v3m1 -3v4m1 -4v4m1 -4v3m1 -3v4m1 -5v5m1 -5v5m1 -5v5m1 -5v4m1 -4v5m1 -4v3m1 -4v5m1 -4v3m1 -3v4m1 -4v4m1 -5v5m1 -4v4m1 -5v5m1 -5v4m1 -4v5m1 -4v4m1 -5v4m1 -3v3m1 -3v4m1 -4v4m1 -4v4m1 -5v4m1 -4v5m1 -4v3m1 -4v5m1 -4v3m1 -4v5m1 -5v5m1 -5v5m1 -5v4m1 -3v4m1 -4v3m1 -4v5m1 -5v4m1 -4v4m1 -4v5m1 -4v3m1 -6v7m1 -5v4m1 -4v4m1 -3v3m1 -3v4m1 -4v4m1 -5v5m1 -4v4m1 -4v4m1 -5v4m1 -4v5m1 -4v4m1 -5v5m1 -4v3m1 -3v4m1 -5v4m1 -5v5m1 -3v4m1 -5v4m1 -4v4m1 -4v4m1 -3v3m1 -3v3m1 -3v3m1 -4v5m1 -5v4m1 -4v4m1 -3v4m1 -5v4m1 -4v4m1 -4v4m1 -4v5m1 -5v5m1 -5v5m1 -5v4m1 -3v4m1 -5v4m1 -3v3m1 -4v4m1 -3v4m1 -4v3m1 -3v4m1 -5v5m1 -4v3m1 -4v5m1 -5v4m1 -3v3m1 -4v5m1 -4v6m1 -6v3m1 -4v4m1 -3v3m1 -4v4m1 -3v4m1 -5v4m1 -4v4m1 -3v5m1 -6v5m1 -5v4m1 -3v4m1 -5v5m1 -4v3m1 -3v3m1 -3v4m1 -4v4m1 -4v4m1 -5v5m1 -5v4m1 -3v3m1 -3v4m1 -4v3m1 -4v4m1 -3v4m1 -4v4m1 -4v4m1 -5v5m1 -5v5m1 -4v3m1 -4v4m1 -4v4m1 -4v5m1 -5v5m1 -4v4m1 -4v3m1 -3v4m1 -5v4m1 -3v4m1 -4v3m1 -4v5m1 -5v5m1 -5v5m1 -4v4m1 -4v4m1 -5v5m1 -4v4m1 -4v3m1 -3v4m1 -5v5m1 -4v4m1 -5v5m1 -6v6m1 -5v5m1 -5v4m1 -3v3m1 -4v4m1 -4v4m1 -4v5m1 -4v4m1 -5v4m1 -3v4m1 -4v3m1 -3v4m1 -5v4m1 -3v4m1 -4v4m1 -4v6m1 -6v3m1 -3v3m1 -3v4m1 -4v3m1 -3v4m1 -5v4m1 -4v4m1 -4v4m1 -4v4m1 -3v4m1 -4v4m1 -4v4m1 -5v5m1 -4v3m1 -3v4m1 -5v5m1 -4v3m1 -3v3m1 -3v4m1 -4v3m1 -3v3m1 -4v5m1 -4v3m1 -3v4m1 -5v5m1 -5v4m1 -3v4m1 -4v6m1 -7v4m1 -4v5m1 -5v4m1 -3v4m1 -4v4m1 -5v4m1 -3v4m1 -5v5m1 -4v3m1 -3v3m1 -3v4m1 -4v4m1 -5v4m1 -3v4m1 -4v4m1 -4v3m1 -3v3m1 -3v4m1 -4v3m1 -4v4m1 -4v5m1 -4v3m1 -3v4m1 -4v3m1 -4v4m1 -4v5m1 -5v4m1 -4v5m1 -4v4m1 -4v4m1 -4v3m1 -4v5m1 -5v4m1 -4v4m1 -4v4m1 -3v3m1 -4v4m1 -3v3m1 -3v3m1 -3v4m1 -5v4m1 -4v4m1 -3v4m1 -4v3m1 -4v4m1 -4v4m1 -5v6m1 -4v4m1 -4v3m1 -3v4m1 -5v4m1 -4v4m1 -4v5m1 -4v3m1 -4v5m1 -4v4m1 -5v4m1 -4v4m1 -4v5m1 -4v4m1 -4v3m1 -3v3m1 -3v3m1 -4v4m1 -4v5m1 -5v4m1 -3v4m1 -5v5m1 -4v4m1 -4v3m1 -3v4m1 -5v5m1 -5v5m1 -4v3m1 -4v5m1 -5v5m1 -5v5m1 -5v5m1 -4v3m1 -4v4m1 -3v4m1 -4v4m1 -4v4m1 -4v4m1 -4v4m1 -4v4m1 -5v5m1 -5v4m1 -4v5m1 -4v4m1 -5v5m1 -5v4m1 -3v6m1 -6v4m1 -4v4m1 -5v5m1 -4v4m1 -4v4m1 -4v4m1 -5v4m1 -4v5m1 -4v3m1 -3v3m1 -3v3m1 -3v4m1 -5v4m1 -3v4m1 -4v3m1 -3v3m1 -4v4m1 -4v4m1 -4v5m1 -5v5m1 -5v5m1 -5v5m1 -5v4m1 -4v4m1 -4v4m1 -4v5m1 -5v5m1 -5v5m1 -5v5m1 -4v3m1 -4v5m1 -5v4m1 -3v3m1 -4v5m1 -4v3m1 -3v3m1 -3v4m1 -4v4m1 -4v4m1 -5v4m1 -4v4m1 -3v3m1 -4v5m1 -4v4m1 -4v3m1 -3v4m1 -5v4m1 -3v3m1 -3v3m1 -3v4m1 -4v3m1 -4v4m1 -4v5m1 -4v3m1 -4v4m1 -3v4m1 -4v4m1 -5v4m1 -4v4m1 -3v4m1 -4v4m1 -5v4m1 -4v5m1 -4v3m1 -3v4m1 -5v4m1 -3v4m1 -6v6m1 -4v3m1 -3v4m1 -4v4m1 -5v4m1 -4v5m1 -5v4m1 -4v4m1 -3v4m1 -4v3m1 -3v3m1 -3v3m1 -3v3m1 -3v4m1 -5v5m1 -4v3m1 -3v3m1 -3v3m1 -4v4m1 -4v4m1 -3v4m1 -4v5m1 -6v4m1 -4v4m1 -4v4m1 -3v3m1 -4v4m1 -4v4m1 -4v5m1 -5v5m1 -4v4m1 -4v3m1 -3v4m1 -4v3m1 -4v5m1 -4v4m1 -4v4m1 -4v3m1 -4v4m1 -4v5m1 -4v3m1 -4v5m1 -4v3m1 -4v5m1 -5v5m1 -4v3m1 -3v4m1 -4v4m1 -5v4m1 -4v5m1 -4v5m1 -5v4m1 -5v5m1 -4v3m1 -3v4m1 -4v4m1 -5v4m1 -3v3m1 -4v5m1 -5v4m1 -5v5m1 -3v3m1 -4v4m1 -3v4m1 -5v4m1 -4v4m1 -4v4m1 -4v5m1 -4v3m1 -4v5m1 -5v4m1 -4v4m1 -4v4m1 -4v4m1 -3v4m1 -4v3m1 -3v3m1 -3v3m1 -4v4m1 -4v4m1 -4v4m1 -3v3m1 -4v4m1 -4v5m1 -5v5m1 -5v5m1 -5v5m1 -5v5m1 -4v4m1 -4v3m1 -3v3m1 -3v3m1 -3v3m1 -3v3m1 -4v5m1 -4v4m1 -5v5m1 -5v4m1 -4v5m1 -4v3m1 -3v4m1 -4v4m1 -5v4m1 -4v4m1 -3v3m1 -4v4m1 -3v3m1 -4v5m1 -4v3m1 -3v4m1 -4v3m1 -3v3m1 -4v4m1 -4v4m1 -3v5m1 -5v3m1 -5v5m1 -4v4m1 -3v4m1 -4v3m1 -3v3m1 -3v4m1 -4v4m1 -5v5m1 -4v3m1 -4v4m1 -3v3m1 -4v4m1 -4v5m1 -7v7m1 -4v4m1 -5v4m1 -4v5m1 -4v4m1 -4v4m1 -5v4m1 -3v4m1 -5v5m1 -4v3m1 -3v3m1 -4v4m1 -4v5m1 -5v5m1 -4v4m1 -4v3m1 -3v3m1 -4v5m1 -5v4m1 -4v4m1 -3v4m1 -6v6m1 -4v4m1 -4v4m1 -5v5m1 -5v4m1 -4v4m1 -3v3m1 -4v4m1 -3v4m1 -4v4m1 -4v3m1 -3v3m1 -4v4m1 -3v6m1 -6v4m1 -5v5m1 -4v6m1 -7v4m1 -4v4m1 -4v5m1 -4v3m1 -4v4m1 -3v3m1 -3v3m1 -4v5m1 -4v4m1 -4v3m1 -4v5m1 -5v4m1 -4v4m1 -3v4m1 -5v5m1 -4v4m1 -5v4m1 -4v5m1 -5v4m1 -3v4m1 -5v4m1 -3v3m1 -3v4m1 -5v4m1 -4v4m1 -3v3m1 -4v4m1 -4v5m1 -4v4m1 -5v4m1 -3v4m1 -4v3m1 -4v4m1 -3v4m1 -5v5m1 -4v4m1 -5v4m1 -4v4m1 -4v4m1 -3v4m1 -4v4m1 -4v3m1 -4v4m1 -3v4m1 -5v6m1 -6v5m1 -5v5m1 -4v4m1 -5v5m1 -4v3m1 -3v3m1 -4v4m1 -4v4m1 -4v4m1 -4v5m1 -4v3m1 -4v5m1 -5v4m1 -4v4m1 -3v3m1 -3v3m1 -3v4m1 -5v4m1 -4v4m1 -4v4m1 -4v4m1 -5v5m1 -3v3m1 -3v4m1 -5v5m1 -4v4m1 -4v4m1 -4v4m1 -5v4m1 -4v4m1 -4v5m1 -5v4m1 -4v5m1 -4v3m1 -3v4m1 -4v4m1 -4v4m1 -4v4m1 -4v3m1 -4v4m1 -4v5m1 -5v6m1 -5v3m1 -3v4m1 -4v4m1 -5v4m1 -4v4m1 -3v4m1 -5v4m1 -4v4m1 -3v3m1 -3v4m1 -4v3m1 -4v4m1 -4v5m1 -4v4m1 -6v5m1 -4v4m1 -3v3m1 -3v4m1 -4v3m1 -4v5m1 -5v4m1 -4v5m1 -5v5m1 -4v3m1 -3v3m1 -3v3m1 -4v4m1 -3v3m1 -3v4m1 -5v5m1 -4v4m1 -4v3m1 -3v4m1 -4v3m1 -3v4m1 -5v4m1 -3v4m1 -5v5m1 -5v5m1 -6v5m1 -3v4m1 -5v5m1 -5v4m1 -3v3m1 -3v6m1 -6v3m1 -4v5m1 -5v5m1 -4v3m1 -3v3m1 -4v5m1 -4v3m1 -4v5m1 -5v5m1 -5v4m1 -5v6m1 -6v5m1 -4v4m1 -3v3m1 -4v5m1 -5v5m1 -4v4m1 -5v5m1 -5v5m1 -5v5m1 -4v5m1 -6v5m1 -5v5m1 -4v3m1 -4v4m1 -4v4m1 -3v4m1 -4v3m1 -4v4m1 -3v3m1 -3v3m1 -5v5m1 -3v4m1 -5v4m1 -4v5m1 -4v4m1 -4v4m1 -5v5m1 -5v4m1 -4v4m1 -4v5m1 -5v4m1 -3v4m1 -5v4m1 -4v4m1 -4v4m1 -4v4m1 -4v5m1 -5v5m1 -5v4m1 -3v4m1 -4v4m1 -5v4m1 -3v4m1 -5v5m1 -5v4m1 -4v5m1 -5v4m1 -4v4m1 -3v3m1 -3v3m1 -3v3m1 -4v4m1 -3v3m1 -4v4m1 -3v4m1 -5v5m1 -5v5m1 -5v5m1 -4v4m1 -4v4m1 -4v4m1 -4v3m1 -4v4m1 -4v4m1 -3v3m1 -4v5m1 -5v5m1 -4v4m1 -4v4m1 -5v4m1 -3v4m1 -6v6m1 -5v5m1 -4v4m1 -4v3m1 -3v4m1 -5v5m1 -4v4m1 -5v5m1 -5v5m1 -5v4m1 -3v3m1 -4v5m1 -5v5m1 -5v5m1 -4v4m1 -4v4m1 -5v4m1 -3v4m1 -5v4m1 -3v3m1 -4v4m1 -3v3m1 -3v3m1 -3v4m1 -5v5m1 -5v5m1 -4v4m1 -4v4m1 -4v4m1 -4v4m1 -5v4m1 -4v4m1 -4v5m1 -4v3m1 -3v3m1 -4v5m1 -5v4m1 -3v4m1 -4v4m1 -5v5m1 -5v4m1 -4v4m1 -3v3m1 -4v4m1 -4v5m1 -5v4m1 -4v4m1 -4v5m1 -4v4m1 -5v4m1 -3v4m1 -4v3m1 -3v4m1 -4v3m1 -3v4m1 -4v4m1 -4v3m1 -3v4m1 -5v5m1 -4v3m1 -3v4m1 -5v5m1 -5v4m1 -4v5m1 -4v3m1 -4v5m1 -4v3m1 -4v4m1 -4v4m1 -3v3m1 -4v5m1 -4v3m1 -3v3" stroke="#e80000" stroke-width="1" fill="none"/>
<path d="M100.5 440.0V444.0m1 -4v4m1 -4v4m1 -4v5m1 -5v5m1 -5v5m1 -5v5m1 -4v3m1 -4v5m1 -4v4m1 -5v4m1 -3v4m1 -5v4m1 -3v3m1 -3v3m1 -3v4m1 -4v4m1 -5v4m1 -4v5m1 -5v5m1 -4v3m1 -4v5m1 -4v3m1 -3v3m1 -4v5m1 -4v3m1 -3v4m1 -5v5m1 -5v5m1 -4v3m1 -3v4m1 -5v4m1 -4v5m1 -4v3m1 -3v3m1 -3v4m1 -5v4m1 -3v3m1 -4v5m1 -4v3m1 -4v5m1 -5v5m1 -4v3m1 -4v4m1 -4v5m1 -5v5m1 -5v5m1 -4v4m1 -5v5m1 -5v4m1 -4v5m1 -5v4m1 -4v4m1 -3v3m1 -4v4m1 -3v3m1 -4v5m1 -4v4m1 -5v4m1 -4v5m1 -5v5m1 -5v5m1 -4v4m1 -4v4m1 -5v5m1 -6v6m1 -5v5m1 -4v3m1 -4v4m1 -4v5m1 -4v4m1 -5v5m1 -5v4m1 -3v3m1 -3v3m1 -3v4m1 -4v3m1 -3v4m1 -5v4m1 -3v4m1 -5v4m1 -3v3m1 -4v5m1 -4v3m1 -4v4m1 -3v4m1 -5v5m1 -5v5m1 -4v3m1 -3v4m1 -4v4m1 -5v4m1 -4v4m1 -4v4m1 -3v4m1 -5v4m1 -3v3m1 -4v5m1 -5v5m1 -4v3m1 -4v4m1 -4v5m1 -5v4m1 -4v4m1 -3v3m1 -3v3m1 -4v5m1 -5v7m1 -7v4m1 -3v4m1 -5v5m1 -5v5m1 -5v5m1 -4v4m1 -4v3m1 -4v5m1 -4v4m1 -5v5m1 -4v3m1 -3v4m1 -5v4m1 -4v4m1 -4v4m1 -3v4m1 -5v5m1 -5v5m1 -5v4m1 -3v4m1 -4v3m1 -3v3m1 -3v4m1 -4v4m1 -4v3m1 -5v6m1 -5v5m1 -5v5m1 -4v4m1 -4v4m1 -5v5m1 -5v4m1 -3v4m1 -4v3m1 -4v5m1 -5v4m1 -3v4m1 -7v7m1 -4v3m1 -4v4m1 -3v4m1 -5v4m1 -3v3m1 -4v5m1 -5v5m1 -5v5m1 -4v4m1 -4v4m1 -4v4m1 -4v3m1 -3v3m1 -4v4m1 -3v4m1 -5v4m1 -4v5m1 -5v4m1 -4v5m1 -5v4m1 -3v4m1 -4v4m1 -5v5m1 -5v4m1 -4v4m1 -3v4m1 -4v4m1 -4v4m1 -5v5m1 -5v5m1 -4v4m1 -4v4m1 -4v4m1 -5v4m1 -3v3m1 -4v5m1 -5v4m1 -4v5m1 -5v4m1 -4v5m1 -5v5m1 -4v3m1 -4v4m1 -4v4m1 -3v4m1 -4v4m1 -5v5m1 -5v5m1 -4v4m1 -5v4m1 -4v5m1 -5v5m1 -5v4m1 -4v5m1 -5v4m1 -3v3m1 -4v4m1 -4v5m1 -4v4m1 -5v5m1 -5v5m1 -5v4m1 -3v3m1 -3v4m1 -5v5m1 -4v4m1 -4v4m1 -5v4m1 -6v7m1 -4v3m1 -3v4m1 -5v5m1 -4v3m1 -3v3m1 -4v6m1 -6v5m1 -5v5m1 -5v4m1 -4v4m1 -4v4m1 -4v5m1 -5v4m1 -4v5m1 -5v4m1 -3v4m1 -5v4m1 -4v5m1 -5v5m1 -5v5m1 -5v5m1 -5v4m1 -4v5m1 -5v4m1 -4v5m1 -4v4m1 -5v5m1 -5v5m1 -4v4m1 -4v4m1 -5v5m1 -5v4m1 -3v4m1 -5v4m1 -3v4m1 -4v4m1 -5v5m1 -4v4m1 -4v3m1 -4v5m1 -7v7m1 -4v4m1 -5v5m1 -5v5m1 -5v5m1 -4v3m1 -3v3m1 -4v4m1 -3v3m1 -3v3m1 -3v4m1 -4v3m1 -3v4m1 -5v4m1 -3v4m1 -4v4m1 -4v4m1 -5v4m1 -4v5m1 -4v4m1 -5v5m1 -5v4m1 -4v4m1 -4v5m1 -5v4m1 -3v3m1 -4v4m1 -3v3m1 -4v5m1 -5v4m1 -3v4m1 -5v4m1 -3v3m1 -6v6m1 -3v3m1 -3v5m1 -6v4m1 -3v3m1 -4v4m1 -3v4m1 -4v4m1 -5v4m1 -3v3m1 -4v5m1 -5v4m1 -4v5m1 -5v4m1 -3v4m1 -5v5m1 -4v4m1 -4v3m1 -4v5m1 -4v3m1 -4v4m1 -3v4m1 -5v5m1 -5v5m1 -4v3m1 -4v5m1 -4v3m1 -4v5m1 -4v4m1 -4v3m1 -3v3m1 -4v5m1 -4v3m1 -3v4m1 -4v3m1 -4v4m1 -4v5m1 -5v7m1 -6v4m1 -5v5m1 -4v4m1 -4v3m1 -4v4m1 -4v5m1 -5v4m1 -3v3m1 -4v4m1 -4v4m1 -3v4m1 -4v3m1 -4v4m1 -4v4m1 -4v5m1 -5v4m1 -4v5m1 -5v5m1 -4v4m1 -5v5m1 -5v5m1 -4v3m1 -4v4m1 -4v4m1 -4v5m1 -5v5m1 -5v4m1 -4v5m1 -4v4m1 -4v3m1 -3v3m1 -4v5m1 -4v3m1 -3v3m1 -4v5m1 -5v4m1 -4v4m1 -3v4m1 -4v4m1 -5v5m1 -4v4m1 -4v3m1 -3v3m1 -3v4m1 -5v4m1 -3v3m1 -3v3m1 -4v5m1 -4v3m1 -3v3m1 -4v4m1 -3v3m1 -3v4m1 -4v4m1 -5v5m1 -5v4m1 -3v4m1 -4v3m1 -3v3m1 -3v4m1 -4v3m1 -3v4m1 -5v4m1 -3v6m1 -6v3m1 -4v5m1 -4v3m1 -4v4m1 -4v4m1 -3v4m1 -4v4m1 -5v4m1 -4v4m1 -4v5m1 -4v4m1 -5v4m1 -3v4m1 -4v4m1 -5v4m1 -3v6m1 -6v3m1 -4v5m1 -4v4m1 -5v5m1 -5v4m1 -4v5m1 -5v5m1 -5v5m1 -5v4m1 -3v3m1 -3v3m1 -3v3m1 -4v4m1 -3v4m1 -5v5m1 -4v3m1 -3v4m1 -5v5m1 -5v4m1 -4v4m1 -4v4m1 -4v4m1 -3v4m1 -4v4m1 -4v4m1 -4v4m1 -5v4m1 -4v4m1 -4v5m1 -5v5m1 -5v5m1 -5v4m1 -4v4m1 -3v3m1 -3v4m1 -4v4m1 -4v4m1 -4v4m1 -5v6m1 -6v4m1 -4v5m1 -4v4m1 -5v4m1 -4v5m1 -4v3m1 -4v4m1 -4v5m1 -5v4m1 -4v5m1 -4v4m1 -4v3m1 -3v3m1 -3v3m1 -3v3m1 -4v4m1 -4v4m1 -4v4m1 -4v5m1 -5v4m1 -4v4m1 -4v5m1 -5v5m1 -4v3m1 -3v4m1 -4v3m1 -4v5m1 -5v4m1 -4v5m1 -5v5m1 -4v3m1 -4v4m1 -3v4m1 -4v3m1 -4v4m1 -3v3m1 -3v3m1 -3v3m1 -3v4m1 -5v4m1 -4v5m1 -4v4m1 -5v4m1 -3v3m1 -4v5m1 -4v4m1 -4v4m1 -4v4m1 -5v5m1 -7v6m1 -4v5m1 -5v5m1 -5v5m1 -4v3m1 -3v3m1 -4v5m1 -5v5m1 -4v4m1 -5v5m1 -5v4m1 -3v3m1 -3v3m1 -3v3m1 -3v4m1 -4v3m1 -4v5m1 -5v5m1 -5v4m1 -3v3m1 -3v4m1 -4v4m1 -5v4m1 -3v4m1 -5v4m1 -4v4m1 -4v4m1 -3v4m1 -4v3m1 -3v4m1 -5v5m1 -5v4m1 -3v3m1 -4v5m1 -4v3m1 -3v4m1 -5v5m1 -4v4m1 -5v5m1 -4v4m1 -5v5m1 -4v3m1 -4v5m1 -5v5m1 -4v3m1 -3v4m1 -4v3m1 -4v4m1 -3v3m1 -4v4m1 -4v5m1 -4v3m1 -4v5m1 -4v3m1 -3v4m1 -5v5m1 -4v4m1 -4v4m1 -4v4m1 -4v3m1 -3v4m1 -5v5m1 -5v5m1 -5v4m1 -4v5m1 -4v4m1 -5v5m1 -4v4m1 -4v4m1 -5v4m1 -3v4m1 -5v5m1 -5v5m1 -4v3m1 -3v3m1 -4v5m1 -4v4m1 -4v4m1 -4v3m1 -4v4m1 -4v4m1 -3v4m1 -5v5m1 -5v5m1 -4v4m1 -5v5m1 -4v3m1 -4v4m1 -3v5m1 -6v4m1 -3v4m1 -4v4m1 -5v4m1 -4v4m1 -4v5m1 -5v5m1 -4v3m1 -3v6m1 -6v4m1 -5v4m1 -5v6m1 -4v3m1 -3v3m1 -4v4m1 -4v5m1 -6v5m1 -3v4m1 -5v4m1 -4v5m1 -5v5m1 -4v3m1 -3v4m1 -5v4m1 -4v4m1 -3v3m1 -3v3m1 -4v5m1 -4v3m1 -4v5m1 -4v4m1 -4v4m1 -5v5m1 -5v4m1 -3v3m1 -3v3m1 -3v4m1 -5v5m1 -4v3m1 -4v4m1 -4v4m1 -3v4m1 -4v4m1 -5v4m1 -4v4m1 -3v3m1 -3v4m1 -4v3m1 -3v4m1 -4v3m1 -4v4m1 -3v3m1 -4v5m1 -5v5m1 -4v4m1 -5v5m1 -4v4m1 -4v3m1 -4v5m1 -5v5m1 -4v4m1 -4v3m1 -3v3m1 -4v5m1 -5v5m1 -5v5m1 -4v4m1 -5v4m1 -4v4m1 -4v5m1 -5v4m1 -4v4m1 -4v5m1 -5v5m1 -5v4m1 -3v4m1 -5v4m1 -3v3m1 -4v5m1 -4v3m1 -4v5m1 -4v4m1 -5v4m1 -3v4m1 -5v4m1 -3v3m1 -4v5m1 -5v5m1 -4v4m1 -5v5m1 -4v3m1 -3v3m1 -4v4m1 -3v4m1 -4v4m1 -5v5m1 -5v4m1 -4v4m1 -4v5m1 -4v3m1 -4v4m1 -4v4m1 -4v4m1 -3v4m1 -5v5m1 -4v4m1 -4v4m1 -4v3m1 -3v4m1 -5v4m1 -3v3m1 -4v4m1 -4v4m1 -3v3m1 -4v5m1 -5v4m1 -3v4m1 -5v4m1 -3v4m1 -4v4m1 -5v5m1 -5v4m1 -4v5m1 -6v5m1 -4v5m1 -5v4m1 -3v5m1 -5v3m1 -4v4m1 -3v3m1 -3v3m1 -3v3m1 -3v4m1 -5v4m1 -4v4m1 -3v4m1 -5v5m1 -4v3m1 -4v4m1 -4v4m1 -3v3m1 -3v3m1 -4v4m1 -4v4m1 -4v4m1 -3v4m1 -5v4m1 -3v3m1 -3v3m1 -4v4m1 -4v4m1 -4v4m1 -3v3m1 -4v4m1 -4v4m1 -4v4m1 -4v4m1 -3v4m1 -4v3m1 -3v4m1 -4v3m1 -3v3m1 -4v4m1 -3v4m1 -5v4m1 -3v3m1 -3v4m1 -5v4m1 -4v4m1 -3v4m1 -5v4m1 -3v4m1 -4v4m1 -5v4m1 -3v3m1 -4v4m1 -3v3m1 -4v4m1 -3v4m1 -4v4m1 -5v4m1 -3v3m1 -3v3m1 -3v4m1 -4v4m1 -4v3m1 -4v4m1 -3v4m1 -5v4m1 -3v4m1 -5v5m1 -5v5m1 -4v4m1 -6v6m1 -4v4m1 -5v5m1 -5v6m1 -5v4m1 -5v4m1 -3v3m1 -4v4m1 -4v4m1 -4v5m1 -4v3m1 -3v4m1 -7v7m1 -4v3m1 -4v4m1 -4v4m1 -4v5m1 -4v4m1 -4v4m1 -5v5m1 -4v3m1 -5v6m1 -5v4m1 -3v3m1 -4v4m1 -4v4m1 -4v4m1 -3v4m1 -5v5m1 -4v3m1 -4v4m1 -3v3m1 -4v4m1 -4v5m1 -5v5m1 -4v3m1 -3v4m1 -4v4m1 -4v3m1 -3v3m1 -3v4m1 -5v5m1 -5v4m1 -4v5m1 -5v4m1 -3v4m1 -5v4m1 -3v3m1 -4v5m1 -4v4m1 -5v4m1 -3v5m1 -6v4m1 -3v4m1 -6v5m1 -3v3m1 -3v4m1 -5v5m1 -4v3m1 -3v4m1 -5v6m1 -5v4m1 -4v4m1 -4v3m1 -3v3m1 -3v4m1 -4v4m1 -4v4m1 -4v4m1 -5v4m1 -4v5m1 -5v4" stroke="#000000" stroke-width="1" fill="none"/>
<path d="M100.5 462.0V468.0m1 -6v6m1 -5v4m1 -4v5m1 -5v4m1 -5v6m1 -6v5m1 -4v4m1 -5v6m1 -6v5m1 -4v5m1 -6v5m1 -4v5m1 -5v6m1 -6v5m1 -5v5m1 -5v5m1 -6v5m1 -4v4m1 -4v4m1 -4v4m1 -5v5m1 -4v4m1 -4v4m1 -4v4m1 -4v4m1 -4v5m1 -5v4m1 -5v5m1 -4v4m1 -5v5m1 -5v5m1 -5v6m1 -6v5m1 -6v7m1 -6v5m1 -4v6m1 -7v5m1 -6v7m1 -5v4m1 -4v4m1 -5v6m1 -6v6m1 -6v5m1 -4v4m1 -4v4m1 -4v4m1 -4v5m1 -6v5m1 -4v4m1 -4v4m1 -4v4m1 -4v5m1 -5v4m1 -4v5m1 -5v4m1 -4v4m1 -4v4m1 -4v5m1 -6v5m1 -5v5m1 -4v5m1 -6v6m1 -6v5m1 -4v5m1 -6v5m1 -4v5m1 -5v4m1 -5v5m1 -5v6m1 -5v4m1 -4v7m1 -7v5m1 -6v6m1 -6v5m1 -4v5m1 -5v4m1 -4v4m1 -4v4m1 -5v5m1 -5v5m1 -4v5m1 -5v4m1 -5v5m1 -4v4m1 -4v4m1 -4v5m1 -5v5m1 -5v4m1 -4v4m1 -5v6m1 -6v7m1 -6v4m1 -6v6m1 -5v5m1 -5v5m1 -5v5m1 -4v4m1 -4v5m1 -5v4m1 -4v5m1 -6v5m1 -4v4m1 -4v4m1 -4v4m1 -5v6m1 -6v5m1 -5v5m1 -4v5m1 -5v4m1 -5v5m1 -4v4m1 -4v4m1 -6v6m1 -4v5m1 -5v4m1 -5v5m1 -5v6m1 -5v4m1 -4v5m1 -5v4m1 -5v5m1 -5v5m1 -5v5m1 -4v4m1 -5v5m1 -5v6m1 -5v4m1 -4v4m1 -4v4m1 -4v5m1 -5v4m1 -4v4m1 -4v5m1 -5v4m1 -4v4m1 -4v5m1 -5v4m1 -4v4m1 -5v6m1 -5v4m1 -5v5m1 -5v5m1 -5v5m1 -4v5m1 -6v5m1 -5v5m1 -5v5m1 -4v5m1 -6v5m1 -4v7m1 -7v4m1 -4v4m1 -5v5m1 -5v5m1 -5v5m1 -4v4m1 -5v6m1 -6v5m1 -4v4m1 -4v4m1 -5v5m1 -5v5m1 -4v4m1 -4v5m1 -5v5m1 -6v5m1 -4v5m1 -6v5m1 -5v5m1 -4v5m1 -5v5m1 -6v5m1 -5v5m1 -4v5m1 -6v6m1 -5v4m1 -5v5m1 -4v5m1 -5v5m1 -6v5m1 -5v5m1 -4v4m1 -5v5m1 -4v4m1 -4v4m1 -4v4m1 -5v5m1 -4v4m1 -4v4m1 -4v4m1 -5v5m1 -5v6m1 -5v5m1 -5v4m1 -5v6m1 -5v4m1 -4v5m1 -5v5m1 -5v5m1 -6v5m1 -5v6m1 -5v5m1 -5v4m1 -5v5m1 -4v5m1 -6v6m1 -5v5m1 -5v5m1 -6v6m1 -5v4m1 -4v4m1 -4v4m1 -5v5m1 -4v5m1 -6v6m1 -6v6m1 -6v5m1 -6v6m1 -4v4m1 -4v4m1 -5v5m1 -4v5m1 -6v5m1 -5v5m1 -4v4m1 -4v4m1 -5v5m1 -5v6m1 -5v4m1 -4v5m1 -5v4m1 -4v4m1 -5v6m1 -5v5m1 -6v6m1 -5v4m1 -4v4m1 -5v6m1 -5v4m1 -5v6m1 -5v4m1 -5v5m1 -4v4m1 -4v4m1 -4v5m1 -6v6m1 -7v7m1 -5v4m1 -4v4m1 -4v4m1 -4v4m1 -4v4m1 -4v4m1 -4v4m1 -4v5m1 -6v5m1 -5v5m1 -5v6m1 -5v4m1 -4v4m1 -4v5m1 -6v5m1 -4v5m1 -5v5m1 -5v4m1 -4v4m1 -4v4m1 -5v5m1 -4v5m1 -5v4m1 -4v4m1 -4v4m1 -4v4m1 -4v4m1 -4v4m1 -4v4m1 -5v5m1 -4v4m1 -4v4m1 -5v5m1 -5v6m1 -5v5m1 -5v4m1 -5v5m1 -4v4m1 -5v5m1 -4v4m1 -5v5m1 -5v5m1 -5v6m1 -6v5m1 -5v5m1 -4v5m1 -5v4m1 -5v5m1 -4v5m1 -5v5m1 -6v6m1 -6v6m1 -5v4m1 -5v6m1 -6v5m1 -4v5m1 -5v4m1 -4v5m1 -5v4m1 -4v4m1 -4v4m1 -4v5m1 -5v5m1 -5v5m1 -6v6m1 -6v6m1 -6v5m1 -4v4m1 -5v5m1 -4v4m1 -5v5m1 -5v5m1 -4v4m1 -4v5m1 -6v7m1 -6v4m1 -4v4m1 -4v4m1 -4v4m1 -4v4m1 -4v4m1 -5v6m1 -5v4m1 -4v4m1 -4v5m1 -5v4m1 -4v5m1 -5v4m1 -4v5m1 -5v5m1 -5v5m1 -6v5m1 -4v4m1 -5v6m1 -5v4m1 -5v6m1 -6v6m1 -5v4m1 -4v4m1 -5v5m1 -6v7m1 -5v4m1 -5v5m1 -4v5m1 -6v5m1 -4v4m1 -4v5m1 -6v5m1 -4v4m1 -4v4m1 -5v5m1 -4v4m1 -4v5m1 -5v5m1 -5v5m1 -6v5m1 -4v5m1 -5v4m1 -4v5m1 -5v5m1 -5v4m1 -4v4m1 -4v4m1 -5v5m1 -4v4m1 -4v4m1 -5v5m1 -4v5m1 -6v5m1 -4v5m1 -5v4m1 -4v4m1 -5v6m1 -6v6m1 -5v6m1 -6v5m1 -5v5m1 -5v4m1 -5v6m1 -5v4m1 -4v5m1 -5v4m1 -4v4m1 -4v4m1 -4v4m1 -4v5m1 -6v5m1 -4v4m1 -5v5m1 -4v4m1 -4v6m1 -7v5m1 -4v4m1 -4v4m1 -4v4m1 -4v4m1 -5v5m1 -4v4m1 -5v5m1 -5v5m1 -5v6m1 -6v6m1 -5v5m1 -5v4m1 -4v5m1 -5v4m1 -4v4m1 -4v5m1 -5v5m1 -6v6m1 -5v5m1 -6v5m1 -4v4m1 -4v4m1 -4v4m1 -5v5m1 -4v4m1 -5v5m1 -5v6m1 -6v5m1 -5v6m1 -6v6m1 -5v5m1 -5v4m1 -4v4m1 -5v5m1 -4v4m1 -5v6m1 -5v5m1 -5v5m1 -5v4m1 -5v5m1 -4v4m1 -4v5m1 -5v4m1 -5v5m1 -4v4m1 -4v4m1 -4v5m1 -5v5m1 -5v4m1 -4v4m1 -4v4m1 -4v5m1 -5v4m1 -4v4m1 -4v4m1 -4v4m1 -4v4m1 -4v5m1 -5v5m1 -6v5m1 -5v5m1 -4v4m1 -4v4m1 -4v6m1 -7v5m1 -5v6m1 -5v4m1 -4v5m1 -6v5m1 -4v4m1 -5v5m1 -4v5m1 -5v4m1 -5v5m1 -4v4m1 -5v6m1 -6v6m1 -5v4m1 -5v6m1 -5v4m1 -5v6m1 -5v5m1 -6v5m1 -4v5m1 -5v5m1 -5v4m1 -5v6m1 -5v4m1 -5v5m1 -4v4m1 -4v4m1 -4v4m1 -4v4m1 -5v5m1 -4v4m1 -4v5m1 -5v4m1 -5v6m1 -6v5m1 -4v4m1 -4v4m1 -4v4m1 -5v6m1 -5v5m1 -5v5m1 -5v4m1 -4v4m1 -5v5m1 -5v5m1 -5v5m1 -4v5m1 -6v5m1 -4v4m1 -4v4m1 -5v5m1 -5v5m1 -4v4m1 -5v5m1 -5v6m1 -5v5m1 -6v5m1 -5v6m1 -6v5m1 -5v5m1 -4v4m1 -4v4m1 -4v4m1 -4v4m1 -4v4m1 -4v4m1 -4v5m1 -6v5m1 -5v6m1 -6v5m1 -4v4m1 -4v5" stroke="#0000ea" stroke-width="1" fill="none"/>
<rect x="636" y="465" width="312" height="1" fill="#1a1a8c"/>
<rect x="99.5" y="59.5" width="849" height="609" fill="none" stroke="#000" stroke-width="3"/>
<rect x="168" y="61" width="3" height="8" fill="#000"/>
<rect x="168" y="659" width="3" height="8" fill="#000"/>
<rect x="239" y="61" width="3" height="8" fill="#000"/>
<rect x="239" y="659" width="3" height="8" fill="#000"/>
<rect x="240" y="59" width="1" height="10" fill="#e5e5e5"/>
<rect x="240" y="659" width="1" height="10" fill="#e5e5e5"/>
<rect x="310" y="61" width="3" height="8" fill="#000"/>
<rect x="310" y="659" width="3" height="8" fill="#000"/>
<rect x="381" y="61" width="3" height="8" fill="#000"/>
<rect x="381" y="659" width="3" height="8" fill="#000"/>
<rect x="382" y="59" width="1" height="10" fill="#e5e5e5"/>
<rect x="382" y="659" width="1" height="10" fill="#e5e5e5"/>
<rect x="452" y="61" width="3" height="8" fill="#000"/>
<rect x="452" y="659" width="3" height="8" fill="#000"/>
<rect x="522" y="61" width="3" height="8" fill="#000"/>
<rect x="522" y="659" width="3" height="8" fill="#000"/>
<rect x="524" y="59" width="1" height="10" fill="#e5e5e5"/>
<rect x="524" y="659" width="1" height="10" fill="#e5e5e5"/>
<rect x="593" y="61" width="3" height="8" fill="#000"/>
<rect x="593" y="659" width="3" height="8" fill="#000"/>
<rect x="664" y="61" width="3" height="8" fill="#000"/>
<rect x="664" y="659" width="3" height="8" fill="#000"/>
<rect x="665" y="59" width="1" height="10" fill="#e5e5e5"/>
<rect x="665" y="659" width="1" height="10" fill="#e5e5e5"/>
<rect x="735" y="61" width="3" height="8" fill="#000"/>
<rect x="735" y="659" width="3" height="8" fill="#000"/>
<rect x="806" y="61" width="3" height="8" fill="#000"/>
<rect x="806" y="659" width="3" height="8" fill="#000"/>
<rect x="807" y="59" width="1" height="10" fill="#e5e5e5"/>
<rect x="807" y="659" width="1" height="10" fill="#e5e5e5"/>
<rect x="877" y="61" width="3" height="8" fill="#000"/>
<rect x="877" y="659" width="3" height="8" fill="#000"/>
<text x="524.5" y="27" text-anchor="middle" font-family="Liberation Sans, Arial, Helvetica, sans-serif" font-size="18.7" font-weight="bold" fill="#000">INSTITUTO GEOGRÁFICO NACIONAL</text>
<text x="304.5" y="52" font-family="Liberation Sans, Arial, Helvetica, sans-serif" font-size="16" fill="#222" xml:space="preserve">Estación:  CLUM ( HHZ ) - GRAN CANARIA</text>
<text x="661" y="52" font-family="Liberation Sans, Arial, Helvetica, sans-serif" font-size="16" fill="#222">2026-02-18</text>
<text x="948.8" y="53.6" text-anchor="end" font-family="Liberation Sans, Arial, Helvetica, sans-serif" font-size="13.3" fill="#8c8c8c">[0.1 40] Hz</text>
<rect x="112" y="78" width="3" height="7" fill="#d80000"/>
<text x="127.5" y="85.6" font-family="Liberation Sans, Arial, Helvetica, sans-serif" font-size="10.6" fill="#8c8c8c">3000 nm/s</text>
<text x="94.2" y="110.2" text-anchor="end" font-family="Liberation Sans, Arial, Helvetica, sans-serif" font-size="13" fill="#111">00</text>
<text x="952.6" y="110.2" font-family="Liberation Sans, Arial, Helvetica, sans-serif" font-size="13" fill="#111">01</text>
<text x="94.2" y="132.7" text-anchor="end" font-family="Liberation Sans, Arial, Helvetica, sans-serif" font-size="13" fill="#111">01</text>
<text x="952.6" y="132.7" font-family="Liberation Sans, Arial, Helvetica, sans-serif" font-size="13" fill="#111">02</text>
<text x="94.2" y="155.3" text-anchor="end" font-family="Liberation Sans, Arial, Helvetica, sans-serif" font-size="13" fill="#111">02</text>
<text x="952.6" y="155.3" font-family="Liberation Sans, Arial, Helvetica, sans-serif" font-size="13" fill="#111">03</text>
<text x="94.2" y="177.9" text-anchor="end" font-family="Liberation Sans, Arial, Helvetica, sans-serif" font-size="13" fill="#111">03</text>
<text x="952.6" y="177.9" font-family="Liberation Sans, Arial, Helvetica, sans-serif" font-size="13" fill="#111">04</text>
<text x="94.2" y="200.5" text-anchor="end" font-family="Liberation Sans, Arial, Helvetica, sans-serif" font-size="13" fill="#111">04</text>
<text x="952.6" y="200.5" font-family="Liberation Sans, Arial, Helvetica, sans-serif" font-size="13" fill="#111">05</text>
<text x="94.2" y="223.1" text-anchor="end" font-family="Liberation Sans, Arial, Helvetica, sans-serif" font-size="13" fill="#111">05</text>
<text x="952.6" y="223.1" font-family="Liberation Sans, Arial, Helvetica, sans-serif" font-size="13" fill="#111">06</text>
<text x="94.2" y="245.6" text-anchor="end" font-family="Liberation Sans, Arial, Helvetica, sans-serif" font-size="13" fill="#111">06</text>
<text x="952.6" y="245.6" font-family="Liberation Sans, Arial, Helvetica, sans-serif" font-size="13" fill="#111">07</text>
<text x="94.2" y="268.2" text-anchor="end" font-family="Liberation Sans, Arial, Helvetica, sans-serif" font-size="13" fill="#111">07</text>
<text x="952.6" y="268.2" font-family="Liberation Sans, Arial, Helvetica, sans-serif" font-size="13" fill="#111">08</text>
<text x="94.2" y="290.8" text-anchor="end" font-family="Liberation Sans, Arial, Helvetica, sans-serif" font-size="13" fill="#111">08</text>
<text x="952.6" y="290.8" font-family="Liberation Sans, Arial, Helvetica, sans-serif" font-size="13" fill="#111">09</text>
<text x="94.2" y="313.4" text-anchor="end" font-family="Liberation Sans, Arial, Helvetica, sans-serif" font-size="13" fill="#111">09</text>
<text x="952.6" y="313.4" font-family="Liberation Sans, Arial, Helvetica, sans-serif" font-size="13" fill="#111">10</text>
<text x="94.2" y="335.9" text-anchor="end" font-family="Liberation Sans, Arial, Helvetica, sans-serif" font-size="13" fill="#111">10</text>
<text x="952.6" y="335.9" font-family="Liberation Sans, Arial, Helvetica, sans-serif" font-size="13" fill="#111">11</text>
<text x="94.2" y="358.5" text-anchor="end" font-family="Liberation Sans, Arial, Helvetica, sans-serif" font-size="13" fill="#111">11</text>
<text x="952.6" y="358.5" font-family="Liberation Sans, Arial, Helvetica, sans-serif" font-size="13" fill="#111">12</text>
<text x="94.2" y="381.1" text-anchor="end" font-family="Liberation Sans, Arial, Helvetica, sans-serif" font-size="13" fill="#111">12</text>
<text x="952.6" y="381.1" font-family="Liberation Sans, Arial, Helvetica, sans-serif" font-size="13" fill="#111">13</text>
<text x="94.2" y="403.7" text-anchor="end" font-family="Liberation Sans, Arial, Helvetica, sans-serif" font-size="13" fill="#111">13</text>
<text x="952.6" y="403.7" font-family="Liberation Sans, Arial, Helvetica, sans-serif" font-size="13" fill="#111">14</text>
<text x="94.2" y="426.3" text-anchor="end" font-family="Liberation Sans, Arial, Helvetica, sans-serif" font-size="13" fill="#111">14</text>
<text x="952.6" y="426.3" font-family="Liberation Sans, Arial, Helvetica, sans-serif" font-size="13" fill="#111">15</text>
<text x="94.2" y="448.9" text-anchor="end" font-family="Liberation Sans, Arial, Helvetica, sans-serif" font-size="13" fill="#111">15</text>
<text x="952.6" y="448.9" font-family="Liberation Sans, Arial, Helvetica, sans-serif" font-size="13" fill="#111">16</text>
<text x="94.2" y="471.4" text-anchor="end" font-family="Liberation Sans, Arial, Helvetica, sans-serif" font-size="13" fill="#111">16</text>
<text x="952.6" y="471.4" font-family="Liberation Sans, Arial, Helvetica, sans-serif" font-size="13" fill="#111">17</text>
<text x="94.2" y="494.0" text-anchor="end" font-family="Liberation Sans, Arial, Helvetica, sans-serif" font-size="13" fill="#111">17</text>
<text x="952.6" y="494.0" font-family="Liberation Sans, Arial, Helvetica, sans-serif" font-size="13" fill="#111">18</text>
<text x="94.2" y="516.6" text-anchor="end" font-family="Liberation Sans, Arial, Helvetica, sans-serif" font-size="13" fill="#111">18</text>
<text x="952.6" y="516.6" font-family="Liberation Sans, Arial, Helvetica, sans-serif" font-size="13" fill="#111">19</text>
<text x="94.2" y="539.2" text-anchor="end" font-family="Liberation Sans, Arial, Helvetica, sans-serif" font-size="13" fill="#111">19</text>
<text x="952.6" y="539.2" font-family="Liberation Sans, Arial, Helvetica, sans-serif" font-size="13" fill="#111">20</text>
<text x="94.2" y="561.8" text-anchor="end" font-family="Liberation Sans, Arial, Helvetica, sans-serif" font-size="13" fill="#111">20</text>
<text x="952.6" y="561.8" font-family="Liberation Sans, Arial, Helvetica, sans-serif" font-size="13" fill="#111">21</text>
<text x="94.2" y="584.3" text-anchor="end" font-family="Liberation Sans, Arial, Helvetica, sans-serif" font-size="13" fill="#111">21</text>
<text x="952.6" y="584.3" font-family="Liberation Sans, Arial, Helvetica, sans-serif" font-size="13" fill="#111">22</text>
<text x="94.2" y="606.9" text-anchor="end" font-family="Liberation Sans, Arial, Helvetica, sans-serif" font-size="13" fill="#111">22</text>
<text x="952.6" y="606.9" font-family="Liberation Sans, Arial, Helvetica, sans-serif" font-size="13" fill="#111">23</text>
<text x="94.2" y="629.5" text-anchor="end" font-family="Liberation Sans, Arial, Helvetica, sans-serif" font-size="13" fill="#111">23</text>
<text x="952.6" y="629.5" font-family="Liberation Sans, Arial, Helvetica, sans-serif" font-size="13" fill="#111">24</text>
<text x="169.6" y="691.8" text-anchor="middle" font-family="Liberation Sans, Arial, Helvetica, sans-serif" font-size="16" fill="#111">5</text>
<text x="240.4" y="691.8" text-anchor="middle" font-family="Liberation Sans, Arial, Helvetica, sans-serif" font-size="16" fill="#111">10</text>
<text x="311.1" y="691.8" text-anchor="middle" font-family="Liberation Sans, Arial, Helvetica, sans-serif" font-size="16" fill="#111">15</text>
<text x="381.9" y="691.8" text-anchor="middle" font-family="Liberation Sans, Arial, Helvetica, sans-serif" font-size="16" fill="#111">20</text>
<text x="452.7" y="691.8" text-anchor="middle" font-family="Liberation Sans, Arial, Helvetica, sans-serif" font-size="16" fill="#111">25</text>
<text x="523.5" y="691.8" text-anchor="middle" font-family="Liberation Sans, Arial, Helvetica, sans-serif" font-size="16" fill="#111">30</text>
<text x="594.3" y="691.8" text-anchor="middle" font-family="Liberation Sans, Arial, Helvetica, sans-serif" font-size="16" fill="#111">35</text>
<text x="665.0" y="691.8" text-anchor="middle" font-family="Liberation Sans, Arial, Helvetica, sans-serif" font-size="16" fill="#111">40</text>
<text x="735.8" y="691.8" text-anchor="middle" font-family="Liberation Sans, Arial, Helvetica, sans-serif" font-size="16" fill="#111">45</text>
<text x="806.6" y="691.8" text-anchor="middle" font-family="Liberation Sans, Arial, Helvetica, sans-serif" font-size="16" fill="#111">50</text>
<text x="877.4" y="691.8" text-anchor="middle" font-family="Liberation Sans, Arial, Helvetica, sans-serif" font-size="16" fill="#111">55</text>
<text x="948.2" y="691.8" text-anchor="middle" font-family="Liberation Sans, Arial, Helvetica, sans-serif" font-size="16" fill="#111">60</text>
<text x="525.5" y="713.5" text-anchor="middle" font-family="Liberation Sans, Arial, Helvetica, sans-serif" font-size="16" fill="#111">Tiempo (minutos)</text>
<text transform="translate(69 364.2) rotate(-90)" text-anchor="middle" font-family="Liberation Sans, Arial, Helvetica, sans-serif" font-size="16" fill="#111">Horas (UTC)</text>
</svg>
</body></html>
